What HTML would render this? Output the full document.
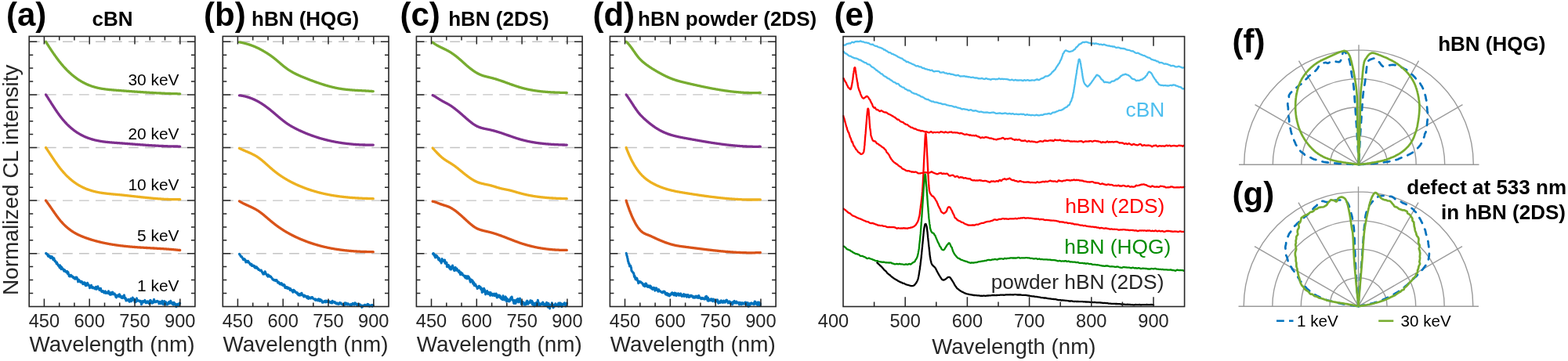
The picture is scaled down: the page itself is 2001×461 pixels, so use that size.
<!DOCTYPE html>
<html><head><meta charset="utf-8"><title>CL spectra figure</title>
<style>
html,body{margin:0;padding:0;background:#fff;}
body{width:2001px;height:461px;overflow:hidden;}
svg{display:block;font-family:'Liberation Sans', Arial, sans-serif;}
</style></head><body>
<svg width="2001" height="461" viewBox="0 0 2001 461">
<rect width="2001" height="461" fill="#fff"/>
<line x1="38" y1="323.7" x2="248.9" y2="323.7" stroke="#c4c4c4" stroke-width="1.4" stroke-dasharray="12.7 8.3"/>
<line x1="38" y1="256.1" x2="248.9" y2="256.1" stroke="#c4c4c4" stroke-width="1.4" stroke-dasharray="12.7 8.3"/>
<line x1="38" y1="188.5" x2="248.9" y2="188.5" stroke="#c4c4c4" stroke-width="1.4" stroke-dasharray="12.7 8.3"/>
<line x1="38" y1="120.9" x2="248.9" y2="120.9" stroke="#c4c4c4" stroke-width="1.4" stroke-dasharray="12.7 8.3"/>
<line x1="38" y1="53.3" x2="248.9" y2="53.3" stroke="#c4c4c4" stroke-width="1.4" stroke-dasharray="12.7 8.3"/>
<path d="M58.5 53.3L59 54.1L59.5 54.9L60 55.7L60.5 56.5L61 57.2L61.5 58L62 58.8L62.5 59.6L63 60.4L63.5 61.1L64 61.9L64.5 62.7L65 63.4L65.5 64.2L66 64.9L66.5 65.7L67 66.4L67.5 67.1L68 67.9L68.5 68.6L69 69.3L69.5 70L70 70.7L70.5 71.4L71 72.1L71.5 72.8L72 73.5L72.5 74.2L73 74.9L73.5 75.5L74 76.2L74.5 76.9L75 77.5L75.5 78.2L76 78.8L76.5 79.4L77 80L77.5 80.6L78 81.3L78.5 81.9L79 82.5L79.5 83L80 83.6L80.5 84.2L81 84.8L81.5 85.3L82 85.9L82.5 86.4L83 87L83.5 87.5L84 88L84.5 88.5L85 89.1L85.5 89.6L86 90.1L86.5 90.6L87 91L87.5 91.5L88 92L88.5 92.5L89 92.9L89.5 93.4L90 93.8L90.5 94.3L91 94.7L91.5 95.2L92 95.6L92.5 96L93 96.4L93.5 96.8L94 97.2L94.5 97.6L95 98L95.5 98.4L96 98.8L96.5 99.2L97 99.5L97.5 99.9L98 100.3L98.5 100.6L99 101L99.5 101.3L100 101.6L100.5 102L101 102.3L101.5 102.6L102 102.9L102.5 103.2L103 103.5L103.5 103.8L104 104.1L104.5 104.4L105 104.7L105.5 105L106 105.3L106.5 105.5L107 105.8L107.5 106L108 106.3L108.5 106.5L109 106.8L109.5 107L110 107.3L110.5 107.5L111 107.7L111.5 107.9L112 108.1L112.5 108.4L113 108.6L113.5 108.8L114 109L114.5 109.1L115 109.3L115.5 109.5L116 109.7L116.5 109.9L117 110L117.5 110.2L118 110.4L118.5 110.5L119 110.7L119.5 110.8L120 111L120.5 111.1L121 111.3L121.5 111.4L122 111.5L122.5 111.7L123 111.8L123.5 111.9L124 112L124.5 112.2L125 112.3L125.5 112.4L126 112.5L126.5 112.6L127 112.7L127.5 112.8L128 112.9L128.5 113L129 113.1L129.5 113.2L130 113.3L130.5 113.3L131 113.4L131.5 113.5L132 113.6L132.5 113.6L133 113.7L133.5 113.8L134 113.9L134.5 113.9L135 114L135.5 114.1L136 114.1L136.5 114.2L137 114.2L137.5 114.3L138 114.3L138.5 114.4L139 114.5L139.5 114.5L140 114.6L140.5 114.6L141 114.7L141.5 114.7L142 114.7L142.5 114.8L143 114.8L143.5 114.9L144 114.9L144.5 115L145 115L145.5 115L146 115.1L146.5 115.1L147 115.2L147.5 115.2L148 115.2L148.5 115.3L149 115.3L149.5 115.4L150 115.4L150.5 115.4L151 115.5L151.5 115.5L152 115.5L152.5 115.6L153 115.6L153.5 115.7L154 115.7L154.5 115.7L155 115.8L155.5 115.8L156 115.8L156.5 115.9L157 115.9L157.5 116L158 116L158.5 116L159 116.1L159.5 116.1L160 116.2L160.5 116.2L161 116.2L161.5 116.3L162 116.3L162.5 116.3L163 116.4L163.5 116.4L164 116.4L164.5 116.5L165 116.5L165.5 116.6L166 116.6L166.5 116.6L167 116.7L167.5 116.7L168 116.7L168.5 116.8L169 116.8L169.5 116.9L170 116.9L170.5 116.9L171 117L171.5 117L172 117L172.5 117.1L173 117.1L173.5 117.1L174 117.2L174.5 117.2L175 117.2L175.5 117.3L176 117.3L176.5 117.3L177 117.4L177.5 117.4L178 117.4L178.5 117.5L179 117.5L179.5 117.5L180 117.6L180.5 117.6L181 117.6L181.5 117.7L182 117.7L182.5 117.7L183 117.8L183.5 117.8L184 117.8L184.5 117.9L185 117.9L185.5 117.9L186 118L186.5 118L187 118L187.5 118.1L188 118.1L188.5 118.1L189 118.2L189.5 118.2L190 118.2L190.5 118.2L191 118.3L191.5 118.3L192 118.3L192.5 118.4L193 118.4L193.5 118.4L194 118.5L194.5 118.5L195 118.5L195.5 118.5L196 118.6L196.5 118.6L197 118.6L197.5 118.6L198 118.7L198.5 118.7L199 118.7L199.5 118.8L200 118.8L200.5 118.8L201 118.8L201.5 118.9L202 118.9L202.5 118.9L203 118.9L203.5 119L204 119L204.5 119L205 119L205.5 119L206 119.1L206.5 119.1L207 119.1L207.5 119.1L208 119.2L208.5 119.2L209 119.2L209.5 119.2L210 119.2L210.5 119.3L211 119.3L211.5 119.3L212 119.3L212.5 119.3L213 119.4L213.5 119.4L214 119.4L214.5 119.4L215 119.4L215.5 119.5L216 119.5L216.5 119.5L217 119.5L217.5 119.5L218 119.5L218.5 119.6L219 119.6L219.5 119.6L220 119.6L220.5 119.6L221 119.6L221.5 119.6L222 119.6L222.5 119.7L223 119.7L223.5 119.7L224 119.7L224.5 119.7L225 119.7L225.5 119.7L226 119.7L226.5 119.8L227 119.8L227.5 119.8L228 119.8L228.5 119.8L229 119.8L229.5 119.8L229.7 119.8" fill="none" stroke="#77AC30" stroke-width="3.3" stroke-linecap="round" stroke-linejoin="round"/>
<path d="M58.5 120.9L59 121.6L59.5 122.4L60 123.2L60.5 123.9L61 124.7L61.5 125.5L62 126.3L62.5 127.1L63 127.9L63.5 128.6L64 129.4L64.5 130.2L65 131L65.5 131.8L66 132.6L66.5 133.3L67 134.1L67.5 134.9L68 135.7L68.5 136.5L69 137.2L69.5 138L70 138.7L70.5 139.5L71 140.3L71.5 141L72 141.7L72.5 142.5L73 143.2L73.5 143.9L74 144.6L74.5 145.3L75 146L75.5 146.7L76 147.4L76.5 148.1L77 148.7L77.5 149.4L78 150L78.5 150.6L79 151.3L79.5 151.9L80 152.5L80.5 153.1L81 153.7L81.5 154.2L82 154.8L82.5 155.4L83 155.9L83.5 156.5L84 157L84.5 157.5L85 158.1L85.5 158.6L86 159.1L86.5 159.6L87 160.1L87.5 160.5L88 161L88.5 161.5L89 161.9L89.5 162.4L90 162.8L90.5 163.3L91 163.7L91.5 164.1L92 164.5L92.5 164.9L93 165.3L93.5 165.7L94 166.1L94.5 166.5L95 166.9L95.5 167.2L96 167.6L96.5 167.9L97 168.3L97.5 168.6L98 169L98.5 169.3L99 169.6L99.5 169.9L100 170.2L100.5 170.5L101 170.8L101.5 171.1L102 171.4L102.5 171.7L103 172L103.5 172.3L104 172.5L104.5 172.8L105 173L105.5 173.3L106 173.5L106.5 173.8L107 174L107.5 174.2L108 174.5L108.5 174.7L109 174.9L109.5 175.1L110 175.3L110.5 175.5L111 175.7L111.5 175.9L112 176.1L112.5 176.3L113 176.5L113.5 176.6L114 176.8L114.5 177L115 177.1L115.5 177.3L116 177.5L116.5 177.6L117 177.8L117.5 177.9L118 178.1L118.5 178.2L119 178.3L119.5 178.5L120 178.6L120.5 178.7L121 178.9L121.5 179L122 179.1L122.5 179.2L123 179.3L123.5 179.4L124 179.5L124.5 179.6L125 179.7L125.5 179.8L126 179.9L126.5 180L127 180.1L127.5 180.2L128 180.3L128.5 180.4L129 180.4L129.5 180.5L130 180.6L130.5 180.7L131 180.8L131.5 180.8L132 180.9L132.5 181L133 181L133.5 181.1L134 181.1L134.5 181.2L135 181.3L135.5 181.3L136 181.4L136.5 181.4L137 181.5L137.5 181.5L138 181.6L138.5 181.6L139 181.7L139.5 181.7L140 181.8L140.5 181.8L141 181.9L141.5 181.9L142 181.9L142.5 182L143 182L143.5 182.1L144 182.1L144.5 182.1L145 182.2L145.5 182.2L146 182.3L146.5 182.3L147 182.3L147.5 182.4L148 182.4L148.5 182.4L149 182.5L149.5 182.5L150 182.6L150.5 182.6L151 182.6L151.5 182.7L152 182.7L152.5 182.7L153 182.8L153.5 182.8L154 182.9L154.5 182.9L155 182.9L155.5 183L156 183L156.5 183L157 183.1L157.5 183.1L158 183.2L158.5 183.2L159 183.2L159.5 183.3L160 183.3L160.5 183.3L161 183.4L161.5 183.4L162 183.5L162.5 183.5L163 183.5L163.5 183.6L164 183.6L164.5 183.7L165 183.7L165.5 183.7L166 183.8L166.5 183.8L167 183.8L167.5 183.9L168 183.9L168.5 184L169 184L169.5 184L170 184.1L170.5 184.1L171 184.2L171.5 184.2L172 184.2L172.5 184.3L173 184.3L173.5 184.3L174 184.4L174.5 184.4L175 184.5L175.5 184.5L176 184.5L176.5 184.6L177 184.6L177.5 184.6L178 184.7L178.5 184.7L179 184.8L179.5 184.8L180 184.8L180.5 184.9L181 184.9L181.5 184.9L182 185L182.5 185L183 185L183.5 185.1L184 185.1L184.5 185.2L185 185.2L185.5 185.2L186 185.3L186.5 185.3L187 185.3L187.5 185.4L188 185.4L188.5 185.4L189 185.5L189.5 185.5L190 185.5L190.5 185.6L191 185.6L191.5 185.6L192 185.7L192.5 185.7L193 185.7L193.5 185.7L194 185.8L194.5 185.8L195 185.8L195.5 185.9L196 185.9L196.5 185.9L197 186L197.5 186L198 186L198.5 186L199 186.1L199.5 186.1L200 186.1L200.5 186.2L201 186.2L201.5 186.2L202 186.2L202.5 186.3L203 186.3L203.5 186.3L204 186.3L204.5 186.4L205 186.4L205.5 186.4L206 186.4L206.5 186.5L207 186.5L207.5 186.5L208 186.5L208.5 186.5L209 186.6L209.5 186.6L210 186.6L210.5 186.6L211 186.6L211.5 186.7L212 186.7L212.5 186.7L213 186.7L213.5 186.7L214 186.8L214.5 186.8L215 186.8L215.5 186.8L216 186.8L216.5 186.8L217 186.9L217.5 186.9L218 186.9L218.5 186.9L219 186.9L219.5 186.9L220 186.9L220.5 186.9L221 187L221.5 187L222 187L222.5 187L223 187L223.5 187L224 187L224.5 187L225 187L225.5 187L226 187L226.5 187L227 187L227.5 187.1L228 187.1L228.5 187.1L229 187.1L229.5 187.1L229.7 187.1" fill="none" stroke="#7E2F8E" stroke-width="3.3" stroke-linecap="round" stroke-linejoin="round"/>
<path d="M58.5 188.5L59 189.2L59.5 189.9L60 190.7L60.5 191.4L61 192.2L61.5 192.9L62 193.7L62.5 194.4L63 195.2L63.5 196L64 196.7L64.5 197.5L65 198.2L65.5 199L66 199.7L66.5 200.5L67 201.2L67.5 202L68 202.7L68.5 203.5L69 204.2L69.5 204.9L70 205.7L70.5 206.4L71 207.1L71.5 207.8L72 208.5L72.5 209.2L73 209.9L73.5 210.6L74 211.3L74.5 212L75 212.7L75.5 213.3L76 214L76.5 214.6L77 215.3L77.5 215.9L78 216.5L78.5 217.1L79 217.7L79.5 218.3L80 218.9L80.5 219.5L81 220L81.5 220.6L82 221.2L82.5 221.7L83 222.2L83.5 222.8L84 223.3L84.5 223.8L85 224.3L85.5 224.8L86 225.3L86.5 225.8L87 226.2L87.5 226.7L88 227.2L88.5 227.6L89 228.1L89.5 228.5L90 228.9L90.5 229.4L91 229.8L91.5 230.2L92 230.6L92.5 231L93 231.4L93.5 231.8L94 232.1L94.5 232.5L95 232.9L95.5 233.2L96 233.6L96.5 233.9L97 234.3L97.5 234.6L98 234.9L98.5 235.3L99 235.6L99.5 235.9L100 236.2L100.5 236.5L101 236.8L101.5 237.1L102 237.3L102.5 237.6L103 237.9L103.5 238.2L104 238.4L104.5 238.7L105 238.9L105.5 239.2L106 239.4L106.5 239.6L107 239.9L107.5 240.1L108 240.3L108.5 240.5L109 240.8L109.5 241L110 241.2L110.5 241.4L111 241.6L111.5 241.7L112 241.9L112.5 242.1L113 242.3L113.5 242.5L114 242.6L114.5 242.8L115 243L115.5 243.1L116 243.3L116.5 243.4L117 243.6L117.5 243.7L118 243.9L118.5 244L119 244.1L119.5 244.3L120 244.4L120.5 244.5L121 244.6L121.5 244.8L122 244.9L122.5 245L123 245.1L123.5 245.2L124 245.3L124.5 245.4L125 245.5L125.5 245.6L126 245.7L126.5 245.8L127 245.9L127.5 246L128 246.1L128.5 246.1L129 246.2L129.5 246.3L130 246.4L130.5 246.5L131 246.5L131.5 246.6L132 246.7L132.5 246.7L133 246.8L133.5 246.9L134 246.9L134.5 247L135 247L135.5 247.1L136 247.2L136.5 247.2L137 247.3L137.5 247.3L138 247.4L138.5 247.4L139 247.5L139.5 247.5L140 247.6L140.5 247.6L141 247.7L141.5 247.7L142 247.8L142.5 247.8L143 247.9L143.5 247.9L144 248L144.5 248L145 248.1L145.5 248.1L146 248.1L146.5 248.2L147 248.2L147.5 248.3L148 248.3L148.5 248.4L149 248.4L149.5 248.5L150 248.5L150.5 248.6L151 248.6L151.5 248.6L152 248.7L152.5 248.7L153 248.8L153.5 248.8L154 248.9L154.5 248.9L155 249L155.5 249L156 249.1L156.5 249.1L157 249.2L157.5 249.2L158 249.3L158.5 249.4L159 249.4L159.5 249.5L160 249.5L160.5 249.6L161 249.6L161.5 249.7L162 249.7L162.5 249.8L163 249.8L163.5 249.9L164 249.9L164.5 250L165 250.1L165.5 250.1L166 250.2L166.5 250.2L167 250.3L167.5 250.3L168 250.4L168.5 250.4L169 250.5L169.5 250.6L170 250.6L170.5 250.7L171 250.7L171.5 250.8L172 250.8L172.5 250.9L173 250.9L173.5 251L174 251.1L174.5 251.1L175 251.2L175.5 251.2L176 251.3L176.5 251.3L177 251.4L177.5 251.4L178 251.5L178.5 251.5L179 251.6L179.5 251.7L180 251.7L180.5 251.8L181 251.8L181.5 251.9L182 251.9L182.5 252L183 252L183.5 252.1L184 252.1L184.5 252.2L185 252.2L185.5 252.3L186 252.3L186.5 252.4L187 252.4L187.5 252.5L188 252.5L188.5 252.6L189 252.6L189.5 252.7L190 252.7L190.5 252.8L191 252.8L191.5 252.9L192 252.9L192.5 253L193 253L193.5 253.1L194 253.1L194.5 253.2L195 253.2L195.5 253.3L196 253.3L196.5 253.3L197 253.4L197.5 253.4L198 253.5L198.5 253.5L199 253.6L199.5 253.6L200 253.6L200.5 253.7L201 253.7L201.5 253.8L202 253.8L202.5 253.8L203 253.9L203.5 253.9L204 253.9L204.5 254L205 254L205.5 254L206 254.1L206.5 254.1L207 254.1L207.5 254.2L208 254.2L208.5 254.2L209 254.3L209.5 254.3L210 254.3L210.5 254.3L211 254.4L211.5 254.4L212 254.4L212.5 254.4L213 254.5L213.5 254.5L214 254.5L214.5 254.5L215 254.5L215.5 254.6L216 254.6L216.5 254.6L217 254.6L217.5 254.6L218 254.6L218.5 254.6L219 254.7L219.5 254.7L220 254.7L220.5 254.7L221 254.7L221.5 254.7L222 254.7L222.5 254.7L223 254.7L223.5 254.7L224 254.7L224.5 254.7L225 254.7L225.5 254.7L226 254.7L226.5 254.7L227 254.7L227.5 254.7L228 254.7L228.5 254.7L229 254.7L229.5 254.7L229.7 254.7" fill="none" stroke="#EDB120" stroke-width="3.3" stroke-linecap="round" stroke-linejoin="round"/>
<path d="M58.5 256.1L59 256.7L59.5 257.4L60 258.1L60.5 258.8L61 259.5L61.5 260.2L62 260.9L62.5 261.6L63 262.3L63.5 263L64 263.7L64.5 264.4L65 265.2L65.5 265.9L66 266.6L66.5 267.3L67 268.1L67.5 268.8L68 269.5L68.5 270.2L69 271L69.5 271.7L70 272.4L70.5 273.1L71 273.8L71.5 274.5L72 275.2L72.5 275.9L73 276.6L73.5 277.2L74 277.9L74.5 278.5L75 279.2L75.5 279.8L76 280.4L76.5 281.1L77 281.7L77.5 282.3L78 282.8L78.5 283.4L79 284L79.5 284.5L80 285L80.5 285.6L81 286.1L81.5 286.6L82 287.1L82.5 287.6L83 288.1L83.5 288.6L84 289L84.5 289.5L85 289.9L85.5 290.4L86 290.8L86.5 291.2L87 291.6L87.5 292L88 292.4L88.5 292.8L89 293.2L89.5 293.5L90 293.9L90.5 294.3L91 294.6L91.5 295L92 295.3L92.5 295.6L93 295.9L93.5 296.3L94 296.6L94.5 296.9L95 297.2L95.5 297.5L96 297.8L96.5 298L97 298.3L97.5 298.6L98 298.8L98.5 299.1L99 299.4L99.5 299.6L100 299.8L100.5 300.1L101 300.3L101.5 300.5L102 300.8L102.5 301L103 301.2L103.5 301.4L104 301.6L104.5 301.8L105 302L105.5 302.3L106 302.4L106.5 302.6L107 302.8L107.5 303L108 303.2L108.5 303.4L109 303.6L109.5 303.7L110 303.9L110.5 304.1L111 304.3L111.5 304.4L112 304.6L112.5 304.8L113 304.9L113.5 305.1L114 305.3L114.5 305.4L115 305.6L115.5 305.8L116 305.9L116.5 306.1L117 306.2L117.5 306.4L118 306.5L118.5 306.7L119 306.8L119.5 307L120 307.1L120.5 307.2L121 307.4L121.5 307.5L122 307.7L122.5 307.8L123 307.9L123.5 308.1L124 308.2L124.5 308.3L125 308.5L125.5 308.6L126 308.7L126.5 308.8L127 308.9L127.5 309.1L128 309.2L128.5 309.3L129 309.4L129.5 309.5L130 309.7L130.5 309.8L131 309.9L131.5 310L132 310.1L132.5 310.2L133 310.3L133.5 310.4L134 310.5L134.5 310.6L135 310.7L135.5 310.8L136 310.9L136.5 311L137 311.1L137.5 311.2L138 311.3L138.5 311.4L139 311.5L139.5 311.6L140 311.7L140.5 311.8L141 311.8L141.5 311.9L142 312L142.5 312.1L143 312.2L143.5 312.3L144 312.3L144.5 312.4L145 312.5L145.5 312.6L146 312.7L146.5 312.7L147 312.8L147.5 312.9L148 313L148.5 313L149 313.1L149.5 313.2L150 313.2L150.5 313.3L151 313.4L151.5 313.4L152 313.5L152.5 313.6L153 313.6L153.5 313.7L154 313.8L154.5 313.8L155 313.9L155.5 313.9L156 314L156.5 314L157 314.1L157.5 314.2L158 314.2L158.5 314.3L159 314.3L159.5 314.4L160 314.4L160.5 314.5L161 314.5L161.5 314.6L162 314.6L162.5 314.7L163 314.7L163.5 314.8L164 314.8L164.5 314.9L165 314.9L165.5 315L166 315L166.5 315.1L167 315.1L167.5 315.1L168 315.2L168.5 315.2L169 315.3L169.5 315.3L170 315.3L170.5 315.4L171 315.4L171.5 315.5L172 315.5L172.5 315.5L173 315.6L173.5 315.6L174 315.6L174.5 315.7L175 315.7L175.5 315.8L176 315.8L176.5 315.8L177 315.9L177.5 315.9L178 315.9L178.5 316L179 316L179.5 316L180 316.1L180.5 316.1L181 316.1L181.5 316.2L182 316.2L182.5 316.2L183 316.2L183.5 316.3L184 316.3L184.5 316.3L185 316.4L185.5 316.4L186 316.4L186.5 316.5L187 316.5L187.5 316.5L188 316.5L188.5 316.6L189 316.6L189.5 316.6L190 316.7L190.5 316.7L191 316.7L191.5 316.7L192 316.8L192.5 316.8L193 316.8L193.5 316.9L194 316.9L194.5 316.9L195 316.9L195.5 317L196 317L196.5 317L197 317L197.5 317.1L198 317.1L198.5 317.1L199 317.2L199.5 317.2L200 317.2L200.5 317.3L201 317.3L201.5 317.3L202 317.3L202.5 317.4L203 317.4L203.5 317.4L204 317.5L204.5 317.5L205 317.5L205.5 317.6L206 317.6L206.5 317.6L207 317.6L207.5 317.7L208 317.7L208.5 317.7L209 317.8L209.5 317.8L210 317.8L210.5 317.9L211 317.9L211.5 317.9L212 318L212.5 318L213 318.1L213.5 318.1L214 318.1L214.5 318.2L215 318.2L215.5 318.2L216 318.3L216.5 318.3L217 318.4L217.5 318.4L218 318.4L218.5 318.5L219 318.5L219.5 318.6L220 318.6L220.5 318.6L221 318.7L221.5 318.7L222 318.8L222.5 318.8L223 318.9L223.5 318.9L224 319L224.5 319L225 319.1L225.5 319.1L226 319.2L226.5 319.2L227 319.3L227.5 319.3L228 319.4L228.5 319.4L229 319.5L229.5 319.5L229.7 319.5" fill="none" stroke="#D95319" stroke-width="3.3" stroke-linecap="round" stroke-linejoin="round"/>
<path d="M58.5 323.4L58.9 324L59.3 324.3L59.7 324.1L60.1 325L60.5 324.7L60.9 325.8L61.3 327.2L61.7 325.8L62.1 326.3L62.5 327.8L62.9 327.9L63.3 327.8L63.7 327.1L64.1 328.4L64.5 329.6L64.9 328.1L65.3 329L65.7 327.6L66.1 328.3L66.5 327.9L66.9 329.8L67.3 329.5L67.7 331.5L68.1 331.8L68.5 331.7L68.9 329.6L69.3 331.8L69.7 332.8L70.1 333.7L70.5 332.8L70.9 334.4L71.3 334.4L71.7 334.9L72.1 336.8L72.5 335L72.9 336.1L73.3 337.7L73.7 337.3L74.1 338.6L74.5 339.4L74.9 339.7L75.3 339.1L75.7 340.7L76.1 341.9L76.5 338.7L76.9 340.7L77.3 340.2L77.7 340.3L78.1 343.7L78.5 343L78.9 341.4L79.3 342.7L79.7 343.4L80.1 343L80.5 344.2L80.9 344L81.3 345.1L81.7 346.3L82.1 344.4L82.5 345.3L82.9 345.1L83.3 346.6L83.7 346.2L84.1 347.2L84.5 347.3L84.9 348L85.3 348.2L85.7 346.4L86.1 347.6L86.5 349.6L86.9 347.4L87.3 349.2L87.7 350.3L88.1 352.6L88.5 352.9L88.9 352.2L89.3 352L89.7 351.6L90.1 353L90.5 351.2L90.9 351.6L91.3 352.7L91.7 352.8L92.1 353.3L92.5 352.8L92.9 354L93.3 353.6L93.7 355L94.1 354.6L94.5 354.4L94.9 355.5L95.3 354.9L95.7 356.3L96.1 355.3L96.5 355.9L96.9 354.1L97.3 355.8L97.7 354.1L98.1 354.3L98.5 356.5L98.9 356.5L99.3 357.9L99.7 359.9L100.1 357L100.5 357.3L100.9 358.3L101.3 358.9L101.7 358.6L102.1 358.9L102.5 360.2L102.9 360.4L103.3 359.2L103.7 360.1L104.1 360.3L104.5 359.5L104.9 361.2L105.3 360.6L105.7 362.7L106.1 362L106.5 362L106.9 361.6L107.3 362.4L107.7 360.7L108.1 361.6L108.5 363.3L108.9 361.4L109.3 364.8L109.7 362.5L110.1 364.7L110.5 362.8L110.9 363.9L111.3 363.1L111.7 361.3L112.1 363.8L112.5 364.2L112.9 363.4L113.3 363.9L113.7 364.9L114.1 365L114.5 367.7L114.9 366.6L115.3 367L115.7 365.7L116.1 365.1L116.5 364.2L116.9 366.9L117.3 366.2L117.7 367.8L118.1 367.2L118.5 366.6L118.9 367L119.3 367.1L119.7 368.1L120.1 368.1L120.5 368.4L120.9 367.2L121.3 367.2L121.7 369.1L122.1 366.6L122.5 366.4L122.9 368.1L123.3 369.4L123.7 366.7L124.1 367.7L124.5 367L124.9 365.7L125.3 368.2L125.7 367.9L126.1 368.7L126.5 368.7L126.9 370.4L127.3 369.5L127.7 369.5L128.1 368.3L128.5 368.3L128.9 371.3L129.3 370.5L129.7 372.4L130.1 372.6L130.5 372.3L130.9 372L131.3 372.7L131.7 371.6L132.1 371.9L132.5 372.5L132.9 374L133.3 373.8L133.7 373.5L134.1 372.5L134.5 371.9L134.9 374.4L135.3 374.5L135.7 373.2L136.1 373.6L136.5 373.8L136.9 374.1L137.3 374.4L137.7 373L138.1 374.6L138.5 371.7L138.9 373.6L139.3 373.6L139.7 374.6L140.1 376.1L140.5 376.2L140.9 374.1L141.3 373.7L141.7 376.2L142.1 374.4L142.5 375.2L142.9 375.7L143.3 373.3L143.7 373L144.1 375.7L144.5 375.8L144.9 375.6L145.3 375.9L145.7 375.2L146.1 374.8L146.5 376.3L146.9 376L147.3 376.1L147.7 379.1L148.1 379.3L148.5 379.9L148.9 378.3L149.3 378.2L149.7 377.4L150.1 377.2L150.5 378.1L150.9 376.9L151.3 377.7L151.7 377.4L152.1 378.9L152.5 375.8L152.9 378.5L153.3 378.3L153.7 378.9L154.1 377.9L154.5 379L154.9 380.2L155.3 379.2L155.7 379.2L156.1 378.9L156.5 380.6L156.9 379.8L157.3 377.9L157.7 379.3L158.1 378.1L158.5 376.9L158.9 379.4L159.3 381.2L159.7 380.5L160.1 380.3L160.5 381.4L160.9 384L161.3 383.2L161.7 383L162.1 382.8L162.5 382.9L162.9 383.6L163.3 383.3L163.7 383.2L164.1 382.4L164.5 384.3L164.9 383.6L165.3 385.3L165.7 382.7L166.1 383L166.5 382.6L166.9 381.4L167.3 384.7L167.7 384.7L168.1 382.8L168.5 383.6L168.9 382.9L169.3 380L169.7 382.9L170.1 382.6L170.5 382.6L170.9 381.6L171.3 382.8L171.7 383.8L172.1 386.1L172.5 385.8L172.9 385.2L173.3 385.7L173.7 382.7L174.1 382.3L174.5 380.9L174.9 384.4L175.3 384L175.7 384.1L176.1 384L176.5 383.7L176.9 384.2L177.3 384L177.7 384.1L178.1 384.2L178.5 385.2L178.9 384.2L179.3 384.2L179.7 384.8L180.1 385.9L180.5 388.7L180.9 387.6L181.3 386.6L181.7 385.7L182.1 384.6L182.5 385.3L182.9 386L183.3 384.6L183.7 384.5L184.1 384.3L184.5 384.6L184.9 383.4L185.3 385.2L185.7 385L186.1 386.8L186.5 385.2L186.9 386.1L187.3 386.7L187.7 385L188.1 384.8L188.5 385.8L188.9 386L189.3 385.2L189.7 386.4L190.1 387.6L190.5 385.2L190.9 385L191.3 383.8L191.7 384.9L192.1 383.4L192.5 384L192.9 386.9L193.3 385.2L193.7 387L194.1 387.1L194.5 385.6L194.9 385.7L195.3 386.8L195.7 384.4L196.1 383.5L196.5 382.4L196.9 383.7L197.3 385.4L197.7 385.7L198.1 384.8L198.5 385.4L198.9 385.7L199.3 385.8L199.7 384.6L200.1 384.5L200.5 384.6L200.9 384.3L201.3 384.7L201.7 385.1L202.1 385.1L202.5 386L202.9 387.8L203.3 387.1L203.7 386.8L204.1 385.4L204.5 387.6L204.9 385.6L205.3 386L205.7 387.7L206.1 387.1L206.5 385.9L206.9 384.3L207.3 385.7L207.7 385.8L208.1 387.3L208.5 388.9L208.9 386.6L209.3 385.2L209.7 384.5L210.1 385.7L210.5 385.9L210.9 385.4L211.3 386.8L211.7 385.7L212.1 388.1L212.5 388.5L212.9 389.1L213.3 388.1L213.7 389L214.1 387.9L214.5 387L214.9 386.7L215.3 385.7L215.7 385.6L216.1 387.6L216.5 386.5L216.9 386.7L217.3 387.2L217.7 384.2L218.1 385.1L218.5 386.3L218.9 387L219.3 386.6L219.7 388.1L220.1 387.5L220.5 386.5L220.9 387.3L221.3 389.2L221.7 388.8L222.1 386.3L222.5 389L222.9 388.2L223.3 389L223.7 387.8L224.1 388.6L224.5 388.3L224.9 391.8L225.3 389L225.7 390.5L226.1 388.6L226.5 389.7L226.9 388.2L227.3 389.3L227.7 390.3L228.1 387.9L228.5 389.9L228.9 388.9L229.3 387.1L229.7 387.2L229.7 387.3" fill="none" stroke="#0072BD" stroke-width="3.0" stroke-linecap="round" stroke-linejoin="round"/>
<rect x="37.2" y="46.4" width="211.7" height="345.1" fill="none" stroke="#262626" stroke-width="1.6"/>
<path d="M56.4 391.5v-10M56.4 46.4v10M75.7 391.5v-5M75.7 46.4v5M94.9 391.5v-5M94.9 46.4v5M114.2 391.5v-10M114.2 46.4v10M133.5 391.5v-5M133.5 46.4v5M152.7 391.5v-5M152.7 46.4v5M172 391.5v-10M172 46.4v10M191.3 391.5v-5M191.3 46.4v5M210.5 391.5v-5M210.5 46.4v5M229.8 391.5v-10M229.8 46.4v10M37.2 374.4h5M248.9 374.4h-5M37.2 357.5h5M248.9 357.5h-5M37.2 340.6h5M248.9 340.6h-5M37.2 323.7h10M248.9 323.7h-10M37.2 306.8h5M248.9 306.8h-5M37.2 289.9h5M248.9 289.9h-5M37.2 273h5M248.9 273h-5M37.2 256.1h10M248.9 256.1h-10M37.2 239.2h5M248.9 239.2h-5M37.2 222.3h5M248.9 222.3h-5M37.2 205.4h5M248.9 205.4h-5M37.2 188.5h10M248.9 188.5h-10M37.2 171.6h5M248.9 171.6h-5M37.2 154.7h5M248.9 154.7h-5M37.2 137.8h5M248.9 137.8h-5M37.2 120.9h10M248.9 120.9h-10M37.2 104h5M248.9 104h-5M37.2 87.1h5M248.9 87.1h-5M37.2 70.2h5M248.9 70.2h-5M37.2 53.3h10M248.9 53.3h-10" stroke="#262626" stroke-width="1.5" fill="none"/>
<text x="56.4" y="417.9" text-anchor="middle" font-size="23.6" fill="#262626">450</text>
<text x="114.2" y="417.9" text-anchor="middle" font-size="23.6" fill="#262626">600</text>
<text x="172" y="417.9" text-anchor="middle" font-size="23.6" fill="#262626">750</text>
<text x="229.8" y="417.9" text-anchor="middle" font-size="23.6" fill="#262626">900</text>
<text x="143" y="449.2" text-anchor="middle" font-size="27.85" fill="#262626">Wavelength (nm)</text>
<text x="228.5" y="109.3" text-anchor="end" font-size="20.9" fill="#000">30 keV</text>
<text x="228.5" y="177.6" text-anchor="end" font-size="20.9" fill="#000">20 keV</text>
<text x="228.5" y="242.7" text-anchor="end" font-size="20.9" fill="#000">10 keV</text>
<text x="228.5" y="307.8" text-anchor="end" font-size="20.9" fill="#000">5 keV</text>
<text x="228.5" y="372.4" text-anchor="end" font-size="20.9" fill="#000">1 keV</text>
<text x="8" y="32.5" font-size="42" font-weight="bold" fill="#000">(a)</text>
<text x="117.5" y="33.3" font-size="26" font-weight="bold" fill="#000">cBN</text>
<line x1="285.1" y1="323.7" x2="496" y2="323.7" stroke="#c4c4c4" stroke-width="1.4" stroke-dasharray="12.7 8.3"/>
<line x1="285.1" y1="256.1" x2="496" y2="256.1" stroke="#c4c4c4" stroke-width="1.4" stroke-dasharray="12.7 8.3"/>
<line x1="285.1" y1="188.5" x2="496" y2="188.5" stroke="#c4c4c4" stroke-width="1.4" stroke-dasharray="12.7 8.3"/>
<line x1="285.1" y1="120.9" x2="496" y2="120.9" stroke="#c4c4c4" stroke-width="1.4" stroke-dasharray="12.7 8.3"/>
<line x1="285.1" y1="53.3" x2="496" y2="53.3" stroke="#c4c4c4" stroke-width="1.4" stroke-dasharray="12.7 8.3"/>
<path d="M305.4 53.8L305.9 53.9L306.4 54L306.9 54.1L307.4 54.2L307.9 54.3L308.4 54.4L308.9 54.5L309.4 54.6L309.9 54.7L310.4 54.9L310.9 55L311.4 55.1L311.9 55.2L312.4 55.4L312.9 55.5L313.4 55.6L313.9 55.8L314.4 55.9L314.9 56L315.4 56.2L315.9 56.3L316.4 56.5L316.9 56.6L317.4 56.8L317.9 56.9L318.4 57.1L318.9 57.3L319.4 57.4L319.9 57.6L320.4 57.8L320.9 58L321.4 58.2L321.9 58.3L322.4 58.5L322.9 58.7L323.4 58.9L323.9 59.1L324.4 59.3L324.9 59.5L325.4 59.7L325.9 59.9L326.4 60.2L326.9 60.4L327.4 60.6L327.9 60.8L328.4 61.1L328.9 61.3L329.4 61.5L329.9 61.8L330.4 62L330.9 62.3L331.4 62.5L331.9 62.8L332.4 63.1L332.9 63.3L333.4 63.6L333.9 63.9L334.4 64.2L334.9 64.4L335.4 64.7L335.9 65L336.4 65.3L336.9 65.6L337.4 65.9L337.9 66.2L338.4 66.5L338.9 66.8L339.4 67.1L339.9 67.4L340.4 67.7L340.9 68L341.4 68.3L341.9 68.7L342.4 69L342.9 69.3L343.4 69.6L343.9 70L344.4 70.3L344.9 70.7L345.4 71L345.9 71.4L346.4 71.7L346.9 72.1L347.4 72.5L347.9 72.8L348.4 73.2L348.9 73.6L349.4 74L349.9 74.4L350.4 74.8L350.9 75.2L351.4 75.6L351.9 76L352.4 76.4L352.9 76.8L353.4 77.3L353.9 77.7L354.4 78.1L354.9 78.5L355.4 79L355.9 79.4L356.4 79.8L356.9 80.2L357.4 80.7L357.9 81.1L358.4 81.5L358.9 82L359.4 82.4L359.9 82.8L360.4 83.2L360.9 83.6L361.4 84.1L361.9 84.5L362.4 84.9L362.9 85.3L363.4 85.7L363.9 86L364.4 86.4L364.9 86.8L365.4 87.2L365.9 87.5L366.4 87.9L366.9 88.2L367.4 88.6L367.9 88.9L368.4 89.3L368.9 89.6L369.4 89.9L369.9 90.2L370.4 90.5L370.9 90.8L371.4 91.1L371.9 91.4L372.4 91.7L372.9 92L373.4 92.3L373.9 92.6L374.4 92.8L374.9 93.1L375.4 93.4L375.9 93.6L376.4 93.9L376.9 94.1L377.4 94.4L377.9 94.6L378.4 94.9L378.9 95.1L379.4 95.4L379.9 95.6L380.4 95.8L380.9 96L381.4 96.3L381.9 96.5L382.4 96.7L382.9 96.9L383.4 97.2L383.9 97.4L384.4 97.6L384.9 97.8L385.4 98L385.9 98.2L386.4 98.4L386.9 98.6L387.4 98.8L387.9 99L388.4 99.2L388.9 99.4L389.4 99.6L389.9 99.8L390.4 100L390.9 100.2L391.4 100.4L391.9 100.6L392.4 100.8L392.9 101L393.4 101.2L393.9 101.4L394.4 101.6L394.9 101.8L395.4 102L395.9 102.2L396.4 102.4L396.9 102.5L397.4 102.7L397.9 102.9L398.4 103.1L398.9 103.3L399.4 103.5L399.9 103.7L400.4 103.8L400.9 104L401.4 104.2L401.9 104.4L402.4 104.6L402.9 104.8L403.4 104.9L403.9 105.1L404.4 105.3L404.9 105.5L405.4 105.6L405.9 105.8L406.4 106L406.9 106.1L407.4 106.3L407.9 106.5L408.4 106.7L408.9 106.8L409.4 107L409.9 107.1L410.4 107.3L410.9 107.5L411.4 107.6L411.9 107.8L412.4 107.9L412.9 108.1L413.4 108.3L413.9 108.4L414.4 108.6L414.9 108.7L415.4 108.9L415.9 109L416.4 109.2L416.9 109.3L417.4 109.4L417.9 109.6L418.4 109.7L418.9 109.9L419.4 110L419.9 110.1L420.4 110.3L420.9 110.4L421.4 110.5L421.9 110.7L422.4 110.8L422.9 110.9L423.4 111L423.9 111.2L424.4 111.3L424.9 111.4L425.4 111.5L425.9 111.6L426.4 111.7L426.9 111.9L427.4 112L427.9 112.1L428.4 112.2L428.9 112.3L429.4 112.4L429.9 112.5L430.4 112.6L430.9 112.7L431.4 112.8L431.9 112.9L432.4 113L432.9 113.1L433.4 113.1L433.9 113.2L434.4 113.3L434.9 113.4L435.4 113.5L435.9 113.5L436.4 113.6L436.9 113.7L437.4 113.8L437.9 113.8L438.4 113.9L438.9 114L439.4 114L439.9 114.1L440.4 114.2L440.9 114.2L441.4 114.3L441.9 114.3L442.4 114.4L442.9 114.4L443.4 114.5L443.9 114.5L444.4 114.6L444.9 114.6L445.4 114.7L445.9 114.7L446.4 114.8L446.9 114.8L447.4 114.9L447.9 114.9L448.4 114.9L448.9 115L449.4 115L449.9 115.1L450.4 115.1L450.9 115.1L451.4 115.2L451.9 115.2L452.4 115.2L452.9 115.3L453.4 115.3L453.9 115.3L454.4 115.4L454.9 115.4L455.4 115.4L455.9 115.4L456.4 115.5L456.9 115.5L457.4 115.5L457.9 115.6L458.4 115.6L458.9 115.6L459.4 115.6L459.9 115.7L460.4 115.7L460.9 115.7L461.4 115.7L461.9 115.8L462.4 115.8L462.9 115.8L463.4 115.8L463.9 115.9L464.4 115.9L464.9 115.9L465.4 115.9L465.9 116L466.4 116L466.9 116L467.4 116.1L467.9 116.1L468.4 116.1L468.9 116.1L469.4 116.2L469.9 116.2L470.4 116.2L470.9 116.3L471.4 116.3L471.9 116.3L472.4 116.4L472.9 116.4L473.4 116.4L473.9 116.5L474.4 116.5L474.9 116.5L475.4 116.6L475.9 116.6L476.3 116.6" fill="none" stroke="#77AC30" stroke-width="3.3" stroke-linecap="round" stroke-linejoin="round"/>
<path d="M305.4 121.8L305.9 121.8L306.4 121.9L306.9 122L307.4 122L307.9 122.1L308.4 122.2L308.9 122.3L309.4 122.4L309.9 122.5L310.4 122.6L310.9 122.7L311.4 122.8L311.9 122.9L312.4 123L312.9 123.1L313.4 123.3L313.9 123.4L314.4 123.5L314.9 123.7L315.4 123.8L315.9 123.9L316.4 124.1L316.9 124.2L317.4 124.4L317.9 124.6L318.4 124.7L318.9 124.9L319.4 125.1L319.9 125.3L320.4 125.5L320.9 125.7L321.4 125.8L321.9 126L322.4 126.3L322.9 126.5L323.4 126.7L323.9 126.9L324.4 127.1L324.9 127.4L325.4 127.6L325.9 127.8L326.4 128.1L326.9 128.3L327.4 128.6L327.9 128.8L328.4 129.1L328.9 129.4L329.4 129.6L329.9 129.9L330.4 130.2L330.9 130.5L331.4 130.8L331.9 131.1L332.4 131.4L332.9 131.7L333.4 132L333.9 132.3L334.4 132.7L334.9 133L335.4 133.3L335.9 133.7L336.4 134L336.9 134.3L337.4 134.7L337.9 135L338.4 135.4L338.9 135.8L339.4 136.1L339.9 136.5L340.4 136.9L340.9 137.2L341.4 137.6L341.9 138L342.4 138.4L342.9 138.8L343.4 139.2L343.9 139.5L344.4 139.9L344.9 140.3L345.4 140.7L345.9 141.2L346.4 141.6L346.9 142L347.4 142.4L347.9 142.8L348.4 143.2L348.9 143.6L349.4 144.1L349.9 144.5L350.4 144.9L350.9 145.3L351.4 145.8L351.9 146.2L352.4 146.6L352.9 147.1L353.4 147.5L353.9 147.9L354.4 148.3L354.9 148.8L355.4 149.2L355.9 149.6L356.4 150L356.9 150.5L357.4 150.9L357.9 151.3L358.4 151.7L358.9 152.1L359.4 152.5L359.9 152.9L360.4 153.3L360.9 153.7L361.4 154.1L361.9 154.5L362.4 154.9L362.9 155.3L363.4 155.7L363.9 156L364.4 156.4L364.9 156.8L365.4 157.1L365.9 157.5L366.4 157.8L366.9 158.1L367.4 158.5L367.9 158.8L368.4 159.1L368.9 159.4L369.4 159.8L369.9 160.1L370.4 160.4L370.9 160.7L371.4 161L371.9 161.3L372.4 161.6L372.9 161.8L373.4 162.1L373.9 162.4L374.4 162.7L374.9 162.9L375.4 163.2L375.9 163.5L376.4 163.7L376.9 164L377.4 164.3L377.9 164.5L378.4 164.8L378.9 165L379.4 165.3L379.9 165.5L380.4 165.7L380.9 166L381.4 166.2L381.9 166.5L382.4 166.7L382.9 166.9L383.4 167.1L383.9 167.4L384.4 167.6L384.9 167.8L385.4 168L385.9 168.3L386.4 168.5L386.9 168.7L387.4 168.9L387.9 169.1L388.4 169.3L388.9 169.6L389.4 169.8L389.9 170L390.4 170.2L390.9 170.4L391.4 170.6L391.9 170.8L392.4 171L392.9 171.2L393.4 171.4L393.9 171.6L394.4 171.8L394.9 172L395.4 172.1L395.9 172.3L396.4 172.5L396.9 172.7L397.4 172.9L397.9 173.1L398.4 173.3L398.9 173.4L399.4 173.6L399.9 173.8L400.4 174L400.9 174.1L401.4 174.3L401.9 174.5L402.4 174.6L402.9 174.8L403.4 175L403.9 175.1L404.4 175.3L404.9 175.4L405.4 175.6L405.9 175.8L406.4 175.9L406.9 176.1L407.4 176.2L407.9 176.4L408.4 176.5L408.9 176.7L409.4 176.8L409.9 177L410.4 177.1L410.9 177.2L411.4 177.4L411.9 177.5L412.4 177.6L412.9 177.8L413.4 177.9L413.9 178.1L414.4 178.2L414.9 178.3L415.4 178.4L415.9 178.6L416.4 178.7L416.9 178.8L417.4 178.9L417.9 179.1L418.4 179.2L418.9 179.3L419.4 179.4L419.9 179.5L420.4 179.6L420.9 179.8L421.4 179.9L421.9 180L422.4 180.1L422.9 180.2L423.4 180.3L423.9 180.4L424.4 180.5L424.9 180.6L425.4 180.7L425.9 180.8L426.4 180.9L426.9 181L427.4 181.1L427.9 181.2L428.4 181.3L428.9 181.4L429.4 181.5L429.9 181.6L430.4 181.7L430.9 181.7L431.4 181.8L431.9 181.9L432.4 182L432.9 182.1L433.4 182.2L433.9 182.2L434.4 182.3L434.9 182.4L435.4 182.5L435.9 182.5L436.4 182.6L436.9 182.7L437.4 182.8L437.9 182.8L438.4 182.9L438.9 183L439.4 183L439.9 183.1L440.4 183.2L440.9 183.2L441.4 183.3L441.9 183.4L442.4 183.4L442.9 183.5L443.4 183.5L443.9 183.6L444.4 183.6L444.9 183.7L445.4 183.7L445.9 183.8L446.4 183.8L446.9 183.9L447.4 183.9L447.9 184L448.4 184L448.9 184.1L449.4 184.1L449.9 184.2L450.4 184.2L450.9 184.3L451.4 184.3L451.9 184.3L452.4 184.4L452.9 184.4L453.4 184.5L453.9 184.5L454.4 184.5L454.9 184.6L455.4 184.6L455.9 184.6L456.4 184.6L456.9 184.7L457.4 184.7L457.9 184.7L458.4 184.8L458.9 184.8L459.4 184.8L459.9 184.8L460.4 184.9L460.9 184.9L461.4 184.9L461.9 184.9L462.4 184.9L462.9 185L463.4 185L463.9 185L464.4 185L464.9 185L465.4 185L465.9 185L466.4 185.1L466.9 185.1L467.4 185.1L467.9 185.1L468.4 185.1L468.9 185.1L469.4 185.1L469.9 185.1L470.4 185.1L470.9 185.1L471.4 185.1L471.9 185.1L472.4 185.1L472.9 185.1L473.4 185.1L473.9 185.1L474.4 185.1L474.9 185.1L475.4 185.1L475.9 185.1L476.3 185.1" fill="none" stroke="#7E2F8E" stroke-width="3.3" stroke-linecap="round" stroke-linejoin="round"/>
<path d="M305.4 189.3L305.9 189.6L306.4 189.8L306.9 190.1L307.4 190.3L307.9 190.5L308.4 190.8L308.9 191L309.4 191.2L309.9 191.4L310.4 191.7L310.9 191.9L311.4 192.1L311.9 192.3L312.4 192.5L312.9 192.7L313.4 193L313.9 193.2L314.4 193.4L314.9 193.6L315.4 193.8L315.9 194L316.4 194.2L316.9 194.4L317.4 194.7L317.9 194.9L318.4 195.1L318.9 195.3L319.4 195.5L319.9 195.8L320.4 196L320.9 196.2L321.4 196.5L321.9 196.7L322.4 197L322.9 197.2L323.4 197.5L323.9 197.7L324.4 198L324.9 198.3L325.4 198.5L325.9 198.8L326.4 199.1L326.9 199.4L327.4 199.7L327.9 200L328.4 200.4L328.9 200.7L329.4 201L329.9 201.4L330.4 201.7L330.9 202.1L331.4 202.5L331.9 202.8L332.4 203.2L332.9 203.6L333.4 204L333.9 204.4L334.4 204.8L334.9 205.2L335.4 205.7L335.9 206.1L336.4 206.5L336.9 206.9L337.4 207.4L337.9 207.8L338.4 208.3L338.9 208.7L339.4 209.2L339.9 209.6L340.4 210L340.9 210.5L341.4 210.9L341.9 211.4L342.4 211.8L342.9 212.3L343.4 212.7L343.9 213.2L344.4 213.6L344.9 214.1L345.4 214.5L345.9 214.9L346.4 215.4L346.9 215.8L347.4 216.2L347.9 216.7L348.4 217.1L348.9 217.5L349.4 217.9L349.9 218.3L350.4 218.7L350.9 219.1L351.4 219.5L351.9 219.9L352.4 220.3L352.9 220.6L353.4 221L353.9 221.4L354.4 221.8L354.9 222.1L355.4 222.5L355.9 222.9L356.4 223.2L356.9 223.6L357.4 223.9L357.9 224.3L358.4 224.6L358.9 224.9L359.4 225.3L359.9 225.6L360.4 225.9L360.9 226.2L361.4 226.6L361.9 226.9L362.4 227.2L362.9 227.5L363.4 227.8L363.9 228.1L364.4 228.4L364.9 228.7L365.4 229L365.9 229.3L366.4 229.6L366.9 229.9L367.4 230.2L367.9 230.5L368.4 230.7L368.9 231L369.4 231.3L369.9 231.5L370.4 231.8L370.9 232.1L371.4 232.3L371.9 232.6L372.4 232.9L372.9 233.1L373.4 233.4L373.9 233.6L374.4 233.9L374.9 234.1L375.4 234.3L375.9 234.6L376.4 234.8L376.9 235.1L377.4 235.3L377.9 235.5L378.4 235.7L378.9 236L379.4 236.2L379.9 236.4L380.4 236.6L380.9 236.9L381.4 237.1L381.9 237.3L382.4 237.5L382.9 237.7L383.4 237.9L383.9 238.1L384.4 238.3L384.9 238.5L385.4 238.7L385.9 238.9L386.4 239.1L386.9 239.3L387.4 239.5L387.9 239.7L388.4 239.9L388.9 240.1L389.4 240.3L389.9 240.5L390.4 240.7L390.9 240.8L391.4 241L391.9 241.2L392.4 241.4L392.9 241.6L393.4 241.7L393.9 241.9L394.4 242.1L394.9 242.2L395.4 242.4L395.9 242.6L396.4 242.7L396.9 242.9L397.4 243.1L397.9 243.2L398.4 243.4L398.9 243.5L399.4 243.7L399.9 243.8L400.4 244L400.9 244.1L401.4 244.3L401.9 244.4L402.4 244.6L402.9 244.7L403.4 244.8L403.9 245L404.4 245.1L404.9 245.3L405.4 245.4L405.9 245.5L406.4 245.7L406.9 245.8L407.4 245.9L407.9 246.1L408.4 246.2L408.9 246.3L409.4 246.4L409.9 246.5L410.4 246.7L410.9 246.8L411.4 246.9L411.9 247L412.4 247.1L412.9 247.3L413.4 247.4L413.9 247.5L414.4 247.6L414.9 247.7L415.4 247.8L415.9 247.9L416.4 248L416.9 248.1L417.4 248.2L417.9 248.3L418.4 248.4L418.9 248.5L419.4 248.6L419.9 248.7L420.4 248.8L420.9 248.9L421.4 249L421.9 249.1L422.4 249.2L422.9 249.3L423.4 249.3L423.9 249.4L424.4 249.5L424.9 249.6L425.4 249.7L425.9 249.8L426.4 249.9L426.9 249.9L427.4 250L427.9 250.1L428.4 250.2L428.9 250.2L429.4 250.3L429.9 250.4L430.4 250.5L430.9 250.5L431.4 250.6L431.9 250.7L432.4 250.7L432.9 250.8L433.4 250.9L433.9 250.9L434.4 251L434.9 251.1L435.4 251.1L435.9 251.2L436.4 251.2L436.9 251.3L437.4 251.4L437.9 251.4L438.4 251.5L438.9 251.5L439.4 251.6L439.9 251.6L440.4 251.7L440.9 251.7L441.4 251.8L441.9 251.8L442.4 251.9L442.9 251.9L443.4 252L443.9 252L444.4 252.1L444.9 252.1L445.4 252.2L445.9 252.2L446.4 252.3L446.9 252.3L447.4 252.3L447.9 252.4L448.4 252.4L448.9 252.5L449.4 252.5L449.9 252.5L450.4 252.6L450.9 252.6L451.4 252.6L451.9 252.7L452.4 252.7L452.9 252.7L453.4 252.8L453.9 252.8L454.4 252.8L454.9 252.9L455.4 252.9L455.9 252.9L456.4 253L456.9 253L457.4 253L457.9 253L458.4 253.1L458.9 253.1L459.4 253.1L459.9 253.2L460.4 253.2L460.9 253.2L461.4 253.2L461.9 253.2L462.4 253.3L462.9 253.3L463.4 253.3L463.9 253.3L464.4 253.4L464.9 253.4L465.4 253.4L465.9 253.4L466.4 253.4L466.9 253.5L467.4 253.5L467.9 253.5L468.4 253.5L468.9 253.5L469.4 253.5L469.9 253.6L470.4 253.6L470.9 253.6L471.4 253.6L471.9 253.6L472.4 253.6L472.9 253.6L473.4 253.7L473.9 253.7L474.4 253.7L474.9 253.7L475.4 253.7L475.9 253.7L476.3 253.7" fill="none" stroke="#EDB120" stroke-width="3.3" stroke-linecap="round" stroke-linejoin="round"/>
<path d="M305.4 256.9L305.9 257.2L306.4 257.5L306.9 257.8L307.4 258.1L307.9 258.4L308.4 258.7L308.9 258.9L309.4 259.2L309.9 259.5L310.4 259.7L310.9 260L311.4 260.2L311.9 260.4L312.4 260.7L312.9 260.9L313.4 261.2L313.9 261.4L314.4 261.6L314.9 261.8L315.4 262.1L315.9 262.3L316.4 262.5L316.9 262.8L317.4 263L317.9 263.2L318.4 263.4L318.9 263.7L319.4 263.9L319.9 264.1L320.4 264.3L320.9 264.6L321.4 264.8L321.9 265.1L322.4 265.3L322.9 265.5L323.4 265.8L323.9 266.1L324.4 266.3L324.9 266.6L325.4 266.8L325.9 267.1L326.4 267.4L326.9 267.7L327.4 268L327.9 268.3L328.4 268.6L328.9 268.9L329.4 269.2L329.9 269.5L330.4 269.9L330.9 270.2L331.4 270.6L331.9 270.9L332.4 271.3L332.9 271.7L333.4 272.1L333.9 272.4L334.4 272.8L334.9 273.2L335.4 273.6L335.9 274L336.4 274.4L336.9 274.9L337.4 275.3L337.9 275.7L338.4 276.1L338.9 276.5L339.4 277L339.9 277.4L340.4 277.8L340.9 278.2L341.4 278.7L341.9 279.1L342.4 279.5L342.9 280L343.4 280.4L343.9 280.8L344.4 281.2L344.9 281.7L345.4 282.1L345.9 282.5L346.4 282.9L346.9 283.3L347.4 283.7L347.9 284.1L348.4 284.5L348.9 284.9L349.4 285.3L349.9 285.7L350.4 286.1L350.9 286.5L351.4 286.9L351.9 287.3L352.4 287.6L352.9 288L353.4 288.4L353.9 288.7L354.4 289.1L354.9 289.5L355.4 289.8L355.9 290.2L356.4 290.5L356.9 290.9L357.4 291.2L357.9 291.5L358.4 291.9L358.9 292.2L359.4 292.5L359.9 292.9L360.4 293.2L360.9 293.5L361.4 293.8L361.9 294.1L362.4 294.5L362.9 294.8L363.4 295.1L363.9 295.4L364.4 295.7L364.9 296L365.4 296.3L365.9 296.6L366.4 296.8L366.9 297.1L367.4 297.4L367.9 297.7L368.4 298L368.9 298.3L369.4 298.5L369.9 298.8L370.4 299.1L370.9 299.3L371.4 299.6L371.9 299.9L372.4 300.1L372.9 300.4L373.4 300.6L373.9 300.9L374.4 301.1L374.9 301.4L375.4 301.6L375.9 301.9L376.4 302.1L376.9 302.4L377.4 302.6L377.9 302.8L378.4 303.1L378.9 303.3L379.4 303.5L379.9 303.8L380.4 304L380.9 304.2L381.4 304.4L381.9 304.6L382.4 304.9L382.9 305.1L383.4 305.3L383.9 305.5L384.4 305.7L384.9 305.9L385.4 306.1L385.9 306.3L386.4 306.5L386.9 306.7L387.4 306.9L387.9 307.1L388.4 307.3L388.9 307.5L389.4 307.7L389.9 307.9L390.4 308.1L390.9 308.3L391.4 308.5L391.9 308.7L392.4 308.9L392.9 309L393.4 309.2L393.9 309.4L394.4 309.6L394.9 309.8L395.4 309.9L395.9 310.1L396.4 310.3L396.9 310.4L397.4 310.6L397.9 310.8L398.4 310.9L398.9 311.1L399.4 311.3L399.9 311.4L400.4 311.6L400.9 311.7L401.4 311.9L401.9 312L402.4 312.2L402.9 312.3L403.4 312.5L403.9 312.6L404.4 312.8L404.9 312.9L405.4 313.1L405.9 313.2L406.4 313.3L406.9 313.5L407.4 313.6L407.9 313.8L408.4 313.9L408.9 314L409.4 314.2L409.9 314.3L410.4 314.4L410.9 314.5L411.4 314.7L411.9 314.8L412.4 314.9L412.9 315L413.4 315.2L413.9 315.3L414.4 315.4L414.9 315.5L415.4 315.6L415.9 315.7L416.4 315.8L416.9 316L417.4 316.1L417.9 316.2L418.4 316.3L418.9 316.4L419.4 316.5L419.9 316.6L420.4 316.7L420.9 316.8L421.4 316.9L421.9 317L422.4 317.1L422.9 317.2L423.4 317.3L423.9 317.4L424.4 317.4L424.9 317.5L425.4 317.6L425.9 317.7L426.4 317.8L426.9 317.9L427.4 318L427.9 318.1L428.4 318.1L428.9 318.2L429.4 318.3L429.9 318.4L430.4 318.5L430.9 318.5L431.4 318.6L431.9 318.7L432.4 318.7L432.9 318.8L433.4 318.9L433.9 319L434.4 319L434.9 319.1L435.4 319.2L435.9 319.2L436.4 319.3L436.9 319.4L437.4 319.4L437.9 319.5L438.4 319.5L438.9 319.6L439.4 319.7L439.9 319.7L440.4 319.8L440.9 319.8L441.4 319.9L441.9 319.9L442.4 320L442.9 320L443.4 320.1L443.9 320.1L444.4 320.2L444.9 320.2L445.4 320.3L445.9 320.3L446.4 320.4L446.9 320.4L447.4 320.5L447.9 320.5L448.4 320.5L448.9 320.6L449.4 320.6L449.9 320.7L450.4 320.7L450.9 320.7L451.4 320.8L451.9 320.8L452.4 320.8L452.9 320.9L453.4 320.9L453.9 320.9L454.4 321L454.9 321L455.4 321L455.9 321.1L456.4 321.1L456.9 321.1L457.4 321.1L457.9 321.2L458.4 321.2L458.9 321.2L459.4 321.2L459.9 321.3L460.4 321.3L460.9 321.3L461.4 321.3L461.9 321.3L462.4 321.4L462.9 321.4L463.4 321.4L463.9 321.4L464.4 321.4L464.9 321.5L465.4 321.5L465.9 321.5L466.4 321.5L466.9 321.5L467.4 321.5L467.9 321.5L468.4 321.6L468.9 321.6L469.4 321.6L469.9 321.6L470.4 321.6L470.9 321.6L471.4 321.6L471.9 321.6L472.4 321.6L472.9 321.6L473.4 321.6L473.9 321.7L474.4 321.7L474.9 321.7L475.4 321.7L475.9 321.7L476.3 321.7" fill="none" stroke="#D95319" stroke-width="3.3" stroke-linecap="round" stroke-linejoin="round"/>
<path d="M305.4 324.3L305.8 325.2L306.2 325.2L306.6 326L307 326.9L307.4 327.7L307.8 327.5L308.2 328.1L308.6 327.9L309 328.7L309.4 329.4L309.8 329.7L310.2 331L310.6 331.7L311 330.4L311.4 330.9L311.8 331.6L312.2 330.8L312.6 332.1L313 331.8L313.4 333.8L313.8 334.9L314.2 334.7L314.6 333.2L315 333.9L315.4 333.6L315.8 333.8L316.2 334.9L316.6 333.2L317 334.8L317.4 334.3L317.8 335.7L318.2 335.7L318.6 336L319 337.4L319.4 338L319.8 337.7L320.2 338.1L320.6 337.7L321 337.2L321.4 339.5L321.8 339.5L322.2 339.1L322.6 339L323 339.7L323.4 339L323.8 339.1L324.2 339.7L324.6 341L325 339.7L325.4 341.9L325.8 341L326.2 340.8L326.6 342.3L327 341.5L327.4 340.8L327.8 341.5L328.2 342.5L328.6 343L329 342.5L329.4 343.6L329.8 344.4L330.2 343.8L330.6 344.7L331 344.9L331.4 345L331.8 345.3L332.2 345.8L332.6 345.7L333 345.1L333.4 345.1L333.8 346.4L334.2 346.6L334.6 347.8L335 348.6L335.4 348.7L335.8 350.1L336.2 348.4L336.6 349.7L337 348.9L337.4 350L337.8 349.4L338.2 346.7L338.6 347.4L339 348.8L339.4 349.4L339.8 350.1L340.2 350.4L340.6 351.5L341 352.3L341.4 352.3L341.8 353.1L342.2 350.8L342.6 352.7L343 351.7L343.4 353L343.8 352.4L344.2 352.2L344.6 353.4L345 353.2L345.4 353.6L345.8 353.4L346.2 354.3L346.6 354.6L347 355.3L347.4 355.4L347.8 357L348.2 357L348.6 357.1L349 357.5L349.4 357.8L349.8 357.2L350.2 357.6L350.6 358L351 358.3L351.4 357.7L351.8 358.8L352.2 357.7L352.6 358.2L353 357.6L353.4 358.7L353.8 359.2L354.2 359.2L354.6 361.1L355 360.2L355.4 361.3L355.8 361.1L356.2 360.7L356.6 361.6L357 362.8L357.4 362.9L357.8 362.9L358.2 362.7L358.6 361.7L359 362.7L359.4 361.6L359.8 363.8L360.2 363.6L360.6 364L361 364.5L361.4 364.7L361.8 363.4L362.2 363.3L362.6 363.9L363 363.7L363.4 365L363.8 367.4L364.2 366.2L364.6 367.7L365 366.4L365.4 367.2L365.8 366.4L366.2 366.5L366.6 367.2L367 368.5L367.4 367.9L367.8 368.1L368.2 367.4L368.6 368.5L369 368.1L369.4 369.1L369.8 369.1L370.2 370.6L370.6 368.4L371 369.5L371.4 370.4L371.8 370.1L372.2 370.5L372.6 371.6L373 371.3L373.4 372.2L373.8 373.3L374.2 372L374.6 370.3L375 370.4L375.4 371L375.8 372.3L376.2 371.6L376.6 372L377 373.2L377.4 373.5L377.8 373.1L378.2 373.3L378.6 373.6L379 374.6L379.4 373.7L379.8 375.7L380.2 375L380.6 375.8L381 376.9L381.4 376.6L381.8 375.3L382.2 376.8L382.6 377.2L383 375.9L383.4 375.7L383.8 376L384.2 374.8L384.6 376.7L385 374.2L385.4 375.3L385.8 376.2L386.2 376.6L386.6 377.2L387 377.8L387.4 377.9L387.8 379L388.2 376.9L388.6 378.2L389 377.6L389.4 378.1L389.8 378.4L390.2 378L390.6 378.5L391 379.7L391.4 379.5L391.8 378.9L392.2 380.7L392.6 381L393 378.6L393.4 379.9L393.8 381.5L394.2 380.5L394.6 380.2L395 379.9L395.4 379.8L395.8 380.2L396.2 380.2L396.6 381.1L397 380.4L397.4 380.3L397.8 379.6L398.2 380.2L398.6 379.5L399 380.1L399.4 381.3L399.8 381.3L400.2 381.7L400.6 381.8L401 381.9L401.4 382.2L401.8 382.4L402.2 383.2L402.6 381.9L403 383.5L403.4 382.8L403.8 382.5L404.2 382.9L404.6 382.7L405 383.1L405.4 382.6L405.8 384L406.2 382.9L406.6 381.8L407 382.8L407.4 382L407.8 383.5L408.2 384.4L408.6 384.1L409 382.5L409.4 382.6L409.8 384.2L410.2 383.5L410.6 383.8L411 385L411.4 386.4L411.8 386L412.2 385.5L412.6 385.8L413 386L413.4 385.2L413.8 384.7L414.2 385.2L414.6 384.4L415 384.8L415.4 384.7L415.8 386L416.2 383.9L416.6 384.4L417 384.5L417.4 384.9L417.8 385.5L418.2 384.6L418.6 384.7L419 384.3L419.4 384.8L419.8 385.9L420.2 385.7L420.6 385.2L421 385.8L421.4 386.2L421.8 386.6L422.2 385.9L422.6 386.2L423 385.3L423.4 385.6L423.8 387.1L424.2 384.3L424.6 385.3L425 385.5L425.4 385.3L425.8 385.3L426.2 386.1L426.6 386.4L427 386.6L427.4 385.6L427.8 386.9L428.2 386.7L428.6 387.2L429 387.8L429.4 388L429.8 387.9L430.2 386.8L430.6 387.8L431 388.1L431.4 388.2L431.8 388.5L432.2 387.6L432.6 387.6L433 388.1L433.4 386.5L433.8 387.4L434.2 387.1L434.6 387.6L435 386.9L435.4 387.4L435.8 387.9L436.2 388.4L436.6 388.7L437 388.5L437.4 388.8L437.8 388.7L438.2 389.6L438.6 389L439 389.2L439.4 389.5L439.8 388.1L440.2 386.9L440.6 387.2L441 386.9L441.4 387.1L441.8 388.8L442.2 388.3L442.6 387.3L443 388.8L443.4 389.1L443.8 388L444.2 387.7L444.6 388L445 388.6L445.4 388.9L445.8 389.2L446.2 389.2L446.6 389.3L447 389.6L447.4 389.5L447.8 388.4L448.2 389.4L448.6 389.7L449 388.9L449.4 389.2L449.8 387.9L450.2 387.3L450.6 388.8L451 388.6L451.4 388.6L451.8 389.1L452.2 389.2L452.6 388.6L453 386.7L453.4 387.9L453.8 388.1L454.2 387.6L454.6 388.3L455 389.1L455.4 388.3L455.8 388.3L456.2 390.6L456.6 389L457 388.3L457.4 389L457.8 389L458.2 388.4L458.6 389.6L459 388.9L459.4 388.7L459.8 389.7L460.2 390.4L460.6 389.7L461 390.6L461.4 390.5L461.8 392.4L462.2 390.2L462.6 391.6L463 390.6L463.4 390.3L463.8 390.6L464.2 390.4L464.6 390.4L465 389.7L465.4 389.2L465.8 389.4L466.2 390.2L466.6 390.1L467 390.5L467.4 389.7L467.8 390.1L468.2 390.5L468.6 389.6L469 388.4L469.4 388.6L469.8 388.5L470.2 390.7L470.6 389.2L471 390.6L471.4 390.3L471.8 391.1L472.2 390.7L472.6 390.1L473 390.1L473.4 390.3L473.8 390.2L474.2 389.6L474.6 389.9L475 391.3L475.4 389.4L475.8 390.7L476.2 389.8L476.3 390.5" fill="none" stroke="#0072BD" stroke-width="3.0" stroke-linecap="round" stroke-linejoin="round"/>
<rect x="284.3" y="46.4" width="211.7" height="345.1" fill="none" stroke="#262626" stroke-width="1.6"/>
<path d="M303.4 391.5v-10M303.4 46.4v10M322.7 391.5v-5M322.7 46.4v5M342 391.5v-5M342 46.4v5M361.2 391.5v-10M361.2 46.4v10M380.5 391.5v-5M380.5 46.4v5M399.8 391.5v-5M399.8 46.4v5M419 391.5v-10M419 46.4v10M438.3 391.5v-5M438.3 46.4v5M457.6 391.5v-5M457.6 46.4v5M476.8 391.5v-10M476.8 46.4v10M284.3 374.4h5M496 374.4h-5M284.3 357.5h5M496 357.5h-5M284.3 340.6h5M496 340.6h-5M284.3 323.7h10M496 323.7h-10M284.3 306.8h5M496 306.8h-5M284.3 289.9h5M496 289.9h-5M284.3 273h5M496 273h-5M284.3 256.1h10M496 256.1h-10M284.3 239.2h5M496 239.2h-5M284.3 222.3h5M496 222.3h-5M284.3 205.4h5M496 205.4h-5M284.3 188.5h10M496 188.5h-10M284.3 171.6h5M496 171.6h-5M284.3 154.7h5M496 154.7h-5M284.3 137.8h5M496 137.8h-5M284.3 120.9h10M496 120.9h-10M284.3 104h5M496 104h-5M284.3 87.1h5M496 87.1h-5M284.3 70.2h5M496 70.2h-5M284.3 53.3h10M496 53.3h-10" stroke="#262626" stroke-width="1.5" fill="none"/>
<text x="303.4" y="417.9" text-anchor="middle" font-size="23.6" fill="#262626">450</text>
<text x="361.2" y="417.9" text-anchor="middle" font-size="23.6" fill="#262626">600</text>
<text x="419" y="417.9" text-anchor="middle" font-size="23.6" fill="#262626">750</text>
<text x="476.8" y="417.9" text-anchor="middle" font-size="23.6" fill="#262626">900</text>
<text x="390.1" y="449.2" text-anchor="middle" font-size="27.85" fill="#262626">Wavelength (nm)</text>
<text x="260" y="32.5" font-size="42" font-weight="bold" fill="#000">(b)</text>
<text x="321" y="33.3" font-size="26" font-weight="bold" fill="#000">hBN (HQG)</text>
<line x1="532.2" y1="323.7" x2="743.1" y2="323.7" stroke="#c4c4c4" stroke-width="1.4" stroke-dasharray="12.7 8.3"/>
<line x1="532.2" y1="256.1" x2="743.1" y2="256.1" stroke="#c4c4c4" stroke-width="1.4" stroke-dasharray="12.7 8.3"/>
<line x1="532.2" y1="188.5" x2="743.1" y2="188.5" stroke="#c4c4c4" stroke-width="1.4" stroke-dasharray="12.7 8.3"/>
<line x1="532.2" y1="120.9" x2="743.1" y2="120.9" stroke="#c4c4c4" stroke-width="1.4" stroke-dasharray="12.7 8.3"/>
<line x1="532.2" y1="53.3" x2="743.1" y2="53.3" stroke="#c4c4c4" stroke-width="1.4" stroke-dasharray="12.7 8.3"/>
<path d="M552.1 54.1L552.6 54.5L553.1 54.9L553.6 55.2L554.1 55.6L554.6 55.9L555.1 56.3L555.6 56.6L556.1 56.9L556.6 57.2L557.1 57.5L557.6 57.8L558.1 58.1L558.6 58.4L559.1 58.6L559.6 58.9L560.1 59.2L560.6 59.4L561.1 59.7L561.6 59.9L562.1 60.2L562.6 60.4L563.1 60.7L563.6 60.9L564.1 61.1L564.6 61.4L565.1 61.6L565.6 61.9L566.1 62.1L566.6 62.3L567.1 62.6L567.6 62.8L568.1 63.1L568.6 63.3L569.1 63.5L569.6 63.8L570.1 64.1L570.6 64.3L571.1 64.6L571.6 64.9L572.1 65.1L572.6 65.4L573.1 65.7L573.6 66L574.1 66.3L574.6 66.6L575.1 66.9L575.6 67.2L576.1 67.6L576.6 67.9L577.1 68.2L577.6 68.6L578.1 68.9L578.6 69.3L579.1 69.6L579.6 70L580.1 70.4L580.6 70.7L581.1 71.1L581.6 71.5L582.1 71.9L582.6 72.3L583.1 72.7L583.6 73.1L584.1 73.5L584.6 73.9L585.1 74.3L585.6 74.8L586.1 75.2L586.6 75.6L587.1 76.1L587.6 76.5L588.1 76.9L588.6 77.4L589.1 77.8L589.6 78.3L590.1 78.7L590.6 79.2L591.1 79.6L591.6 80.1L592.1 80.5L592.6 81L593.1 81.4L593.6 81.9L594.1 82.3L594.6 82.8L595.1 83.2L595.6 83.7L596.1 84.1L596.6 84.5L597.1 84.9L597.6 85.4L598.1 85.8L598.6 86.2L599.1 86.6L599.6 87L600.1 87.4L600.6 87.8L601.1 88.2L601.6 88.5L602.1 88.9L602.6 89.3L603.1 89.7L603.6 90L604.1 90.4L604.6 90.7L605.1 91L605.6 91.4L606.1 91.7L606.6 92L607.1 92.3L607.6 92.6L608.1 92.9L608.6 93.2L609.1 93.5L609.6 93.8L610.1 94L610.6 94.3L611.1 94.5L611.6 94.8L612.1 95L612.6 95.2L613.1 95.4L613.6 95.7L614.1 95.8L614.6 96L615.1 96.2L615.6 96.4L616.1 96.6L616.6 96.7L617.1 96.9L617.6 97L618.1 97.2L618.6 97.3L619.1 97.4L619.6 97.6L620.1 97.7L620.6 97.8L621.1 98L621.6 98.1L622.1 98.2L622.6 98.3L623.1 98.4L623.6 98.6L624.1 98.7L624.6 98.8L625.1 98.9L625.6 99L626.1 99.2L626.6 99.3L627.1 99.4L627.6 99.5L628.1 99.7L628.6 99.8L629.1 99.9L629.6 100.1L630.1 100.2L630.6 100.4L631.1 100.5L631.6 100.6L632.1 100.8L632.6 100.9L633.1 101.1L633.6 101.2L634.1 101.4L634.6 101.6L635.1 101.7L635.6 101.9L636.1 102L636.6 102.2L637.1 102.4L637.6 102.5L638.1 102.7L638.6 102.9L639.1 103L639.6 103.2L640.1 103.4L640.6 103.6L641.1 103.7L641.6 103.9L642.1 104.1L642.6 104.3L643.1 104.4L643.6 104.6L644.1 104.8L644.6 105L645.1 105.2L645.6 105.4L646.1 105.5L646.6 105.7L647.1 105.9L647.6 106.1L648.1 106.3L648.6 106.5L649.1 106.6L649.6 106.8L650.1 107L650.6 107.2L651.1 107.4L651.6 107.5L652.1 107.7L652.6 107.9L653.1 108.1L653.6 108.3L654.1 108.4L654.6 108.6L655.1 108.8L655.6 109L656.1 109.1L656.6 109.3L657.1 109.5L657.6 109.7L658.1 109.8L658.6 110L659.1 110.1L659.6 110.3L660.1 110.5L660.6 110.6L661.1 110.8L661.6 110.9L662.1 111.1L662.6 111.3L663.1 111.4L663.6 111.5L664.1 111.7L664.6 111.8L665.1 112L665.6 112.1L666.1 112.3L666.6 112.4L667.1 112.5L667.6 112.7L668.1 112.8L668.6 112.9L669.1 113L669.6 113.2L670.1 113.3L670.6 113.4L671.1 113.5L671.6 113.6L672.1 113.7L672.6 113.9L673.1 114L673.6 114.1L674.1 114.2L674.6 114.3L675.1 114.4L675.6 114.5L676.1 114.6L676.6 114.7L677.1 114.8L677.6 114.9L678.1 115L678.6 115L679.1 115.1L679.6 115.2L680.1 115.3L680.6 115.4L681.1 115.5L681.6 115.6L682.1 115.6L682.6 115.7L683.1 115.8L683.6 115.9L684.1 115.9L684.6 116L685.1 116.1L685.6 116.1L686.1 116.2L686.6 116.3L687.1 116.3L687.6 116.4L688.1 116.5L688.6 116.5L689.1 116.6L689.6 116.6L690.1 116.7L690.6 116.8L691.1 116.8L691.6 116.9L692.1 116.9L692.6 117L693.1 117L693.6 117.1L694.1 117.1L694.6 117.2L695.1 117.2L695.6 117.2L696.1 117.3L696.6 117.3L697.1 117.4L697.6 117.4L698.1 117.4L698.6 117.5L699.1 117.5L699.6 117.6L700.1 117.6L700.6 117.6L701.1 117.7L701.6 117.7L702.1 117.7L702.6 117.8L703.1 117.8L703.6 117.8L704.1 117.8L704.6 117.9L705.1 117.9L705.6 117.9L706.1 117.9L706.6 118L707.1 118L707.6 118L708.1 118L708.6 118.1L709.1 118.1L709.6 118.1L710.1 118.1L710.6 118.1L711.1 118.1L711.6 118.2L712.1 118.2L712.6 118.2L713.1 118.2L713.6 118.2L714.1 118.2L714.6 118.3L715.1 118.3L715.6 118.3L716.1 118.3L716.6 118.3L717.1 118.3L717.6 118.3L718.1 118.4L718.6 118.4L719.1 118.4L719.6 118.4L720.1 118.4L720.6 118.4L721.1 118.4L721.6 118.4L722.1 118.4L722.6 118.5L723.1 118.5L723.3 118.5" fill="none" stroke="#77AC30" stroke-width="3.3" stroke-linecap="round" stroke-linejoin="round"/>
<path d="M552.1 121.6L552.6 121.8L553.1 122.1L553.6 122.4L554.1 122.7L554.6 122.9L555.1 123.2L555.6 123.5L556.1 123.8L556.6 124.2L557.1 124.5L557.6 124.8L558.1 125.1L558.6 125.4L559.1 125.7L559.6 126.1L560.1 126.4L560.6 126.7L561.1 127L561.6 127.3L562.1 127.6L562.6 127.9L563.1 128.2L563.6 128.5L564.1 128.8L564.6 129.1L565.1 129.4L565.6 129.6L566.1 129.9L566.6 130.2L567.1 130.4L567.6 130.7L568.1 131L568.6 131.2L569.1 131.5L569.6 131.7L570.1 132L570.6 132.3L571.1 132.5L571.6 132.8L572.1 133.1L572.6 133.4L573.1 133.7L573.6 134L574.1 134.3L574.6 134.6L575.1 134.9L575.6 135.2L576.1 135.6L576.6 135.9L577.1 136.3L577.6 136.6L578.1 137L578.6 137.4L579.1 137.7L579.6 138.1L580.1 138.5L580.6 138.9L581.1 139.3L581.6 139.7L582.1 140.1L582.6 140.5L583.1 140.9L583.6 141.3L584.1 141.7L584.6 142.1L585.1 142.5L585.6 142.9L586.1 143.4L586.6 143.8L587.1 144.2L587.6 144.6L588.1 145.1L588.6 145.5L589.1 145.9L589.6 146.4L590.1 146.8L590.6 147.3L591.1 147.7L591.6 148.1L592.1 148.6L592.6 149L593.1 149.4L593.6 149.9L594.1 150.3L594.6 150.8L595.1 151.2L595.6 151.6L596.1 152.1L596.6 152.5L597.1 152.9L597.6 153.3L598.1 153.8L598.6 154.2L599.1 154.6L599.6 155L600.1 155.4L600.6 155.8L601.1 156.2L601.6 156.6L602.1 157L602.6 157.3L603.1 157.7L603.6 158.1L604.1 158.4L604.6 158.8L605.1 159.1L605.6 159.4L606.1 159.7L606.6 160L607.1 160.3L607.6 160.6L608.1 160.9L608.6 161.1L609.1 161.4L609.6 161.6L610.1 161.8L610.6 162L611.1 162.2L611.6 162.4L612.1 162.6L612.6 162.8L613.1 162.9L613.6 163.1L614.1 163.3L614.6 163.4L615.1 163.5L615.6 163.7L616.1 163.8L616.6 163.9L617.1 164.1L617.6 164.2L618.1 164.3L618.6 164.4L619.1 164.5L619.6 164.6L620.1 164.7L620.6 164.8L621.1 164.9L621.6 165L622.1 165.1L622.6 165.2L623.1 165.3L623.6 165.4L624.1 165.5L624.6 165.6L625.1 165.7L625.6 165.8L626.1 166L626.6 166.1L627.1 166.2L627.6 166.3L628.1 166.4L628.6 166.5L629.1 166.7L629.6 166.8L630.1 166.9L630.6 167.1L631.1 167.2L631.6 167.3L632.1 167.5L632.6 167.6L633.1 167.8L633.6 167.9L634.1 168.1L634.6 168.2L635.1 168.4L635.6 168.5L636.1 168.7L636.6 168.8L637.1 169L637.6 169.2L638.1 169.3L638.6 169.5L639.1 169.6L639.6 169.8L640.1 170L640.6 170.1L641.1 170.3L641.6 170.5L642.1 170.7L642.6 170.8L643.1 171L643.6 171.2L644.1 171.3L644.6 171.5L645.1 171.7L645.6 171.9L646.1 172L646.6 172.2L647.1 172.4L647.6 172.6L648.1 172.7L648.6 172.9L649.1 173.1L649.6 173.3L650.1 173.4L650.6 173.6L651.1 173.8L651.6 174L652.1 174.1L652.6 174.3L653.1 174.5L653.6 174.7L654.1 174.8L654.6 175L655.1 175.2L655.6 175.3L656.1 175.5L656.6 175.7L657.1 175.8L657.6 176L658.1 176.2L658.6 176.3L659.1 176.5L659.6 176.7L660.1 176.8L660.6 177L661.1 177.1L661.6 177.3L662.1 177.4L662.6 177.6L663.1 177.7L663.6 177.9L664.1 178L664.6 178.2L665.1 178.3L665.6 178.4L666.1 178.6L666.6 178.7L667.1 178.8L667.6 179L668.1 179.1L668.6 179.2L669.1 179.3L669.6 179.5L670.1 179.6L670.6 179.7L671.1 179.8L671.6 179.9L672.1 180L672.6 180.2L673.1 180.3L673.6 180.4L674.1 180.5L674.6 180.6L675.1 180.7L675.6 180.8L676.1 180.9L676.6 181L677.1 181.1L677.6 181.2L678.1 181.3L678.6 181.4L679.1 181.5L679.6 181.5L680.1 181.6L680.6 181.7L681.1 181.8L681.6 181.9L682.1 182L682.6 182L683.1 182.1L683.6 182.2L684.1 182.3L684.6 182.3L685.1 182.4L685.6 182.5L686.1 182.6L686.6 182.6L687.1 182.7L687.6 182.8L688.1 182.8L688.6 182.9L689.1 183L689.6 183L690.1 183.1L690.6 183.1L691.1 183.2L691.6 183.2L692.1 183.3L692.6 183.4L693.1 183.4L693.6 183.5L694.1 183.5L694.6 183.6L695.1 183.6L695.6 183.7L696.1 183.7L696.6 183.8L697.1 183.8L697.6 183.8L698.1 183.9L698.6 183.9L699.1 184L699.6 184L700.1 184L700.6 184.1L701.1 184.1L701.6 184.2L702.1 184.2L702.6 184.2L703.1 184.3L703.6 184.3L704.1 184.3L704.6 184.4L705.1 184.4L705.6 184.4L706.1 184.4L706.6 184.5L707.1 184.5L707.6 184.5L708.1 184.6L708.6 184.6L709.1 184.6L709.6 184.6L710.1 184.7L710.6 184.7L711.1 184.7L711.6 184.7L712.1 184.7L712.6 184.8L713.1 184.8L713.6 184.8L714.1 184.8L714.6 184.8L715.1 184.9L715.6 184.9L716.1 184.9L716.6 184.9L717.1 184.9L717.6 185L718.1 185L718.6 185L719.1 185L719.6 185L720.1 185L720.6 185L721.1 185.1L721.6 185.1L722.1 185.1L722.6 185.1L723.1 185.1L723.3 185.1" fill="none" stroke="#7E2F8E" stroke-width="3.3" stroke-linecap="round" stroke-linejoin="round"/>
<path d="M552.1 189L552.6 189.6L553.1 190.1L553.6 190.7L554.1 191.2L554.6 191.8L555.1 192.3L555.6 192.9L556.1 193.4L556.6 193.9L557.1 194.5L557.6 195L558.1 195.5L558.6 196L559.1 196.5L559.6 197L560.1 197.5L560.6 198L561.1 198.5L561.6 199L562.1 199.4L562.6 199.9L563.1 200.3L563.6 200.8L564.1 201.2L564.6 201.6L565.1 202L565.6 202.4L566.1 202.8L566.6 203.1L567.1 203.5L567.6 203.8L568.1 204.2L568.6 204.5L569.1 204.8L569.6 205.2L570.1 205.5L570.6 205.8L571.1 206.1L571.6 206.4L572.1 206.7L572.6 207L573.1 207.3L573.6 207.6L574.1 207.9L574.6 208.2L575.1 208.5L575.6 208.8L576.1 209.2L576.6 209.5L577.1 209.8L577.6 210.1L578.1 210.5L578.6 210.8L579.1 211.1L579.6 211.5L580.1 211.9L580.6 212.2L581.1 212.6L581.6 213L582.1 213.4L582.6 213.8L583.1 214.1L583.6 214.5L584.1 214.9L584.6 215.4L585.1 215.8L585.6 216.2L586.1 216.6L586.6 217L587.1 217.4L587.6 217.8L588.1 218.2L588.6 218.6L589.1 219L589.6 219.4L590.1 219.9L590.6 220.3L591.1 220.7L591.6 221.1L592.1 221.5L592.6 221.9L593.1 222.3L593.6 222.7L594.1 223.1L594.6 223.4L595.1 223.8L595.6 224.2L596.1 224.6L596.6 225L597.1 225.3L597.6 225.7L598.1 226.1L598.6 226.4L599.1 226.8L599.6 227.1L600.1 227.5L600.6 227.8L601.1 228.1L601.6 228.5L602.1 228.8L602.6 229.1L603.1 229.4L603.6 229.7L604.1 230L604.6 230.3L605.1 230.6L605.6 230.8L606.1 231.1L606.6 231.3L607.1 231.6L607.6 231.8L608.1 232.1L608.6 232.3L609.1 232.5L609.6 232.7L610.1 232.9L610.6 233.1L611.1 233.3L611.6 233.4L612.1 233.6L612.6 233.7L613.1 233.9L613.6 234L614.1 234.1L614.6 234.3L615.1 234.4L615.6 234.5L616.1 234.6L616.6 234.7L617.1 234.8L617.6 235L618.1 235.1L618.6 235.2L619.1 235.3L619.6 235.4L620.1 235.5L620.6 235.6L621.1 235.7L621.6 235.8L622.1 235.9L622.6 236L623.1 236.1L623.6 236.2L624.1 236.3L624.6 236.4L625.1 236.5L625.6 236.7L626.1 236.8L626.6 236.9L627.1 237.1L627.6 237.2L628.1 237.4L628.6 237.5L629.1 237.7L629.6 237.8L630.1 238L630.6 238.1L631.1 238.3L631.6 238.4L632.1 238.6L632.6 238.7L633.1 238.9L633.6 239.1L634.1 239.2L634.6 239.4L635.1 239.5L635.6 239.7L636.1 239.8L636.6 239.9L637.1 240.1L637.6 240.2L638.1 240.4L638.6 240.5L639.1 240.6L639.6 240.8L640.1 240.9L640.6 241L641.1 241.1L641.6 241.2L642.1 241.3L642.6 241.4L643.1 241.5L643.6 241.6L644.1 241.7L644.6 241.8L645.1 241.9L645.6 242L646.1 242.1L646.6 242.2L647.1 242.3L647.6 242.4L648.1 242.5L648.6 242.6L649.1 242.7L649.6 242.8L650.1 242.9L650.6 243L651.1 243.2L651.6 243.3L652.1 243.4L652.6 243.6L653.1 243.7L653.6 243.8L654.1 244L654.6 244.1L655.1 244.2L655.6 244.4L656.1 244.5L656.6 244.7L657.1 244.8L657.6 245L658.1 245.1L658.6 245.3L659.1 245.4L659.6 245.6L660.1 245.7L660.6 245.9L661.1 246L661.6 246.1L662.1 246.3L662.6 246.4L663.1 246.6L663.6 246.7L664.1 246.8L664.6 247L665.1 247.1L665.6 247.2L666.1 247.4L666.6 247.5L667.1 247.6L667.6 247.7L668.1 247.9L668.6 248L669.1 248.1L669.6 248.2L670.1 248.3L670.6 248.4L671.1 248.6L671.6 248.7L672.1 248.8L672.6 248.9L673.1 249L673.6 249.1L674.1 249.2L674.6 249.3L675.1 249.4L675.6 249.5L676.1 249.6L676.6 249.7L677.1 249.8L677.6 249.9L678.1 250L678.6 250L679.1 250.1L679.6 250.2L680.1 250.3L680.6 250.4L681.1 250.5L681.6 250.6L682.1 250.6L682.6 250.7L683.1 250.8L683.6 250.9L684.1 250.9L684.6 251L685.1 251.1L685.6 251.1L686.1 251.2L686.6 251.3L687.1 251.3L687.6 251.4L688.1 251.5L688.6 251.5L689.1 251.6L689.6 251.7L690.1 251.7L690.6 251.8L691.1 251.8L691.6 251.9L692.1 251.9L692.6 252L693.1 252L693.6 252.1L694.1 252.2L694.6 252.2L695.1 252.2L695.6 252.3L696.1 252.3L696.6 252.4L697.1 252.4L697.6 252.5L698.1 252.5L698.6 252.6L699.1 252.6L699.6 252.6L700.1 252.7L700.6 252.7L701.1 252.8L701.6 252.8L702.1 252.8L702.6 252.9L703.1 252.9L703.6 252.9L704.1 253L704.6 253L705.1 253L705.6 253L706.1 253.1L706.6 253.1L707.1 253.1L707.6 253.2L708.1 253.2L708.6 253.2L709.1 253.2L709.6 253.3L710.1 253.3L710.6 253.3L711.1 253.3L711.6 253.4L712.1 253.4L712.6 253.4L713.1 253.4L713.6 253.4L714.1 253.5L714.6 253.5L715.1 253.5L715.6 253.5L716.1 253.5L716.6 253.5L717.1 253.6L717.6 253.6L718.1 253.6L718.6 253.6L719.1 253.6L719.6 253.6L720.1 253.6L720.6 253.7L721.1 253.7L721.6 253.7L722.1 253.7L722.6 253.7L723.1 253.7L723.3 253.7" fill="none" stroke="#EDB120" stroke-width="3.3" stroke-linecap="round" stroke-linejoin="round"/>
<path d="M552.1 257.2L552.6 257.3L553.1 257.4L553.6 257.5L554.1 257.6L554.6 257.8L555.1 257.9L555.6 258.1L556.1 258.2L556.6 258.4L557.1 258.6L557.6 258.8L558.1 259L558.6 259.2L559.1 259.4L559.6 259.6L560.1 259.8L560.6 260L561.1 260.2L561.6 260.4L562.1 260.6L562.6 260.8L563.1 260.9L563.6 261.1L564.1 261.3L564.6 261.5L565.1 261.6L565.6 261.8L566.1 261.9L566.6 262.1L567.1 262.2L567.6 262.4L568.1 262.5L568.6 262.7L569.1 262.8L569.6 263L570.1 263.2L570.6 263.3L571.1 263.5L571.6 263.7L572.1 263.9L572.6 264.1L573.1 264.3L573.6 264.5L574.1 264.8L574.6 265L575.1 265.3L575.6 265.6L576.1 265.9L576.6 266.1L577.1 266.5L577.6 266.8L578.1 267.1L578.6 267.4L579.1 267.7L579.6 268.1L580.1 268.4L580.6 268.8L581.1 269.2L581.6 269.5L582.1 269.9L582.6 270.3L583.1 270.7L583.6 271.1L584.1 271.5L584.6 271.9L585.1 272.3L585.6 272.8L586.1 273.2L586.6 273.6L587.1 274L587.6 274.5L588.1 274.9L588.6 275.4L589.1 275.8L589.6 276.3L590.1 276.7L590.6 277.2L591.1 277.6L591.6 278.1L592.1 278.5L592.6 279L593.1 279.5L593.6 279.9L594.1 280.4L594.6 280.8L595.1 281.3L595.6 281.8L596.1 282.2L596.6 282.7L597.1 283.1L597.6 283.6L598.1 284L598.6 284.5L599.1 284.9L599.6 285.4L600.1 285.8L600.6 286.2L601.1 286.6L601.6 287L602.1 287.4L602.6 287.8L603.1 288.2L603.6 288.6L604.1 289L604.6 289.3L605.1 289.7L605.6 290L606.1 290.3L606.6 290.6L607.1 290.9L607.6 291.2L608.1 291.5L608.6 291.8L609.1 292L609.6 292.2L610.1 292.4L610.6 292.6L611.1 292.8L611.6 293L612.1 293.2L612.6 293.3L613.1 293.5L613.6 293.7L614.1 293.8L614.6 293.9L615.1 294.1L615.6 294.2L616.1 294.4L616.6 294.5L617.1 294.6L617.6 294.7L618.1 294.9L618.6 295L619.1 295.1L619.6 295.2L620.1 295.3L620.6 295.4L621.1 295.6L621.6 295.7L622.1 295.8L622.6 295.9L623.1 296L623.6 296.1L624.1 296.3L624.6 296.4L625.1 296.5L625.6 296.6L626.1 296.8L626.6 296.9L627.1 297L627.6 297.2L628.1 297.3L628.6 297.5L629.1 297.6L629.6 297.7L630.1 297.9L630.6 298L631.1 298.2L631.6 298.4L632.1 298.5L632.6 298.7L633.1 298.8L633.6 299L634.1 299.2L634.6 299.3L635.1 299.5L635.6 299.7L636.1 299.9L636.6 300L637.1 300.2L637.6 300.4L638.1 300.6L638.6 300.7L639.1 300.9L639.6 301.1L640.1 301.3L640.6 301.5L641.1 301.7L641.6 301.9L642.1 302L642.6 302.2L643.1 302.4L643.6 302.6L644.1 302.8L644.6 303L645.1 303.2L645.6 303.4L646.1 303.6L646.6 303.8L647.1 304L647.6 304.2L648.1 304.4L648.6 304.6L649.1 304.8L649.6 305L650.1 305.2L650.6 305.3L651.1 305.5L651.6 305.7L652.1 305.9L652.6 306.1L653.1 306.3L653.6 306.5L654.1 306.7L654.6 306.9L655.1 307.1L655.6 307.3L656.1 307.5L656.6 307.7L657.1 307.9L657.6 308L658.1 308.2L658.6 308.4L659.1 308.6L659.6 308.8L660.1 309L660.6 309.1L661.1 309.3L661.6 309.5L662.1 309.7L662.6 309.9L663.1 310L663.6 310.2L664.1 310.4L664.6 310.5L665.1 310.7L665.6 310.9L666.1 311L666.6 311.2L667.1 311.4L667.6 311.5L668.1 311.7L668.6 311.8L669.1 312L669.6 312.1L670.1 312.3L670.6 312.4L671.1 312.6L671.6 312.7L672.1 312.9L672.6 313L673.1 313.1L673.6 313.3L674.1 313.4L674.6 313.5L675.1 313.7L675.6 313.8L676.1 313.9L676.6 314.1L677.1 314.2L677.6 314.3L678.1 314.4L678.6 314.6L679.1 314.7L679.6 314.8L680.1 314.9L680.6 315L681.1 315.1L681.6 315.2L682.1 315.4L682.6 315.5L683.1 315.6L683.6 315.7L684.1 315.8L684.6 315.9L685.1 316L685.6 316.1L686.1 316.2L686.6 316.3L687.1 316.4L687.6 316.5L688.1 316.6L688.6 316.6L689.1 316.7L689.6 316.8L690.1 316.9L690.6 317L691.1 317.1L691.6 317.1L692.1 317.2L692.6 317.3L693.1 317.4L693.6 317.5L694.1 317.5L694.6 317.6L695.1 317.7L695.6 317.7L696.1 317.8L696.6 317.9L697.1 317.9L697.6 318L698.1 318.1L698.6 318.1L699.1 318.2L699.6 318.2L700.1 318.3L700.6 318.3L701.1 318.4L701.6 318.5L702.1 318.5L702.6 318.5L703.1 318.6L703.6 318.6L704.1 318.7L704.6 318.7L705.1 318.8L705.6 318.8L706.1 318.8L706.6 318.9L707.1 318.9L707.6 319L708.1 319L708.6 319L709.1 319.1L709.6 319.1L710.1 319.1L710.6 319.1L711.1 319.2L711.6 319.2L712.1 319.2L712.6 319.2L713.1 319.2L713.6 319.3L714.1 319.3L714.6 319.3L715.1 319.3L715.6 319.3L716.1 319.3L716.6 319.4L717.1 319.4L717.6 319.4L718.1 319.4L718.6 319.4L719.1 319.4L719.6 319.4L720.1 319.4L720.6 319.4L721.1 319.4L721.6 319.4L722.1 319.4L722.6 319.4L723.1 319.4L723.3 319.4" fill="none" stroke="#D95319" stroke-width="3.3" stroke-linecap="round" stroke-linejoin="round"/>
<path d="M552.4 324.2L552.8 323.6L553.2 323.6L553.6 323.8L554 326.3L554.4 326.4L554.8 325.6L555.2 328.1L555.6 329L556 326.4L556.4 325.9L556.8 328.3L557.2 327.7L557.6 326.9L558 328.2L558.4 328.1L558.8 329.6L559.2 329.7L559.6 331.6L560 331.7L560.4 329.6L560.8 332.3L561.2 332.9L561.6 332.5L562 333.9L562.4 333.2L562.8 333.6L563.2 336L563.6 332.9L564 330.5L564.4 333.9L564.8 332L565.2 333.1L565.6 332.1L566 332.2L566.4 332.2L566.8 333.2L567.2 334.4L567.6 331.9L568 336.3L568.4 334.5L568.8 334.7L569.2 336.8L569.6 336.2L570 335.4L570.4 340.7L570.8 338.2L571.2 339.5L571.6 339L572 340.2L572.4 338.5L572.8 341.2L573.2 339.8L573.6 342.5L574 340.6L574.4 341.3L574.8 344L575.2 342.1L575.6 341.7L576 343.9L576.4 341.4L576.8 340L577.2 341.7L577.6 339.1L578 341.8L578.4 342.5L578.8 341.7L579.2 343.4L579.6 345.6L580 345.7L580.4 344.1L580.8 345.3L581.2 341.6L581.6 343.2L582 343.2L582.4 343.5L582.8 344.4L583.2 343.1L583.6 345.8L584 345.6L584.4 345.7L584.8 345.4L585.2 345.7L585.6 347.6L586 345.8L586.4 347.1L586.8 348.7L587.2 349.4L587.6 350.8L588 348.9L588.4 347.8L588.8 349.9L589.2 348.8L589.6 350L590 349.2L590.4 351.2L590.8 351.2L591.2 351.5L591.6 351.7L592 352.2L592.4 352.5L592.8 352.9L593.2 354L593.6 352.3L594 355.1L594.4 352.9L594.8 354.2L595.2 352.7L595.6 352.7L596 355.9L596.4 353.8L596.8 352.8L597.2 353.1L597.6 352.9L598 355.5L598.4 353.7L598.8 355.9L599.2 355.3L599.6 358L600 358.9L600.4 360.3L600.8 357.1L601.2 358.6L601.6 358.5L602 357.4L602.4 359.4L602.8 360.1L603.2 358.4L603.6 362.3L604 362.3L604.4 361.3L604.8 360.7L605.2 364.6L605.6 363.4L606 364.4L606.4 365L606.8 363L607.2 365.1L607.6 364.7L608 365.7L608.4 366.2L608.8 366.8L609.2 368.6L609.6 367.8L610 367.7L610.4 367.5L610.8 367.6L611.2 365.3L611.6 365.3L612 366.2L612.4 366.2L612.8 367.2L613.2 366.6L613.6 369.4L614 368.4L614.4 368L614.8 368.8L615.2 373.4L615.6 372.7L616 372.8L616.4 372.4L616.8 370.5L617.2 370.3L617.6 368.2L618 371.7L618.4 369.8L618.8 373.2L619.2 372.1L619.6 375.9L620 373.5L620.4 373.8L620.8 374.6L621.2 374.5L621.6 371.6L622 373.2L622.4 372.9L622.8 375.4L623.2 375L623.6 374.2L624 373.4L624.4 373.9L624.8 373.9L625.2 375.8L625.6 377.4L626 373.6L626.4 375.9L626.8 375.6L627.2 376.6L627.6 374.9L628 376L628.4 375.3L628.8 377.4L629.2 376.5L629.6 376L630 376.6L630.4 376.2L630.8 375.1L631.2 377.8L631.6 377.1L632 376.1L632.4 377.1L632.8 377.4L633.2 375.1L633.6 376.2L634 379.7L634.4 380L634.8 377.7L635.2 377.1L635.6 377.7L636 378.1L636.4 377L636.8 379.1L637.2 377.4L637.6 377.3L638 379.9L638.4 378.2L638.8 379.2L639.2 380.5L639.6 381.4L640 380.7L640.4 381.7L640.8 380.5L641.2 382.7L641.6 380.3L642 377.8L642.4 379.5L642.8 381L643.2 381.3L643.6 383L644 382.3L644.4 379.9L644.8 380.4L645.2 378.9L645.6 380.7L646 381L646.4 385L646.8 383.1L647.2 381.3L647.6 383.4L648 384.5L648.4 383.1L648.8 383.8L649.2 384.5L649.6 384.9L650 383.7L650.4 382.4L650.8 384.2L651.2 382.3L651.6 381.7L652 379.7L652.4 379.7L652.8 381.3L653.2 379L653.6 381.6L654 383.2L654.4 382.7L654.8 384.3L655.2 383.6L655.6 387.4L656 387.5L656.4 386.3L656.8 383.6L657.2 384.2L657.6 386.6L658 387.4L658.4 385.2L658.8 385.6L659.2 382.8L659.6 383L660 383L660.4 383.5L660.8 381.4L661.2 384.9L661.6 385.9L662 383L662.4 382.5L662.8 384.1L663.2 382.8L663.6 381.1L664 385.6L664.4 385.5L664.8 385.1L665.2 388.4L665.6 386.1L666 385.1L666.4 386.3L666.8 385.3L667.2 385.8L667.6 387.2L668 386.1L668.4 386.3L668.8 389.2L669.2 388.6L669.6 388.7L670 388.4L670.4 388.2L670.8 389.1L671.2 386.7L671.6 388.5L672 384.8L672.4 385.5L672.8 384.1L673.2 385.3L673.6 386.7L674 388.3L674.4 386.2L674.8 387L675.2 386.4L675.6 385.9L676 385.3L676.4 386.5L676.8 383.8L677.2 385.4L677.6 385.1L678 384.3L678.4 384.3L678.8 384.2L679.2 388.6L679.6 385.3L680 389.3L680.4 388.6L680.8 387.9L681.2 387.4L681.6 390.2L682 390.9L682.4 387.3L682.8 387.8L683.2 389L683.6 387.6L684 389.5L684.4 386.6L684.8 388.1L685.2 386L685.6 389.7L686 385.5L686.4 383.2L686.8 385.6L687.2 386.1L687.6 389.4L688 387.5L688.4 388.4L688.8 389.3L689.2 390.3L689.6 388L690 389L690.4 388.4L690.8 387.8L691.2 388.6L691.6 388.5L692 386.9L692.4 389.1L692.8 385.9L693.2 389.2L693.6 389.3L694 388.3L694.4 387.8L694.8 388.7L695.2 389.8L695.6 390.2L696 389.4L696.4 390L696.8 387.8L697.2 388.4L697.6 386.2L698 389.6L698.4 389.7L698.8 389.8L699.2 392.2L699.6 391.7L700 387.2L700.4 390.4L700.8 388.7L701.2 392.1L701.6 394L702 390.2L702.4 390.5L702.8 389.5L703.2 389.4L703.6 389L704 389.4L704.4 386.8L704.8 390.7L705.2 389L705.6 391.5L706 392.9L706.4 392.2L706.8 389.6L707.2 389.2L707.6 389.1L708 389.5L708.4 390.8L708.8 387.8L709.2 389.6L709.6 389.5L710 389.4L710.4 389.3L710.8 390.2L711.2 388.7L711.6 389.1L712 389L712.4 390.9L712.8 387L713.2 391.2L713.6 389.2L714 389L714.4 388L714.8 386.9L715.2 388.7L715.6 388.4L716 389.8L716.4 387.8L716.8 391.7L717.2 390.6L717.6 389.9L718 389.1L718.4 388.8L718.8 388.2L719.2 388.7L719.6 389L720 388.4L720.4 386.8L720.8 388.2L721.2 387.7L721.6 389L722 391L722.4 389.3L722.8 388.2L723.2 387L723.3 387.7" fill="none" stroke="#0072BD" stroke-width="3.0" stroke-linecap="round" stroke-linejoin="round"/>
<rect x="531.4" y="46.4" width="211.7" height="345.1" fill="none" stroke="#262626" stroke-width="1.6"/>
<path d="M550.5 391.5v-10M550.5 46.4v10M569.8 391.5v-5M569.8 46.4v5M589 391.5v-5M589 46.4v5M608.3 391.5v-10M608.3 46.4v10M627.6 391.5v-5M627.6 46.4v5M646.8 391.5v-5M646.8 46.4v5M666.1 391.5v-10M666.1 46.4v10M685.4 391.5v-5M685.4 46.4v5M704.6 391.5v-5M704.6 46.4v5M723.9 391.5v-10M723.9 46.4v10M531.4 374.4h5M743.1 374.4h-5M531.4 357.5h5M743.1 357.5h-5M531.4 340.6h5M743.1 340.6h-5M531.4 323.7h10M743.1 323.7h-10M531.4 306.8h5M743.1 306.8h-5M531.4 289.9h5M743.1 289.9h-5M531.4 273h5M743.1 273h-5M531.4 256.1h10M743.1 256.1h-10M531.4 239.2h5M743.1 239.2h-5M531.4 222.3h5M743.1 222.3h-5M531.4 205.4h5M743.1 205.4h-5M531.4 188.5h10M743.1 188.5h-10M531.4 171.6h5M743.1 171.6h-5M531.4 154.7h5M743.1 154.7h-5M531.4 137.8h5M743.1 137.8h-5M531.4 120.9h10M743.1 120.9h-10M531.4 104h5M743.1 104h-5M531.4 87.1h5M743.1 87.1h-5M531.4 70.2h5M743.1 70.2h-5M531.4 53.3h10M743.1 53.3h-10" stroke="#262626" stroke-width="1.5" fill="none"/>
<text x="550.5" y="417.9" text-anchor="middle" font-size="23.6" fill="#262626">450</text>
<text x="608.3" y="417.9" text-anchor="middle" font-size="23.6" fill="#262626">600</text>
<text x="666.1" y="417.9" text-anchor="middle" font-size="23.6" fill="#262626">750</text>
<text x="723.9" y="417.9" text-anchor="middle" font-size="23.6" fill="#262626">900</text>
<text x="637.2" y="449.2" text-anchor="middle" font-size="27.85" fill="#262626">Wavelength (nm)</text>
<text x="510.4" y="32.5" font-size="42" font-weight="bold" fill="#000">(c)</text>
<text x="572.2" y="33.3" font-size="26" font-weight="bold" fill="#000">hBN (2DS)</text>
<line x1="779.2" y1="323.7" x2="990.1" y2="323.7" stroke="#c4c4c4" stroke-width="1.4" stroke-dasharray="12.7 8.3"/>
<line x1="779.2" y1="256.1" x2="990.1" y2="256.1" stroke="#c4c4c4" stroke-width="1.4" stroke-dasharray="12.7 8.3"/>
<line x1="779.2" y1="188.5" x2="990.1" y2="188.5" stroke="#c4c4c4" stroke-width="1.4" stroke-dasharray="12.7 8.3"/>
<line x1="779.2" y1="120.9" x2="990.1" y2="120.9" stroke="#c4c4c4" stroke-width="1.4" stroke-dasharray="12.7 8.3"/>
<line x1="779.2" y1="53.3" x2="990.1" y2="53.3" stroke="#c4c4c4" stroke-width="1.4" stroke-dasharray="12.7 8.3"/>
<path d="M799.1 53.3L799.6 53.7L800.1 54.2L800.6 54.6L801.1 55.1L801.6 55.7L802.1 56.2L802.6 56.8L803.1 57.4L803.6 58L804.1 58.7L804.6 59.3L805.1 60L805.6 60.6L806.1 61.3L806.6 62L807.1 62.7L807.6 63.5L808.1 64.2L808.6 64.9L809.1 65.6L809.6 66.3L810.1 67L810.6 67.8L811.1 68.5L811.6 69.2L812.1 69.9L812.6 70.5L813.1 71.2L813.6 71.9L814.1 72.5L814.6 73.1L815.1 73.7L815.6 74.3L816.1 74.9L816.6 75.4L817.1 75.9L817.6 76.4L818.1 76.9L818.6 77.4L819.1 77.9L819.6 78.3L820.1 78.8L820.6 79.2L821.1 79.6L821.6 80L822.1 80.4L822.6 80.8L823.1 81.2L823.6 81.6L824.1 82L824.6 82.4L825.1 82.7L825.6 83.1L826.1 83.4L826.6 83.8L827.1 84.2L827.6 84.5L828.1 84.9L828.6 85.2L829.1 85.5L829.6 85.9L830.1 86.2L830.6 86.5L831.1 86.9L831.6 87.2L832.1 87.5L832.6 87.8L833.1 88.1L833.6 88.4L834.1 88.7L834.6 89L835.1 89.3L835.6 89.6L836.1 89.9L836.6 90.2L837.1 90.5L837.6 90.8L838.1 91.1L838.6 91.4L839.1 91.7L839.6 92L840.1 92.2L840.6 92.5L841.1 92.8L841.6 93.1L842.1 93.3L842.6 93.6L843.1 93.9L843.6 94.2L844.1 94.4L844.6 94.7L845.1 95L845.6 95.2L846.1 95.5L846.6 95.7L847.1 96L847.6 96.2L848.1 96.5L848.6 96.7L849.1 97L849.6 97.2L850.1 97.5L850.6 97.7L851.1 97.9L851.6 98.2L852.1 98.4L852.6 98.6L853.1 98.8L853.6 99.1L854.1 99.3L854.6 99.5L855.1 99.7L855.6 99.9L856.1 100.1L856.6 100.3L857.1 100.5L857.6 100.7L858.1 100.9L858.6 101.1L859.1 101.3L859.6 101.4L860.1 101.6L860.6 101.8L861.1 102L861.6 102.1L862.1 102.3L862.6 102.4L863.1 102.6L863.6 102.8L864.1 102.9L864.6 103.1L865.1 103.2L865.6 103.3L866.1 103.5L866.6 103.6L867.1 103.8L867.6 103.9L868.1 104L868.6 104.2L869.1 104.3L869.6 104.4L870.1 104.5L870.6 104.7L871.1 104.8L871.6 104.9L872.1 105L872.6 105.1L873.1 105.3L873.6 105.4L874.1 105.5L874.6 105.6L875.1 105.7L875.6 105.9L876.1 106L876.6 106.1L877.1 106.2L877.6 106.3L878.1 106.4L878.6 106.6L879.1 106.7L879.6 106.8L880.1 106.9L880.6 107L881.1 107.1L881.6 107.3L882.1 107.4L882.6 107.5L883.1 107.6L883.6 107.7L884.1 107.8L884.6 107.9L885.1 108.1L885.6 108.2L886.1 108.3L886.6 108.4L887.1 108.5L887.6 108.6L888.1 108.7L888.6 108.8L889.1 109L889.6 109.1L890.1 109.2L890.6 109.3L891.1 109.4L891.6 109.5L892.1 109.6L892.6 109.7L893.1 109.8L893.6 109.9L894.1 110L894.6 110.2L895.1 110.3L895.6 110.4L896.1 110.5L896.6 110.6L897.1 110.7L897.6 110.8L898.1 110.9L898.6 111L899.1 111.1L899.6 111.2L900.1 111.3L900.6 111.4L901.1 111.5L901.6 111.6L902.1 111.7L902.6 111.8L903.1 111.9L903.6 112L904.1 112.1L904.6 112.2L905.1 112.3L905.6 112.4L906.1 112.5L906.6 112.6L907.1 112.7L907.6 112.8L908.1 112.9L908.6 113L909.1 113.1L909.6 113.2L910.1 113.3L910.6 113.4L911.1 113.4L911.6 113.5L912.1 113.6L912.6 113.7L913.1 113.8L913.6 113.9L914.1 114L914.6 114.1L915.1 114.2L915.6 114.2L916.1 114.3L916.6 114.4L917.1 114.5L917.6 114.6L918.1 114.7L918.6 114.8L919.1 114.8L919.6 114.9L920.1 115L920.6 115.1L921.1 115.2L921.6 115.2L922.1 115.3L922.6 115.4L923.1 115.5L923.6 115.5L924.1 115.6L924.6 115.7L925.1 115.8L925.6 115.8L926.1 115.9L926.6 116L927.1 116L927.6 116.1L928.1 116.2L928.6 116.2L929.1 116.3L929.6 116.4L930.1 116.4L930.6 116.5L931.1 116.6L931.6 116.6L932.1 116.7L932.6 116.8L933.1 116.8L933.6 116.9L934.1 116.9L934.6 117L935.1 117.1L935.6 117.1L936.1 117.2L936.6 117.2L937.1 117.3L937.6 117.3L938.1 117.4L938.6 117.4L939.1 117.5L939.6 117.5L940.1 117.6L940.6 117.6L941.1 117.7L941.6 117.7L942.1 117.7L942.6 117.8L943.1 117.8L943.6 117.9L944.1 117.9L944.6 118L945.1 118L945.6 118L946.1 118.1L946.6 118.1L947.1 118.1L947.6 118.2L948.1 118.2L948.6 118.2L949.1 118.3L949.6 118.3L950.1 118.3L950.6 118.3L951.1 118.4L951.6 118.4L952.1 118.4L952.6 118.4L953.1 118.5L953.6 118.5L954.1 118.5L954.6 118.5L955.1 118.5L955.6 118.5L956.1 118.6L956.6 118.6L957.1 118.6L957.6 118.6L958.1 118.6L958.6 118.6L959.1 118.6L959.6 118.6L960.1 118.6L960.6 118.6L961.1 118.6L961.6 118.6L962.1 118.6L962.6 118.6L963.1 118.6L963.6 118.6L964.1 118.6L964.6 118.6L965.1 118.6L965.6 118.6L966.1 118.6L966.6 118.6L967.1 118.6L967.6 118.6L968.1 118.5L968.6 118.5L969.1 118.5L969.6 118.5L970.1 118.5L970.3 118.5" fill="none" stroke="#77AC30" stroke-width="3.3" stroke-linecap="round" stroke-linejoin="round"/>
<path d="M799.1 120.9L799.6 121.6L800.1 122.2L800.6 122.9L801.1 123.6L801.6 124.4L802.1 125.1L802.6 125.8L803.1 126.6L803.6 127.3L804.1 128.1L804.6 128.8L805.1 129.6L805.6 130.4L806.1 131.2L806.6 131.9L807.1 132.7L807.6 133.5L808.1 134.3L808.6 135L809.1 135.8L809.6 136.6L810.1 137.3L810.6 138L811.1 138.8L811.6 139.5L812.1 140.2L812.6 140.9L813.1 141.6L813.6 142.3L814.1 143L814.6 143.6L815.1 144.2L815.6 144.9L816.1 145.5L816.6 146L817.1 146.6L817.6 147.1L818.1 147.7L818.6 148.2L819.1 148.7L819.6 149.2L820.1 149.7L820.6 150.2L821.1 150.7L821.6 151.1L822.1 151.6L822.6 152L823.1 152.5L823.6 152.9L824.1 153.4L824.6 153.8L825.1 154.2L825.6 154.7L826.1 155.1L826.6 155.5L827.1 155.9L827.6 156.3L828.1 156.8L828.6 157.2L829.1 157.6L829.6 158L830.1 158.3L830.6 158.7L831.1 159.1L831.6 159.5L832.1 159.9L832.6 160.2L833.1 160.6L833.6 161L834.1 161.3L834.6 161.7L835.1 162L835.6 162.4L836.1 162.7L836.6 163.1L837.1 163.4L837.6 163.7L838.1 164L838.6 164.3L839.1 164.6L839.6 164.9L840.1 165.2L840.6 165.5L841.1 165.8L841.6 166.1L842.1 166.4L842.6 166.7L843.1 166.9L843.6 167.2L844.1 167.4L844.6 167.7L845.1 167.9L845.6 168.2L846.1 168.4L846.6 168.6L847.1 168.9L847.6 169.1L848.1 169.3L848.6 169.5L849.1 169.7L849.6 169.9L850.1 170.1L850.6 170.3L851.1 170.5L851.6 170.7L852.1 170.9L852.6 171.1L853.1 171.2L853.6 171.4L854.1 171.6L854.6 171.7L855.1 171.9L855.6 172.1L856.1 172.2L856.6 172.4L857.1 172.5L857.6 172.7L858.1 172.8L858.6 173L859.1 173.1L859.6 173.2L860.1 173.4L860.6 173.5L861.1 173.6L861.6 173.7L862.1 173.9L862.6 174L863.1 174.1L863.6 174.2L864.1 174.3L864.6 174.5L865.1 174.6L865.6 174.7L866.1 174.8L866.6 174.9L867.1 175L867.6 175.1L868.1 175.2L868.6 175.3L869.1 175.4L869.6 175.5L870.1 175.6L870.6 175.7L871.1 175.8L871.6 175.9L872.1 176L872.6 176.1L873.1 176.2L873.6 176.3L874.1 176.4L874.6 176.4L875.1 176.5L875.6 176.6L876.1 176.7L876.6 176.8L877.1 176.9L877.6 177L878.1 177.1L878.6 177.2L879.1 177.3L879.6 177.4L880.1 177.5L880.6 177.5L881.1 177.6L881.6 177.7L882.1 177.8L882.6 177.9L883.1 178L883.6 178.1L884.1 178.2L884.6 178.3L885.1 178.4L885.6 178.4L886.1 178.5L886.6 178.6L887.1 178.7L887.6 178.8L888.1 178.9L888.6 179L889.1 179.1L889.6 179.2L890.1 179.2L890.6 179.3L891.1 179.4L891.6 179.5L892.1 179.6L892.6 179.7L893.1 179.8L893.6 179.9L894.1 179.9L894.6 180L895.1 180.1L895.6 180.2L896.1 180.3L896.6 180.4L897.1 180.5L897.6 180.5L898.1 180.6L898.6 180.7L899.1 180.8L899.6 180.9L900.1 181L900.6 181L901.1 181.1L901.6 181.2L902.1 181.3L902.6 181.4L903.1 181.5L903.6 181.5L904.1 181.6L904.6 181.7L905.1 181.8L905.6 181.9L906.1 181.9L906.6 182L907.1 182.1L907.6 182.2L908.1 182.3L908.6 182.3L909.1 182.4L909.6 182.5L910.1 182.6L910.6 182.6L911.1 182.7L911.6 182.8L912.1 182.9L912.6 182.9L913.1 183L913.6 183.1L914.1 183.2L914.6 183.2L915.1 183.3L915.6 183.4L916.1 183.4L916.6 183.5L917.1 183.6L917.6 183.7L918.1 183.7L918.6 183.8L919.1 183.9L919.6 183.9L920.1 184L920.6 184.1L921.1 184.1L921.6 184.2L922.1 184.3L922.6 184.3L923.1 184.4L923.6 184.5L924.1 184.5L924.6 184.6L925.1 184.6L925.6 184.7L926.1 184.8L926.6 184.8L927.1 184.9L927.6 184.9L928.1 185L928.6 185.1L929.1 185.1L929.6 185.2L930.1 185.2L930.6 185.3L931.1 185.3L931.6 185.4L932.1 185.4L932.6 185.5L933.1 185.5L933.6 185.6L934.1 185.6L934.6 185.7L935.1 185.7L935.6 185.8L936.1 185.8L936.6 185.9L937.1 185.9L937.6 186L938.1 186L938.6 186.1L939.1 186.1L939.6 186.2L940.1 186.2L940.6 186.2L941.1 186.3L941.6 186.3L942.1 186.4L942.6 186.4L943.1 186.4L943.6 186.5L944.1 186.5L944.6 186.6L945.1 186.6L945.6 186.6L946.1 186.7L946.6 186.7L947.1 186.7L947.6 186.7L948.1 186.8L948.6 186.8L949.1 186.8L949.6 186.9L950.1 186.9L950.6 186.9L951.1 186.9L951.6 187L952.1 187L952.6 187L953.1 187L953.6 187.1L954.1 187.1L954.6 187.1L955.1 187.1L955.6 187.1L956.1 187.1L956.6 187.2L957.1 187.2L957.6 187.2L958.1 187.2L958.6 187.2L959.1 187.2L959.6 187.2L960.1 187.2L960.6 187.3L961.1 187.3L961.6 187.3L962.1 187.3L962.6 187.3L963.1 187.3L963.6 187.3L964.1 187.3L964.6 187.3L965.1 187.3L965.6 187.3L966.1 187.3L966.6 187.3L967.1 187.3L967.6 187.3L968.1 187.3L968.6 187.2L969.1 187.2L969.6 187.2L970.1 187.2L970.3 187.2" fill="none" stroke="#7E2F8E" stroke-width="3.3" stroke-linecap="round" stroke-linejoin="round"/>
<path d="M799.1 188.5L799.6 189.8L800.1 191.1L800.6 192.4L801.1 193.6L801.6 194.8L802.1 196L802.6 197.2L803.1 198.3L803.6 199.5L804.1 200.5L804.6 201.6L805.1 202.7L805.6 203.7L806.1 204.7L806.6 205.7L807.1 206.6L807.6 207.5L808.1 208.4L808.6 209.3L809.1 210.2L809.6 211.1L810.1 211.9L810.6 212.7L811.1 213.5L811.6 214.3L812.1 215L812.6 215.7L813.1 216.5L813.6 217.1L814.1 217.8L814.6 218.5L815.1 219.1L815.6 219.8L816.1 220.4L816.6 221L817.1 221.6L817.6 222.1L818.1 222.7L818.6 223.2L819.1 223.8L819.6 224.3L820.1 224.8L820.6 225.2L821.1 225.7L821.6 226.2L822.1 226.6L822.6 227.1L823.1 227.5L823.6 227.9L824.1 228.3L824.6 228.7L825.1 229.1L825.6 229.5L826.1 229.8L826.6 230.2L827.1 230.5L827.6 230.9L828.1 231.2L828.6 231.5L829.1 231.9L829.6 232.2L830.1 232.5L830.6 232.8L831.1 233.1L831.6 233.4L832.1 233.7L832.6 233.9L833.1 234.2L833.6 234.5L834.1 234.7L834.6 235L835.1 235.3L835.6 235.5L836.1 235.8L836.6 236L837.1 236.3L837.6 236.5L838.1 236.7L838.6 237L839.1 237.2L839.6 237.4L840.1 237.6L840.6 237.8L841.1 238L841.6 238.2L842.1 238.5L842.6 238.7L843.1 238.8L843.6 239L844.1 239.2L844.6 239.4L845.1 239.6L845.6 239.8L846.1 240L846.6 240.1L847.1 240.3L847.6 240.5L848.1 240.6L848.6 240.8L849.1 241L849.6 241.1L850.1 241.3L850.6 241.4L851.1 241.6L851.6 241.7L852.1 241.9L852.6 242L853.1 242.1L853.6 242.3L854.1 242.4L854.6 242.5L855.1 242.7L855.6 242.8L856.1 242.9L856.6 243L857.1 243.2L857.6 243.3L858.1 243.4L858.6 243.5L859.1 243.6L859.6 243.7L860.1 243.8L860.6 244L861.1 244.1L861.6 244.2L862.1 244.3L862.6 244.4L863.1 244.5L863.6 244.6L864.1 244.7L864.6 244.8L865.1 244.9L865.6 244.9L866.1 245L866.6 245.1L867.1 245.2L867.6 245.3L868.1 245.4L868.6 245.5L869.1 245.6L869.6 245.7L870.1 245.7L870.6 245.8L871.1 245.9L871.6 246L872.1 246.1L872.6 246.2L873.1 246.2L873.6 246.3L874.1 246.4L874.6 246.5L875.1 246.6L875.6 246.6L876.1 246.7L876.6 246.8L877.1 246.9L877.6 247L878.1 247L878.6 247.1L879.1 247.2L879.6 247.3L880.1 247.4L880.6 247.4L881.1 247.5L881.6 247.6L882.1 247.7L882.6 247.7L883.1 247.8L883.6 247.9L884.1 248L884.6 248.1L885.1 248.1L885.6 248.2L886.1 248.3L886.6 248.4L887.1 248.4L887.6 248.5L888.1 248.6L888.6 248.7L889.1 248.7L889.6 248.8L890.1 248.9L890.6 249L891.1 249L891.6 249.1L892.1 249.2L892.6 249.3L893.1 249.3L893.6 249.4L894.1 249.5L894.6 249.5L895.1 249.6L895.6 249.7L896.1 249.8L896.6 249.8L897.1 249.9L897.6 250L898.1 250L898.6 250.1L899.1 250.2L899.6 250.3L900.1 250.3L900.6 250.4L901.1 250.5L901.6 250.5L902.1 250.6L902.6 250.7L903.1 250.7L903.6 250.8L904.1 250.9L904.6 250.9L905.1 251L905.6 251.1L906.1 251.1L906.6 251.2L907.1 251.3L907.6 251.3L908.1 251.4L908.6 251.4L909.1 251.5L909.6 251.6L910.1 251.6L910.6 251.7L911.1 251.7L911.6 251.8L912.1 251.9L912.6 251.9L913.1 252L913.6 252L914.1 252.1L914.6 252.2L915.1 252.2L915.6 252.3L916.1 252.3L916.6 252.4L917.1 252.4L917.6 252.5L918.1 252.6L918.6 252.6L919.1 252.7L919.6 252.7L920.1 252.8L920.6 252.8L921.1 252.9L921.6 252.9L922.1 253L922.6 253L923.1 253.1L923.6 253.1L924.1 253.2L924.6 253.2L925.1 253.3L925.6 253.3L926.1 253.4L926.6 253.4L927.1 253.5L927.6 253.5L928.1 253.5L928.6 253.6L929.1 253.6L929.6 253.7L930.1 253.7L930.6 253.8L931.1 253.8L931.6 253.8L932.1 253.9L932.6 253.9L933.1 254L933.6 254L934.1 254L934.6 254.1L935.1 254.1L935.6 254.1L936.1 254.2L936.6 254.2L937.1 254.2L937.6 254.3L938.1 254.3L938.6 254.3L939.1 254.4L939.6 254.4L940.1 254.4L940.6 254.5L941.1 254.5L941.6 254.5L942.1 254.5L942.6 254.6L943.1 254.6L943.6 254.6L944.1 254.6L944.6 254.7L945.1 254.7L945.6 254.7L946.1 254.7L946.6 254.8L947.1 254.8L947.6 254.8L948.1 254.8L948.6 254.8L949.1 254.9L949.6 254.9L950.1 254.9L950.6 254.9L951.1 254.9L951.6 254.9L952.1 254.9L952.6 255L953.1 255L953.6 255L954.1 255L954.6 255L955.1 255L955.6 255L956.1 255L956.6 255L957.1 255L957.6 255L958.1 255L958.6 255L959.1 255L959.6 255L960.1 255L960.6 255L961.1 255L961.6 255L962.1 255L962.6 255L963.1 255L963.6 255L964.1 255L964.6 255L965.1 255L965.6 255L966.1 255L966.6 255L967.1 255L967.6 255L968.1 254.9L968.6 254.9L969.1 254.9L969.6 254.9L970.1 254.9L970.3 254.9" fill="none" stroke="#EDB120" stroke-width="3.3" stroke-linecap="round" stroke-linejoin="round"/>
<path d="M799.1 256.1L799.6 257.7L800.1 259.2L800.6 260.7L801.1 262.2L801.6 263.6L802.1 265L802.6 266.4L803.1 267.8L803.6 269.1L804.1 270.4L804.6 271.7L805.1 272.9L805.6 274.1L806.1 275.3L806.6 276.5L807.1 277.6L807.6 278.7L808.1 279.8L808.6 280.8L809.1 281.8L809.6 282.8L810.1 283.8L810.6 284.7L811.1 285.6L811.6 286.5L812.1 287.3L812.6 288.1L813.1 288.9L813.6 289.6L814.1 290.4L814.6 291.1L815.1 291.7L815.6 292.4L816.1 293L816.6 293.5L817.1 294.1L817.6 294.6L818.1 295.1L818.6 295.6L819.1 296L819.6 296.4L820.1 296.8L820.6 297.1L821.1 297.4L821.6 297.7L822.1 298L822.6 298.3L823.1 298.5L823.6 298.7L824.1 298.9L824.6 299.2L825.1 299.4L825.6 299.5L826.1 299.7L826.6 299.9L827.1 300.1L827.6 300.3L828.1 300.5L828.6 300.7L829.1 300.9L829.6 301.1L830.1 301.3L830.6 301.5L831.1 301.8L831.6 302L832.1 302.2L832.6 302.5L833.1 302.7L833.6 302.9L834.1 303.2L834.6 303.4L835.1 303.6L835.6 303.9L836.1 304.1L836.6 304.3L837.1 304.6L837.6 304.8L838.1 305L838.6 305.2L839.1 305.5L839.6 305.7L840.1 305.9L840.6 306.1L841.1 306.3L841.6 306.6L842.1 306.8L842.6 307L843.1 307.2L843.6 307.4L844.1 307.6L844.6 307.8L845.1 308L845.6 308.2L846.1 308.4L846.6 308.6L847.1 308.8L847.6 309L848.1 309.2L848.6 309.4L849.1 309.6L849.6 309.8L850.1 309.9L850.6 310.1L851.1 310.3L851.6 310.5L852.1 310.6L852.6 310.8L853.1 311L853.6 311.1L854.1 311.3L854.6 311.5L855.1 311.6L855.6 311.8L856.1 311.9L856.6 312L857.1 312.2L857.6 312.3L858.1 312.4L858.6 312.6L859.1 312.7L859.6 312.8L860.1 312.9L860.6 313L861.1 313.2L861.6 313.3L862.1 313.4L862.6 313.5L863.1 313.6L863.6 313.7L864.1 313.8L864.6 313.8L865.1 313.9L865.6 314L866.1 314.1L866.6 314.2L867.1 314.3L867.6 314.3L868.1 314.4L868.6 314.5L869.1 314.6L869.6 314.6L870.1 314.7L870.6 314.8L871.1 314.8L871.6 314.9L872.1 315L872.6 315L873.1 315.1L873.6 315.2L874.1 315.2L874.6 315.3L875.1 315.4L875.6 315.4L876.1 315.5L876.6 315.6L877.1 315.6L877.6 315.7L878.1 315.7L878.6 315.8L879.1 315.9L879.6 315.9L880.1 316L880.6 316.1L881.1 316.1L881.6 316.2L882.1 316.3L882.6 316.3L883.1 316.4L883.6 316.5L884.1 316.5L884.6 316.6L885.1 316.6L885.6 316.7L886.1 316.8L886.6 316.8L887.1 316.9L887.6 317L888.1 317L888.6 317.1L889.1 317.2L889.6 317.2L890.1 317.3L890.6 317.4L891.1 317.4L891.6 317.5L892.1 317.5L892.6 317.6L893.1 317.7L893.6 317.7L894.1 317.8L894.6 317.9L895.1 317.9L895.6 318L896.1 318L896.6 318.1L897.1 318.2L897.6 318.2L898.1 318.3L898.6 318.4L899.1 318.4L899.6 318.5L900.1 318.5L900.6 318.6L901.1 318.7L901.6 318.7L902.1 318.8L902.6 318.8L903.1 318.9L903.6 319L904.1 319L904.6 319.1L905.1 319.1L905.6 319.2L906.1 319.2L906.6 319.3L907.1 319.4L907.6 319.4L908.1 319.5L908.6 319.5L909.1 319.6L909.6 319.6L910.1 319.7L910.6 319.8L911.1 319.8L911.6 319.9L912.1 319.9L912.6 320L913.1 320L913.6 320.1L914.1 320.1L914.6 320.2L915.1 320.2L915.6 320.3L916.1 320.3L916.6 320.4L917.1 320.5L917.6 320.5L918.1 320.6L918.6 320.6L919.1 320.7L919.6 320.7L920.1 320.8L920.6 320.8L921.1 320.8L921.6 320.9L922.1 320.9L922.6 321L923.1 321L923.6 321.1L924.1 321.1L924.6 321.2L925.1 321.2L925.6 321.3L926.1 321.3L926.6 321.3L927.1 321.4L927.6 321.4L928.1 321.5L928.6 321.5L929.1 321.5L929.6 321.6L930.1 321.6L930.6 321.7L931.1 321.7L931.6 321.7L932.1 321.8L932.6 321.8L933.1 321.9L933.6 321.9L934.1 321.9L934.6 322L935.1 322L935.6 322L936.1 322.1L936.6 322.1L937.1 322.1L937.6 322.1L938.1 322.2L938.6 322.2L939.1 322.2L939.6 322.3L940.1 322.3L940.6 322.3L941.1 322.3L941.6 322.4L942.1 322.4L942.6 322.4L943.1 322.4L943.6 322.5L944.1 322.5L944.6 322.5L945.1 322.5L945.6 322.6L946.1 322.6L946.6 322.6L947.1 322.6L947.6 322.6L948.1 322.6L948.6 322.7L949.1 322.7L949.6 322.7L950.1 322.7L950.6 322.7L951.1 322.7L951.6 322.7L952.1 322.7L952.6 322.8L953.1 322.8L953.6 322.8L954.1 322.8L954.6 322.8L955.1 322.8L955.6 322.8L956.1 322.8L956.6 322.8L957.1 322.8L957.6 322.8L958.1 322.8L958.6 322.8L959.1 322.8L959.6 322.8L960.1 322.8L960.6 322.8L961.1 322.8L961.6 322.8L962.1 322.8L962.6 322.8L963.1 322.8L963.6 322.8L964.1 322.7L964.6 322.7L965.1 322.7L965.6 322.7L966.1 322.7L966.6 322.7L967.1 322.7L967.6 322.7L968.1 322.6L968.6 322.6L969.1 322.6L969.6 322.6L970.1 322.6L970.3 322.5" fill="none" stroke="#D95319" stroke-width="3.3" stroke-linecap="round" stroke-linejoin="round"/>
<path d="M799.1 323.3L799.5 324.3L799.9 326.6L800.3 327.1L800.7 329.1L801.1 330.8L801.5 333.7L801.9 334.1L802.3 336.6L802.7 336.3L803.1 337.2L803.5 340L803.9 339.9L804.3 339L804.7 339.4L805.1 340.7L805.5 341.8L805.9 345.5L806.3 346L806.7 346.7L807.1 347L807.5 347.9L807.9 348L808.3 349.1L808.7 348.7L809.1 351.2L809.5 353.6L809.9 352.2L810.3 353.6L810.7 355.6L811.1 356.7L811.5 357L811.9 355L812.3 356.6L812.7 355.3L813.1 356.2L813.5 358.3L813.9 358.4L814.3 359.7L814.7 361.8L815.1 359.9L815.5 360.1L815.9 359.4L816.3 360.3L816.7 360.3L817.1 360.7L817.5 359.9L817.9 360.1L818.3 360.9L818.7 361L819.1 361.1L819.5 361.3L819.9 362.7L820.3 362.4L820.7 363.7L821.1 364.6L821.5 364L821.9 365L822.3 363.1L822.7 365.8L823.1 364.5L823.5 362.9L823.9 362L824.3 363.5L824.7 362.1L825.1 363.8L825.5 365.8L825.9 365.7L826.3 365.4L826.7 366.5L827.1 364.8L827.5 366L827.9 365.6L828.3 365.6L828.7 366.7L829.1 365L829.5 367.1L829.9 364.9L830.3 367.6L830.7 365.8L831.1 368.2L831.5 367.3L831.9 367.5L832.3 369L832.7 369.4L833.1 367.5L833.5 369.2L833.9 367.2L834.3 368L834.7 368.6L835.1 369.3L835.5 367.8L835.9 371.2L836.3 370.3L836.7 369.3L837.1 368.5L837.5 367.8L837.9 368.3L838.3 370.6L838.7 370.6L839.1 370.4L839.5 371L839.9 372.3L840.3 370.1L840.7 369.6L841.1 371.4L841.5 371.3L841.9 371.8L842.3 372L842.7 371.8L843.1 372.3L843.5 372.8L843.9 372.9L844.3 373.4L844.7 373.6L845.1 373.4L845.5 373.8L845.9 373.1L846.3 372.2L846.7 373.3L847.1 372.3L847.5 372.1L847.9 372.6L848.3 372.5L848.7 373.5L849.1 375.3L849.5 375.9L849.9 375.3L850.3 376.1L850.7 375.2L851.1 374.3L851.5 375.3L851.9 377L852.3 375L852.7 376.9L853.1 377.3L853.5 377.5L853.9 375.6L854.3 378L854.7 376.5L855.1 376.3L855.5 376.2L855.9 376.5L856.3 375.4L856.7 374.6L857.1 375.6L857.5 373.9L857.9 373.7L858.3 375.3L858.7 375.5L859.1 376.1L859.5 374.6L859.9 376.7L860.3 376.2L860.7 377L861.1 374.1L861.5 375.1L861.9 375L862.3 374.6L862.7 376L863.1 377.7L863.5 375.9L863.9 375L864.3 375.8L864.7 375.7L865.1 375.9L865.5 374.7L865.9 375.9L866.3 377.3L866.7 375.9L867.1 375.5L867.5 376.4L867.9 377.1L868.3 375.3L868.7 374.8L869.1 376.4L869.5 376.9L869.9 377.8L870.3 378.5L870.7 377.9L871.1 377.3L871.5 377.6L871.9 376.1L872.3 376.4L872.7 375.6L873.1 378.5L873.5 377.3L873.9 376.4L874.3 376.7L874.7 377.4L875.1 376.4L875.5 377.4L875.9 377.7L876.3 379.3L876.7 378.1L877.1 377.4L877.5 376.4L877.9 376.5L878.3 377.9L878.7 378.3L879.1 379.5L879.5 377.9L879.9 379.4L880.3 378.9L880.7 379L881.1 377.3L881.5 377.5L881.9 378.5L882.3 378.5L882.7 377.3L883.1 378.3L883.5 378.2L883.9 379L884.3 379.1L884.7 380.2L885.1 379.3L885.5 378.7L885.9 379L886.3 380.3L886.7 380.1L887.1 378.7L887.5 380L887.9 378.2L888.3 378L888.7 379.7L889.1 379.8L889.5 379.3L889.9 380.1L890.3 378.9L890.7 379.2L891.1 377.7L891.5 380.4L891.9 377.6L892.3 380.2L892.7 379.5L893.1 379.7L893.5 380.4L893.9 380.7L894.3 380.8L894.7 381.8L895.1 380.8L895.5 381.5L895.9 380.4L896.3 381.6L896.7 381.1L897.1 380.6L897.5 381L897.9 381.3L898.3 381.8L898.7 382.1L899.1 381.3L899.5 380.8L899.9 381.6L900.3 379.1L900.7 379.9L901.1 381.8L901.5 378.3L901.9 380.3L902.3 381.8L902.7 380L903.1 384L903.5 379.9L903.9 383.7L904.3 384.1L904.7 383.7L905.1 382.8L905.5 383.4L905.9 382.3L906.3 383.7L906.7 382L907.1 382.5L907.5 383.4L907.9 381.8L908.3 383L908.7 383.8L909.1 382.7L909.5 384.8L909.9 383.9L910.3 382L910.7 383.1L911.1 382.5L911.5 382.9L911.9 384L912.3 383.9L912.7 385.7L913.1 384.3L913.5 385.3L913.9 383.9L914.3 384.3L914.7 383.1L915.1 383.2L915.5 382.8L915.9 384.7L916.3 385.6L916.7 387.2L917.1 386.7L917.5 385.7L917.9 385.1L918.3 385.5L918.7 385.2L919.1 386.5L919.5 385.8L919.9 384L920.3 383.9L920.7 385.7L921.1 384.9L921.5 384.8L921.9 386.4L922.3 385.4L922.7 385.7L923.1 385.5L923.5 384L923.9 386.3L924.3 384.4L924.7 385.1L925.1 385L925.5 386.1L925.9 385.1L926.3 384.9L926.7 383.3L927.1 384.6L927.5 383.3L927.9 384.6L928.3 384.7L928.7 384.7L929.1 386.9L929.5 385.8L929.9 385.7L930.3 385.1L930.7 384.9L931.1 386.3L931.5 387L931.9 385.5L932.3 387.6L932.7 387L933.1 387.4L933.5 387.3L933.9 386.3L934.3 386.7L934.7 389L935.1 387.2L935.5 385.5L935.9 386.8L936.3 386L936.7 384.7L937.1 384.3L937.5 385.1L937.9 386.9L938.3 386.8L938.7 386.6L939.1 386.9L939.5 387.1L939.9 385L940.3 386.8L940.7 386.5L941.1 386.2L941.5 386.8L941.9 387.2L942.3 387.2L942.7 386.2L943.1 387L943.5 389L943.9 386.5L944.3 386.4L944.7 388.2L945.1 388.3L945.5 388.3L945.9 387.1L946.3 388.9L946.7 387.1L947.1 386.6L947.5 386.8L947.9 387.2L948.3 387.9L948.7 387.8L949.1 387.1L949.5 388L949.9 387.4L950.3 388.1L950.7 386.1L951.1 386L951.5 388L951.9 386.2L952.3 387.5L952.7 388L953.1 388.1L953.5 388.3L953.9 389.9L954.3 386.6L954.7 389.8L955.1 391.4L955.5 389.8L955.9 389.8L956.3 390.1L956.7 390.6L957.1 387.6L957.5 388.5L957.9 387.8L958.3 387.8L958.7 386.9L959.1 387.5L959.5 387.1L959.9 388.1L960.3 387.7L960.7 387.6L961.1 387.9L961.5 387.9L961.9 387L962.3 388.9L962.7 386.8L963.1 385.1L963.5 386.7L963.9 385.2L964.3 386.8L964.7 387.2L965.1 388.2L965.5 388.4L965.9 387.7L966.3 388L966.7 389.5L967.1 385.9L967.5 387.8L967.9 388L968.3 386.5L968.7 386.2L969.1 389.5L969.5 387.8L969.9 390.2L970.3 388.7L970.3 387.6" fill="none" stroke="#0072BD" stroke-width="3.0" stroke-linecap="round" stroke-linejoin="round"/>
<rect x="778.4" y="46.4" width="211.7" height="345.1" fill="none" stroke="#262626" stroke-width="1.6"/>
<path d="M797.5 391.5v-10M797.5 46.4v10M816.8 391.5v-5M816.8 46.4v5M836.1 391.5v-5M836.1 46.4v5M855.3 391.5v-10M855.3 46.4v10M874.6 391.5v-5M874.6 46.4v5M893.9 391.5v-5M893.9 46.4v5M913.1 391.5v-10M913.1 46.4v10M932.4 391.5v-5M932.4 46.4v5M951.7 391.5v-5M951.7 46.4v5M970.9 391.5v-10M970.9 46.4v10M778.4 374.4h5M990.1 374.4h-5M778.4 357.5h5M990.1 357.5h-5M778.4 340.6h5M990.1 340.6h-5M778.4 323.7h10M990.1 323.7h-10M778.4 306.8h5M990.1 306.8h-5M778.4 289.9h5M990.1 289.9h-5M778.4 273h5M990.1 273h-5M778.4 256.1h10M990.1 256.1h-10M778.4 239.2h5M990.1 239.2h-5M778.4 222.3h5M990.1 222.3h-5M778.4 205.4h5M990.1 205.4h-5M778.4 188.5h10M990.1 188.5h-10M778.4 171.6h5M990.1 171.6h-5M778.4 154.7h5M990.1 154.7h-5M778.4 137.8h5M990.1 137.8h-5M778.4 120.9h10M990.1 120.9h-10M778.4 104h5M990.1 104h-5M778.4 87.1h5M990.1 87.1h-5M778.4 70.2h5M990.1 70.2h-5M778.4 53.3h10M990.1 53.3h-10" stroke="#262626" stroke-width="1.5" fill="none"/>
<text x="797.5" y="417.9" text-anchor="middle" font-size="23.6" fill="#262626">450</text>
<text x="855.3" y="417.9" text-anchor="middle" font-size="23.6" fill="#262626">600</text>
<text x="913.1" y="417.9" text-anchor="middle" font-size="23.6" fill="#262626">750</text>
<text x="970.9" y="417.9" text-anchor="middle" font-size="23.6" fill="#262626">900</text>
<text x="884.2" y="449.2" text-anchor="middle" font-size="27.85" fill="#262626">Wavelength (nm)</text>
<text x="756.4" y="32.5" font-size="42" font-weight="bold" fill="#000">(d)</text>
<text x="814" y="33.3" font-size="26" font-weight="bold" fill="#000">hBN powder (2DS)</text>
<text transform="translate(22.9 377.1) rotate(-90)" font-size="28" fill="#262626">Normalized CL intensity</text>
<path d="M1076 58.1L1076.7 57.6L1077.5 57.6L1078.2 57.6L1078.9 57.4L1079.7 56.8L1080.4 56.2L1081.2 55.8L1082 55.8L1082.7 55.6L1083.5 55.4L1084.3 55.4L1085 55.5L1085.8 55L1086.6 54.3L1087.4 53.7L1088.1 53.9L1088.9 54.1L1089.7 54.3L1090.5 53.8L1091.3 53.2L1092.1 53L1092.8 53.1L1093.6 53L1094.4 52.9L1095.2 53L1096 53.2L1096.8 53L1097.6 52.5L1098.4 52.5L1099.2 52.9L1100 53.3L1100.8 53.4L1101.6 53.4L1102.4 53.7L1103.1 54L1103.9 54.3L1104.7 54.3L1105.5 54.3L1106.2 54.5L1107 54.8L1107.8 54.9L1108.5 55L1109.3 55.6L1110.1 56.2L1110.8 56.6L1111.6 56.7L1112.4 56.8L1113.1 56.6L1113.9 56.7L1114.6 57.3L1115.4 57.9L1116.1 58.4L1116.9 58.6L1117.6 58.8L1118.4 58.9L1119.1 59.1L1119.9 59.5L1120.6 60L1121.3 60.3L1122.1 60.5L1122.8 60.6L1123.5 60.8L1124.3 61L1125 61.6L1125.7 61.7L1126.4 62L1127.2 62.7L1127.9 63.5L1128.6 63.6L1129.3 63.5L1130 64.2L1130.7 64.8L1131.4 65.2L1132.1 65.4L1132.8 65.7L1133.5 66.5L1134.3 67.1L1135 67.2L1135.7 67L1136.4 67.4L1137.1 68L1137.8 68.6L1138.5 68.9L1139.2 69L1139.9 69.2L1140.6 69.6L1141.3 70.2L1142 70.2L1142.7 70.5L1143.4 70.9L1144.1 71.5L1144.8 71.7L1145.5 72.2L1146.2 72.7L1146.9 73.1L1147.6 73.3L1148.3 73.5L1149.1 74.2L1149.8 74.4L1150.5 74.6L1151.2 74.7L1151.9 75.3L1152.6 76L1153.3 76.6L1154 76.9L1154.7 77.1L1155.5 77.8L1156.2 78.4L1156.9 79.1L1157.6 78.9L1158.3 78.8L1159.1 79.1L1159.8 79.8L1160.5 80.2L1161.2 80.4L1162 80.6L1162.7 81L1163.4 81.3L1164.2 81.9L1164.9 82L1165.6 82.3L1166.4 82.5L1167.1 83L1167.9 83.5L1168.6 84.1L1169.4 84.3L1170.1 84.4L1170.8 84.1L1171.6 84.3L1172.3 84.6L1173.1 85.3L1173.9 85.4L1174.6 85.4L1175.4 85.5L1176.1 86L1176.9 86.8L1177.6 87L1178.4 86.9L1179.2 87.1L1179.9 87.5L1180.7 88.1L1181.5 88.2L1182.2 88.3L1183 88.3L1183.8 88.9L1184.6 89.1L1185.3 89.2L1186.1 89.2L1186.9 89.8L1187.7 89.8L1188.4 89.6L1189.2 89.6L1190 90.1L1190.8 90.9L1191.6 91.3L1192.3 91.4L1193.1 91.1L1193.9 90.8L1194.7 90.8L1195.5 90.9L1196.3 91L1197.1 90.8L1197.9 91L1198.6 91.3L1199.4 92.3L1200.2 92.7L1201 92.7L1201.8 92.5L1202.6 92.4L1203.3 92.4L1204.1 92.2L1204.9 92.7L1205.7 93.3L1206.5 93.5L1207.3 93.3L1208 93.6L1208.8 94.1L1209.6 94.3L1210.4 94.1L1211.2 94L1212 94.1L1212.8 94.6L1213.5 94.8L1214.3 94.6L1215.1 94.8L1215.9 95L1216.7 95.4L1217.5 95.5L1218.3 95.9L1219.1 96.1L1219.9 96.4L1220.6 96.4L1221.4 96.1L1222.2 95.9L1223 96L1223.8 96.6L1224.6 97.2L1225.4 97.5L1226.2 97.5L1227 97.3L1227.8 97.3L1228.5 97.4L1229.3 97.4L1230.1 97.2L1230.9 97.4L1231.7 97.5L1232.5 97.8L1233.3 97.6L1234.1 98L1234.9 98L1235.7 98.4L1236.4 98.2L1237.2 98.3L1238 98.5L1238.8 98.8L1239.6 98.9L1240.4 98.8L1241.2 98.6L1242 98.7L1242.8 99.1L1243.6 99.4L1244.4 99.5L1245.2 99.4L1246 99.5L1246.7 99.5L1247.5 99.7L1248.3 100.3L1249.1 100.2L1249.9 100.4L1250.7 100.3L1251.5 100.4L1252.3 99.9L1253.1 99.9L1253.9 100.3L1254.7 100.7L1255.5 100.9L1256.3 101L1257.1 100.8L1257.9 100.1L1258.7 100.2L1259.5 100.4L1260.3 100.9L1261.1 101L1261.9 101L1262.7 101.2L1263.5 101.5L1264.3 101.8L1265.1 101.4L1265.9 101L1266.7 100.8L1267.5 100.9L1268.3 100.8L1269.1 100.9L1269.9 101.1L1270.7 101.3L1271.5 101.1L1272.3 101.2L1273.1 101.2L1273.9 100.7L1274.7 100.2L1275.5 100.3L1276.3 100.9L1277.1 101L1277.9 100.9L1278.7 100.7L1279.5 100.9L1280.3 101L1281.1 101L1281.9 100.8L1282.7 101L1283.5 101.2L1284.3 101.1L1285.1 101.1L1285.9 101.3L1286.7 101.6L1287.4 101.7L1288.2 102.1L1289 102.3L1289.8 102.2L1290.6 102L1291.4 101.6L1292.2 102L1293 102.3L1293.8 102.7L1294.6 102.5L1295.4 102L1296.2 102L1297 102.3L1297.8 102.6L1298.6 102.4L1299.4 102.5L1300.2 102.7L1301 102.4L1301.8 102.4L1302.6 102.4L1303.4 102.5L1304.2 102.6L1305 103L1305.8 103L1306.6 102.4L1307.4 102.2L1308.2 102.5L1309 102.8L1309.8 102.5L1310.6 102.3L1311.4 102.1L1312.2 102.3L1313 102.6L1313.8 103L1314.6 102.8L1315.4 102.6L1316.2 102.5L1317 102.5L1317.8 102.3L1318.6 102.5L1319.4 102.7L1320.2 102.7L1321 102.2L1321.8 102L1322.6 101.5L1323.4 101.4L1324.2 101.5L1325 102.1L1325.7 102.2L1326.5 101.9L1327.3 101.3L1328.1 100.7L1328.8 100.3L1329.6 100.2L1330.3 99.9L1331.1 99.7L1331.8 99.3L1332.6 98.7L1333.3 98L1334 97.6L1334.7 97.3L1335.5 97.3L1336.2 97.3L1336.9 97.1L1337.6 96.8L1338.2 96.6L1338.9 96.1L1339.6 95.6L1340.2 95L1340.9 94.6L1341.5 93.9L1342.1 93.1L1342.6 92.3L1343.2 91.7L1343.7 91.5L1344.3 91L1344.8 90.3L1345.3 89.8L1345.8 89.5L1346.3 89L1346.8 88.4L1347.2 87.5L1347.7 86.6L1348.2 85.8L1348.6 85.2L1349.1 84.4L1349.5 84L1349.9 83.4L1350.4 82.6L1350.8 81.7L1351.2 81.4L1351.6 81L1352 80.3L1352.4 79.3L1352.8 78.4L1353.2 77.4L1353.6 76.7L1353.9 76.4L1354.2 75.7L1354.5 75.1L1354.8 74L1355 73.3L1355.3 72.4L1355.6 72L1355.8 71.3L1356.1 70.1L1356.3 69.2L1356.6 68.4L1357 68.3L1357.4 67.7L1357.8 67.1L1358.3 65.8L1358.9 65.2L1359.6 64.5L1360.3 64.5L1361.1 64.6L1361.8 65.1L1362.5 65.3L1363.3 65.5L1364 65.9L1364.8 66.2L1365.6 66L1366.3 65.7L1367.1 65.5L1367.8 65.3L1368.5 65.1L1369.2 64.7L1369.8 64.3L1370.4 63.6L1371 63.4L1371.5 63L1372.1 62.5L1372.7 61.5L1373.2 60.6L1373.8 60.1L1374.4 59.9L1374.9 59.3L1375.5 58.7L1376.1 57.8L1376.7 57.3L1377.3 56.3L1377.9 56.3L1378.6 56.2L1379.2 56L1379.9 55.1L1380.6 54.8L1381.3 54.2L1382 53.8L1382.8 53.8L1383.6 54.1L1384.4 53.8L1385.2 53.6L1386 53.6L1386.7 53.6L1387.5 53.9L1388.3 54.3L1389.1 54.5L1389.8 54.6L1390.6 54.8L1391.4 55L1392.1 55.5L1392.9 55.8L1393.7 55.9L1394.5 55.3L1395.3 55.3L1396.1 55.7L1396.9 56.1L1397.7 55.6L1398.5 55.3L1399.3 55.7L1400.1 56L1400.9 56.1L1401.6 56.1L1402.4 56.6L1403.2 56.8L1404 56.7L1404.8 56.5L1405.6 56.8L1406.4 57.2L1407.2 57.4L1408 57L1408.8 56.7L1409.6 57L1410.4 57.3L1411.2 57.7L1411.9 57.9L1412.7 58.2L1413.5 58.3L1414.3 58.5L1415.1 58.5L1415.9 58.4L1416.6 58.9L1417.4 59.2L1418.2 59.1L1419 59.1L1419.8 59.6L1420.5 59.6L1421.3 59.3L1422.1 59.6L1422.9 60.1L1423.7 60.7L1424.5 60.8L1425.3 60.9L1426.1 60.7L1426.8 60.7L1427.6 60.7L1428.4 61L1429.2 61.3L1430 61.8L1430.8 61.7L1431.5 61.9L1432.3 61.9L1433.1 62L1433.9 62L1434.6 62.1L1435.4 62.4L1436.2 62.7L1437 63.2L1437.7 63.5L1438.5 63.6L1439.3 63.8L1440 63.8L1440.8 64L1441.6 64.2L1442.3 64.5L1443.1 64.8L1443.8 65.2L1444.6 65.3L1445.4 65.2L1446.1 65.3L1446.9 66L1447.6 66.6L1448.4 67.1L1449.2 67.5L1449.9 67.8L1450.7 67.9L1451.4 67.7L1452.2 67.7L1452.9 67.9L1453.7 68.4L1454.4 68.9L1455.2 69.3L1455.9 69.5L1456.7 69.8L1457.4 70.2L1458.2 70.5L1458.9 70.8L1459.7 71L1460.4 71L1461.1 71.3L1461.9 71.9L1462.6 72.3L1463.3 72.5L1464.1 73.1L1464.8 73.5L1465.5 73.7L1466.2 73.7L1467 74L1467.7 74.3L1468.4 74.9L1469.2 75.7L1469.9 76L1470.6 76.1L1471.4 76.3L1472.1 76.6L1472.9 76.9L1473.6 77L1474.3 77.1L1475.1 77.6L1475.8 78.1L1476.6 78.4L1477.3 78.3L1478.1 78.5L1478.8 79.3L1479.6 80.2L1480.3 80.1L1481.1 79.8L1481.8 79.8L1482.6 80L1483.4 80.5L1484.1 80.7L1484.9 81.2L1485.7 81.6L1486.4 81.6L1487.2 81.5L1488 81.5L1488.7 81.8L1489.5 81.8L1490.3 82.1L1491.1 82.7L1491.9 82.8L1492.6 83L1493.4 83.5L1494.2 84.1L1495 84.1L1495.8 83.9L1496.5 83.8L1497.3 83.9L1498.1 84.2L1498.9 84.6L1499.7 85.1L1500.5 85.4L1501.3 85.4L1502.1 85.4L1502.8 85.2L1503.6 84.9L1504.4 84.7L1505.2 85L1506 85.4L1506.8 85.6L1507.6 86L1508.4 86.4L1509.2 86.7L1510 86.4L1510.8 86.3L1511.5 86.5L1511.6 86.6" fill="none" stroke="#4DBEEE" stroke-width="2.3" stroke-linejoin="round"/>
<path d="M1076 65L1076.6 65.7L1077.2 66.5L1077.8 67.2L1078.4 67.9L1079 68.3L1079.6 68.4L1080.2 68.6L1080.9 69.3L1081.5 69.7L1082.2 70.3L1082.9 70.8L1083.6 71.4L1084.3 71.6L1085.1 71.6L1085.8 71.9L1086.5 72.4L1087.3 73L1088 73.2L1088.8 73.5L1089.5 73.9L1090.3 74.2L1091.1 74.5L1091.8 74.3L1092.6 74.5L1093.3 74.7L1094 75.1L1094.8 75.3L1095.5 75.7L1096.2 76.4L1097 76.5L1097.7 76.6L1098.4 76.6L1099.1 77.4L1099.8 77.8L1100.5 78.3L1101.3 78.5L1102 79L1102.7 79.5L1103.4 79.9L1104.1 80.1L1104.8 80.1L1105.5 80.5L1106.2 81.2L1106.9 81.7L1107.5 82.2L1108.2 82.2L1108.9 82.3L1109.6 82.3L1110.3 83L1110.9 83.8L1111.6 84.5L1112.3 85L1112.9 85.6L1113.6 86L1114.2 86.2L1114.9 86.3L1115.5 87.2L1116.2 87.7L1116.8 88.1L1117.5 88.6L1118.1 89.6L1118.8 89.9L1119.4 90L1120.1 90.6L1120.7 91.5L1121.4 91.8L1122 92.1L1122.7 92.5L1123.3 93.3L1124 93.9L1124.6 94.3L1125.3 94.3L1125.9 94.5L1126.6 95.4L1127.2 96.3L1127.9 96.7L1128.5 97.2L1129.2 97.5L1129.8 97.9L1130.5 98L1131.1 98.6L1131.8 98.9L1132.4 99.7L1133.1 100.1L1133.7 100.3L1134.4 100.3L1135.1 100.9L1135.7 101.5L1136.4 102.2L1137.1 102.4L1137.8 102.7L1138.5 103.3L1139.1 103.9L1139.8 104.4L1140.5 104.8L1141.2 105.2L1141.9 105.2L1142.6 105.6L1143.3 106.2L1144 107L1144.7 106.9L1145.4 106.9L1146 106.8L1146.7 107.4L1147.4 108.3L1148.1 109.2L1148.8 109.8L1149.5 110L1150.2 110.5L1150.8 110.9L1151.5 111.3L1152.2 111.6L1152.9 111.7L1153.6 111.9L1154.2 112.6L1154.9 113.4L1155.6 113.8L1156.3 113.9L1157 114.3L1157.7 114.9L1158.3 115.5L1159 115.7L1159.7 115.3L1160.4 115.6L1161.1 115.9L1161.9 116.4L1162.6 117L1163.3 117.9L1164 118.3L1164.7 118.5L1165.5 118.9L1166.2 119.4L1166.9 119.6L1167.7 119.7L1168.4 119.8L1169.1 119.8L1169.9 120.2L1170.6 120.9L1171.3 121.3L1172.1 121.5L1172.8 121.5L1173.5 122.1L1174.3 122.6L1175 123.2L1175.7 123.5L1176.4 123.6L1177.2 123.7L1177.9 124.2L1178.6 124.6L1179.3 125L1180.1 125.7L1180.8 126.2L1181.5 126.4L1182.2 126.7L1183 127L1183.7 127.1L1184.4 127L1185.2 127.5L1185.9 128.1L1186.7 128.5L1187.4 128.7L1188.2 129.1L1188.9 129.6L1189.7 129.6L1190.4 129.5L1191.2 129.7L1192 130.3L1192.7 130.5L1193.5 130.6L1194.3 130.6L1195 130.6L1195.8 130.8L1196.6 131.1L1197.4 131.6L1198.1 131.7L1198.9 131.9L1199.7 131.9L1200.5 132L1201.2 132.4L1202 132.7L1202.8 133.1L1203.6 133L1204.4 133.2L1205.2 133L1205.9 133.2L1206.7 133.3L1207.5 133.8L1208.3 134.1L1209.1 134.3L1209.9 134.5L1210.7 134.7L1211.4 134.9L1212.2 135.1L1213 135.2L1213.8 135.2L1214.6 135.3L1215.3 135.5L1216.1 135.8L1216.9 136.2L1217.7 136.6L1218.4 136.7L1219.2 136.4L1220 136.5L1220.7 136.8L1221.5 137.4L1222.3 137.6L1223.1 137.7L1223.8 137.9L1224.6 138.1L1225.4 138.2L1226.2 138.6L1226.9 139.2L1227.7 139.5L1228.5 139.4L1229.3 139.1L1230.1 139.2L1230.9 139.4L1231.6 139.7L1232.4 139.7L1233.2 139.8L1234 139.9L1234.8 140.2L1235.6 140.6L1236.3 140.9L1237.1 140.7L1237.9 140.3L1238.7 140.2L1239.5 140.4L1240.3 140.8L1241.1 141.4L1241.9 141.5L1242.7 141.5L1243.5 141.5L1244.2 141.4L1245 141.2L1245.8 141.3L1246.6 141.9L1247.4 142.2L1248.2 142.5L1249 142.7L1249.8 143L1250.6 142.8L1251.4 142.6L1252.2 142.6L1253 142.9L1253.8 143.1L1254.6 143.3L1255.4 143.6L1256.2 143.7L1257 143.7L1257.7 143.5L1258.5 143.6L1259.3 143.5L1260.1 143.5L1260.9 143.7L1261.7 143.8L1262.5 144.1L1263.3 144.1L1264.1 144L1264.9 143.8L1265.7 143.7L1266.5 143.7L1267.3 143.5L1268.1 143.6L1268.9 143.8L1269.7 144.2L1270.5 144.6L1271.3 144.8L1272.1 144.9L1272.9 144.9L1273.7 144.7L1274.5 144.6L1275.3 144.5L1276.1 144.5L1276.9 144.6L1277.7 144.9L1278.5 145.1L1279.3 144.9L1280.1 145L1280.9 144.8L1281.7 144.6L1282.5 144.4L1283.3 144.7L1284.1 144.7L1284.9 145.1L1285.7 145.4L1286.5 145.4L1287.3 145.1L1288.1 144.9L1288.9 145L1289.7 145.3L1290.5 145.6L1291.3 145.3L1292.1 145L1292.9 145.2L1293.7 145.7L1294.5 146L1295.3 145.8L1296.1 145.7L1296.9 145.5L1297.7 145.8L1298.5 145.8L1299.3 146.1L1300.1 146L1300.9 146L1301.7 145.8L1302.5 145.6L1303.3 145.7L1304.1 146L1304.9 146L1305.7 145.7L1306.5 145.8L1307.3 146.4L1308.1 146.8L1308.9 147L1309.7 146.5L1310.5 146.2L1311.3 146.2L1312 146.7L1312.8 146.8L1313.6 146.7L1314.4 146.9L1315.2 147.2L1316 147.3L1316.8 146.8L1317.6 146.8L1318.4 147L1319.2 147.2L1320 147.3L1320.8 147.3L1321.6 147L1322.4 146.7L1323.2 146.9L1324 147L1324.8 147.4L1325.6 147.4L1326.4 147.3L1327.2 147.1L1328 146.9L1328.8 146.7L1329.6 146.9L1330.4 146.8L1331.2 146.6L1332 146.1L1332.8 146L1333.6 145.6L1334.4 145.6L1335.2 145.7L1336 145.7L1336.8 145.4L1337.6 145.2L1338.3 144.9L1339.1 144.9L1339.9 145.3L1340.7 145.6L1341.5 145.4L1342.2 144.5L1343 144.1L1343.8 143.6L1344.6 143.7L1345.3 143.6L1346.1 143.5L1346.9 143.1L1347.6 142.8L1348.4 142.3L1349.1 142.1L1349.9 141.8L1350.6 141.5L1351.4 141.1L1352.1 140.9L1352.9 140.9L1353.6 140.8L1354.4 140.7L1355.1 140.4L1355.8 139.9L1356.6 139.6L1357.3 139L1358 138.5L1358.7 138L1359.4 137.6L1360.1 137.1L1360.7 136.8L1361.3 136.6L1361.9 136.3L1362.5 135.4L1363.1 134.6L1363.7 134.3L1364.2 134.3L1364.7 133.9L1365.1 132.9L1365.5 131.8L1365.9 130.6L1366.3 130L1366.6 129.8L1367 129.1L1367.3 128.1L1367.5 127.3L1367.8 126.4L1368 125.5L1368.2 125L1368.5 125L1368.7 124.3L1368.8 123.4L1369 122.3L1369.2 121.3L1369.4 119.8L1369.6 119.2L1369.7 118.7L1369.9 118.6L1370 117.8L1370.2 117L1370.3 115.6L1370.4 114.8L1370.6 114.1L1370.7 113.5L1370.8 112.1L1370.9 111.4L1371.1 111L1371.2 110.5L1371.3 109.5L1371.4 108.6L1371.6 108.1L1371.7 107.4L1371.8 106.7L1371.9 105.8L1372 104.8L1372.2 103.6L1372.3 102.5L1372.4 101.5L1372.5 101.1L1372.7 100.9L1372.8 100L1372.9 99.1L1373 98L1373.1 97.1L1373.3 96.5L1373.4 96.2L1373.5 95.3L1373.6 94.5L1373.7 94L1373.9 93.3L1374 92.4L1374.1 91.1L1374.2 89.9L1374.3 89.1L1374.5 88.7L1374.6 88.2L1374.7 87.2L1374.8 86.4L1375 85.7L1375.1 85.3L1375.2 84.6L1375.3 83.3L1375.5 82.4L1375.6 81.9L1375.7 81.4L1375.9 80.5L1376 79.9L1376.2 79.2L1376.3 78.3L1376.5 76.9L1376.8 75.9L1377.6 75.7L1378 76.6L1378.3 77.5L1378.5 78.3L1378.7 79.3L1378.8 80L1379 80.7L1379.1 81.3L1379.2 82.1L1379.4 83L1379.5 83.9L1379.6 84.9L1379.8 85.8L1379.9 86.6L1380 87.4L1380.1 87.7L1380.3 88.2L1380.4 88.8L1380.5 89.7L1380.6 90.7L1380.7 91.8L1380.8 92.3L1380.9 92.8L1381.1 93.2L1381.2 94.6L1381.3 95.6L1381.4 96.6L1381.5 96.9L1381.7 97.9L1381.8 98.9L1381.9 99.8L1382.1 100.1L1382.3 101L1382.5 102L1382.7 103.2L1382.9 104L1383.2 104.7L1383.4 105.2L1383.7 105.9L1384.1 106.7L1384.5 107.4L1384.9 107.9L1385.4 108.4L1386 109.1L1386.6 109.8L1387.3 110.3L1388.1 110.6L1388.8 110L1389.4 109.3L1390 108.7L1390.5 108.4L1391 107.5L1391.5 106.7L1392 106.4L1392.5 105.8L1393 105L1393.5 104.2L1394.1 103.5L1394.5 102.7L1395 102.2L1395.4 101.6L1395.9 100.8L1396.3 100.1L1396.7 99.6L1397.2 99L1397.6 98.6L1398.1 98L1398.6 97.1L1399.2 96.1L1399.8 95.6L1400.5 95.9L1401.3 96.4L1402 96.7L1402.6 97.1L1403.1 97.5L1403.6 98.3L1404 98.8L1404.5 99.7L1405 100.4L1405.4 101L1406 101.5L1406.5 101.8L1407.1 102.3L1407.8 102.9L1408.5 104.3L1409.1 105L1409.8 105.1L1410.5 104.6L1411.3 104.9L1412 105L1412.8 105.1L1413.6 105.2L1414.4 105.3L1415.2 105.6L1415.9 105.7L1416.7 105.6L1417.5 105L1418.2 104.3L1419 103.8L1419.7 103.6L1420.4 103.7L1421.1 103.7L1421.9 103.2L1422.6 102.7L1423.3 102.2L1424 101.6L1424.7 101.2L1425.4 101.1L1426.1 101.3L1426.7 100.7L1427.4 99.8L1428 99.4L1428.6 99.3L1429.2 98.6L1429.8 97.6L1430.4 96.9L1431.1 96.9L1431.7 96.4L1432.4 95.9L1433.1 95.3L1433.8 95.5L1434.5 95.3L1435.3 95.1L1436.1 94.6L1436.9 94.8L1437.6 95.3L1438.3 95.5L1439 95.7L1439.7 95.9L1440.3 96.4L1441 96.7L1441.6 97.1L1442.2 97.7L1442.8 98.3L1443.4 99.1L1444 99.9L1444.7 100.5L1445.3 100.6L1446 101L1446.8 101.1L1447.5 101.2L1448.2 101.5L1449 102.3L1449.7 103.1L1450.5 103.1L1451.3 102.9L1452.1 102.7L1452.9 102.9L1453.7 102.9L1454.5 102.7L1455.2 102.1L1456 101.7L1456.7 101.6L1457.4 101.7L1458.1 101.2L1458.8 100.4L1459.4 99.8L1460.1 99.6L1460.7 99.2L1461.3 98.6L1461.9 97.7L1462.4 97L1462.9 96.5L1463.3 96.4L1463.7 95.7L1464.1 94.7L1464.5 94L1464.8 93.5L1465.3 92.8L1465.7 92.1L1466.3 91.7L1467.1 91.8L1467.8 92.2L1468.3 92.7L1468.8 93L1469.3 93.6L1469.7 94.1L1470.1 94.6L1470.5 95.5L1470.9 96.3L1471.3 97.1L1471.7 97.8L1472.2 98.7L1472.7 99.2L1473.1 99.9L1473.6 100.8L1474 101.4L1474.5 101.8L1474.9 102.3L1475.4 103.3L1475.8 104.3L1476.3 104.8L1476.8 104.9L1477.3 105.3L1477.8 106.1L1478.3 106.8L1478.9 107.8L1479.5 108.1L1480.2 108.4L1481 108.6L1481.7 109L1482.5 108.9L1483.3 108.9L1484.1 109.1L1484.9 109.3L1485.7 109.1L1486.5 109.2L1487.3 109L1488.1 109.4L1488.9 109.3L1489.7 109.5L1490.5 109.4L1491.3 109.5L1492.1 109.3L1492.9 109L1493.7 108.8L1494.5 108.9L1495.3 109.3L1496.1 108.9L1496.9 108.5L1497.7 108.4L1498.5 108.6L1499.3 108.6L1500.1 108.9L1500.8 109.7L1501.6 109.7L1502.4 109.8L1503.1 110.1L1503.8 110.7L1504.6 110.9L1505.3 111L1506 111.1L1506.7 111.3L1507.4 111.8L1508.1 112.4L1508.8 113.1L1509.5 113.4L1510.2 113.3L1510.9 113.2L1511.6 113.7" fill="none" stroke="#4DBEEE" stroke-width="2.3" stroke-linejoin="round"/>
<path d="M1076 99.2L1076.4 99.9L1076.7 100.3L1077.1 101.2L1077.4 101.9L1077.8 102.8L1078.2 103.3L1078.5 103.8L1078.9 104.6L1079.3 105L1079.6 105.5L1080 106.1L1080.4 107.4L1080.8 108.4L1081.2 109L1081.6 109.6L1082 110.6L1082.3 111.5L1082.8 112.1L1083.2 112L1083.6 112.5L1084.2 113.3L1084.9 114.1L1085.6 114L1086 112.9L1086.3 112.2L1086.5 111.1L1086.7 110.2L1086.9 109.3L1087 108.8L1087.1 108L1087.3 107.2L1087.4 106.4L1087.5 106L1087.6 105.7L1087.7 105.3L1087.8 104.1L1087.9 103.3L1088 102.5L1088.2 101.9L1088.3 101.5L1088.4 100.5L1088.5 99.3L1088.7 98L1088.8 96.5L1088.9 95.1L1089 94.5L1089.1 94.7L1089.2 94.1L1089.3 93.5L1089.4 93L1089.5 92.2L1089.6 91.4L1089.7 90.8L1089.9 90.3L1090 88.8L1090.1 87.9L1090.3 87.1L1090.5 86.4L1091 86.1L1091.3 86.8L1091.5 87.8L1091.6 88.9L1091.8 90L1091.9 90.8L1092 91.1L1092.1 91.5L1092.2 92.4L1092.3 93.4L1092.5 94.8L1092.6 95.6L1092.7 96.1L1092.8 96.5L1092.9 97.6L1093 98.5L1093.2 98.9L1093.3 99.6L1093.4 100.6L1093.6 101.7L1093.7 102.3L1093.8 102.9L1093.9 103.8L1094 104.8L1094.2 104.8L1094.3 105L1094.4 105.6L1094.5 107L1094.7 108.1L1094.8 109.3L1095 110.3L1095.2 111L1095.3 111.5L1095.5 112.6L1095.8 113.3L1096 114L1096.3 114.8L1096.5 115.8L1096.8 116L1097 116.3L1097.3 117.1L1097.6 118.2L1097.9 119.1L1098.2 120.1L1098.5 120.8L1098.8 121.4L1099.2 122.2L1099.5 123L1099.8 123.6L1100.2 124.3L1100.6 124.8L1101.1 125.3L1101.8 125.6L1102.6 125.5L1103.2 124.8L1103.8 124.5L1104.3 124.3L1104.9 123.8L1105.5 123L1106.2 122.8L1107 123.2L1107.5 123.8L1108 124.2L1108.5 125L1108.9 125.7L1109.3 126.6L1109.7 126.8L1110.1 127.2L1110.5 128L1110.9 129.2L1111.2 129.9L1111.6 130.5L1111.9 131.1L1112.2 131.9L1112.5 132.1L1112.9 132.8L1113.2 133.5L1113.6 134.8L1114 135.9L1114.5 136.5L1115 137.2L1115.5 137.7L1116.1 137.8L1116.7 137.3L1117.3 138.3L1118 139.5L1118.7 140.2L1119.4 140L1120.1 140.1L1120.9 140.8L1121.6 141.3L1122.4 142L1123.2 142L1124 141.5L1124.8 141.2L1125.5 141.6L1126.3 142.2L1127.1 142.6L1127.8 143L1128.6 143.4L1129.4 143.4L1130.1 143.5L1130.9 143.6L1131.6 143.9L1132.3 144.5L1133.1 145.1L1133.8 145.6L1134.5 145.7L1135.2 146L1135.9 146.4L1136.6 146.8L1137.3 147.1L1137.9 147.7L1138.6 147.8L1139.2 148.2L1139.9 148.7L1140.5 149.2L1141.2 149.5L1141.9 149.7L1142.6 150.5L1143.3 150.9L1143.9 151.4L1144.6 152.1L1145.3 152.8L1146 152.7L1146.7 152.7L1147.4 153.3L1148.1 154.1L1148.7 154.7L1149.4 155.1L1150.1 155.6L1150.8 155.7L1151.5 155.8L1152.2 156L1152.9 156.5L1153.5 157.2L1154.2 157.8L1154.9 158.2L1155.6 158.4L1156.2 158.9L1156.9 159.1L1157.6 159.2L1158.3 159.4L1158.9 160.1L1159.6 160.7L1160.3 161.2L1161 161.5L1161.7 162L1162.4 162.6L1163.1 162.8L1163.9 162.8L1164.6 162.9L1165.4 163.9L1166.1 164.2L1166.9 164.5L1167.6 164.4L1168.4 164.7L1169.2 165L1169.9 165.5L1170.7 166L1171.5 166.2L1172.3 166.4L1173 166.3L1173.8 166.6L1174.6 166.9L1175.4 167.4L1176.2 167L1176.9 167.1L1177.7 167.3L1178.5 167.5L1179.3 167.9L1180.1 168.3L1180.9 168.4L1181.6 168L1182.4 168.2L1183.2 168.7L1184 168.9L1184.8 169.1L1185.6 169.3L1186.4 169L1187.2 168.5L1188 168.1L1188.8 168.4L1189.6 169L1190.4 169.5L1191.2 169.3L1192 168.8L1192.8 169L1193.6 169.2L1194.4 169.2L1195.2 169L1196 168.8L1196.8 168.8L1197.6 169L1198.4 169.4L1199.2 169L1200 168.5L1200.8 168.2L1201.6 168.4L1202.4 168.6L1203.1 168.7L1203.9 169L1204.7 169.3L1205.5 169.1L1206.3 168.3L1207.1 168.5L1207.9 168.8L1208.7 169.1L1209.5 169.3L1210.3 169.3L1211.1 168.9L1211.9 168.6L1212.7 168.7L1213.5 168.6L1214.3 168.5L1215.1 169.1L1215.9 169.4L1216.7 169.4L1217.5 169.2L1218.3 169.1L1219.1 169.5L1219.9 169.3L1220.7 169.3L1221.5 169.3L1222.3 169.6L1223.1 169.8L1223.9 170.2L1224.7 170.5L1225.4 170.3L1226.2 169.9L1227 170.2L1227.8 170.4L1228.6 170.8L1229.4 171.2L1230.2 171.5L1231 171.8L1231.8 171.9L1232.6 171.6L1233.3 171.4L1234.1 171.6L1234.9 171.8L1235.7 172L1236.5 172.3L1237.2 172.8L1238 172.5L1238.8 172.5L1239.6 172.8L1240.4 173.1L1241.2 173.2L1241.9 172.8L1242.7 173.2L1243.5 173.3L1244.3 173.3L1245.1 172.8L1245.9 173.2L1246.7 173.9L1247.4 174.2L1248.2 174.5L1249 174.4L1249.8 175.1L1250.6 175.5L1251.4 176.2L1252.2 175.7L1253 175.7L1253.8 175.3L1254.5 175.6L1255.3 175.9L1256.1 175.8L1256.9 175.4L1257.7 175.1L1258.5 175.2L1259.3 175.4L1260.1 175.6L1260.9 175.7L1261.7 176L1262.5 176.5L1263.3 176.7L1264.1 176.5L1264.8 176.5L1265.6 176.9L1266.4 177L1267.2 177.2L1268 177.6L1268.8 178L1269.6 177.8L1270.4 178L1271.2 178.4L1272 178.4L1272.8 177.7L1273.6 177.6L1274.4 177.5L1275.2 177.4L1276 177.2L1276.8 177.1L1277.6 176.8L1278.4 176.4L1279.2 176.3L1280 175.9L1280.8 176.5L1281.6 177.2L1282.4 177.8L1283.2 177.3L1284 177.1L1284.8 177.2L1285.6 177.4L1286.4 177.4L1287.2 176.9L1288 176.8L1288.8 176.7L1289.5 176.7L1290.3 176.5L1291.1 176.9L1291.9 177.6L1292.7 177.8L1293.5 178L1294.3 178.5L1295.1 178.8L1295.8 178.3L1296.6 178L1297.4 178.5L1298.2 178.7L1299 178.5L1299.8 178.4L1300.6 178.2L1301.4 178.4L1302.2 178.9L1303 179.6L1303.8 179.8L1304.6 179.7L1305.4 179.9L1306.2 179.9L1306.9 179.6L1307.7 179.4L1308.5 179.5L1309.3 180.1L1310.1 180.7L1310.9 180.9L1311.7 180.4L1312.5 179.9L1313.3 179.9L1314.1 180.5L1314.9 180.9L1315.7 180.9L1316.5 180.5L1317.3 180.6L1318.1 180.9L1318.9 181L1319.7 180.9L1320.5 181.2L1321.3 181.3L1322.1 181.6L1322.9 181.6L1323.7 181.6L1324.5 181.3L1325.3 181L1326.1 180.7L1326.9 180.4L1327.7 180.2L1328.5 180.4L1329.3 180.5L1330.1 180.7L1330.9 180.8L1331.7 180.1L1332.5 179.7L1333.3 179.3L1334.1 179.8L1334.9 179.6L1335.7 179.9L1336.5 180.2L1337.3 180L1338.1 179.7L1338.9 179.5L1339.6 179.3L1340.4 179.2L1341.2 179.4L1342 179.6L1342.8 179.2L1343.6 179.8L1344.4 180.1L1345.2 179.6L1346 178.5L1346.8 178.6L1347.6 178.9L1348.4 179.1L1349.2 179L1350 179.1L1350.8 179.1L1351.6 179L1352.4 178.7L1353.2 178.7L1354 179.3L1354.8 179.7L1355.6 179.7L1356.4 179.5L1357.2 179.5L1358 180.1L1358.8 180.1L1359.6 180L1360.4 179.9L1361.2 179.9L1362 179.7L1362.8 179.7L1363.6 179.9L1364.4 179.9L1365.2 180.3L1366 180.7L1366.8 180.6L1367.6 180.3L1368.4 180.7L1369.2 180.7L1370 180.5L1370.8 180.3L1371.6 180.6L1372.4 180.7L1373.2 180.6L1374 180.7L1374.8 180.9L1375.6 180.9L1376.4 180.7L1377.2 180.4L1378 180.4L1378.8 180.3L1379.6 180.1L1380.4 180.3L1381.2 180.8L1382 181.5L1382.8 181.6L1383.6 181L1384.4 180.7L1385.2 180.5L1386 180.5L1386.8 180.6L1387.6 180.7L1388.4 180.6L1389.2 180.4L1390 180.6L1390.8 180.1L1391.6 180.1L1392.4 180.1L1393.2 180.5L1394 180.8L1394.8 180.6L1395.6 180.1L1396.4 179.9L1397.2 179.9L1398 179.8L1398.8 180L1399.6 180.4L1400.4 180.3L1401.2 180.2L1402 180.6L1402.8 180.9L1403.5 180.8L1404.3 181.2L1405.1 182.1L1405.9 182.1L1406.7 181.3L1407.5 181.2L1408.3 181.6L1409.1 181.7L1409.9 181.7L1410.7 182L1411.5 181.6L1412.3 180.9L1413.1 180.4L1413.9 181.2L1414.7 181.7L1415.5 181.4L1416.2 181.1L1417 181.3L1417.8 181.5L1418.6 181.2L1419.4 181L1420.2 181.4L1421 181.5L1421.8 181.4L1422.6 181.2L1423.4 181.1L1424.2 180.8L1425 180.9L1425.8 181.2L1426.6 181.5L1427.4 181.8L1428.1 182.2L1428.9 182.6L1429.7 182.3L1430.5 182.3L1431.2 182.4L1432 182.6L1432.8 182.5L1433.6 183.1L1434.4 183.7L1435.1 183.9L1435.9 183.3L1436.7 183.2L1437.5 183.4L1438.3 184.1L1439.1 184L1439.9 183.5L1440.7 183.1L1441.5 183.6L1442.3 184.2L1443.1 184.4L1443.9 185L1444.7 185L1445.5 184.6L1446.3 183.8L1447.1 183.9L1447.9 184.4L1448.7 184.8L1449.5 185L1450.3 185L1451.1 185.3L1451.9 185.3L1452.7 185L1453.5 184.5L1454.3 184.2L1455.1 184L1455.9 184.3L1456.7 185L1457.5 186L1458.3 186L1459.1 185.7L1459.9 185.1L1460.7 185.3L1461.5 185.6L1462.3 185.8L1463.1 185.7L1463.9 185.9L1464.7 185.6L1465.5 185.5L1466.3 185.7L1467.1 186L1467.9 185.8L1468.7 186.2L1469.4 186.8L1470.2 187.4L1471 186.8L1471.8 186.1L1472.6 185.9L1473.4 186.1L1474.2 185.9L1475 185.4L1475.8 186L1476.6 186.7L1477.4 187.2L1478.2 186.8L1479 186.4L1479.8 186.2L1480.6 186.3L1481.4 186.3L1482.2 186.6L1483 186.5L1483.8 186.3L1484.6 186.3L1485.4 186.6L1486.2 186.8L1487 186.4L1487.8 185.9L1488.6 185.7L1489.4 185.7L1490.2 186.4L1491 186.1L1491.8 185.8L1492.6 185.6L1493.4 186.2L1494.2 186.6L1495 186.3L1495.8 186.3L1496.6 186.1L1497.4 186.1L1498.2 185.8L1499 186L1499.8 186.3L1500.6 186.4L1501.4 186.5L1502.2 186.6L1503 186.4L1503.8 185.8L1504.6 185.6L1505.4 185.9L1506.2 186.2L1507 185.9L1507.8 186.1L1508.6 186.4L1509.4 186.8L1510.2 186.2L1511 185.9L1511.6 186.1" fill="none" stroke="#FF0000" stroke-width="2.3" stroke-linejoin="round"/>
<path d="M1076 147.1L1076.2 147.9L1076.4 148.9L1076.6 149.5L1076.9 150.5L1077.1 150.8L1077.3 151.1L1077.5 151.8L1077.7 152.8L1077.9 153.9L1078.2 154.4L1078.4 155.4L1078.6 155.9L1078.8 156.8L1079.1 157.6L1079.3 158.6L1079.5 159.3L1079.8 160.5L1080 161.5L1080.3 162L1080.5 162.4L1080.8 163.5L1081 164.7L1081.3 165.7L1081.5 166.1L1081.8 166.6L1082 167.4L1082.3 168.3L1082.6 168.8L1082.8 168.7L1083.1 169L1083.4 170.3L1083.7 171.5L1083.9 172L1084.2 172.5L1084.5 173.9L1084.8 175.1L1085.1 175.5L1085.4 175.9L1085.7 176.6L1085.9 177.5L1086.2 178L1086.5 179.1L1086.8 180.6L1087.2 181.4L1087.5 181.1L1087.8 181.2L1088.1 182.1L1088.5 183.4L1088.8 184.1L1089.2 185.4L1089.5 186.4L1089.9 186.7L1090.3 186.7L1090.6 187.4L1091 188.2L1091.4 188.9L1091.9 189.8L1092.3 190.7L1092.8 191L1093.2 191.4L1093.7 192.1L1094.3 192.9L1094.8 193.7L1095.4 194.4L1096 194.8L1096.7 194.9L1097.4 195.7L1098.1 196.7L1098.9 196.8L1099.7 196.7L1100.4 196.5L1101.2 195.8L1101.6 195L1101.9 194.6L1102.2 194.3L1102.4 193.4L1102.5 192.6L1102.6 191.6L1102.8 190.9L1102.9 190.3L1103 189.6L1103 188.8L1103.1 187.5L1103.2 186.3L1103.3 185.8L1103.3 185.9L1103.4 185.4L1103.5 184.1L1103.5 182.6L1103.6 181.8L1103.7 181.3L1103.7 180.5L1103.8 179.5L1103.9 178.8L1103.9 178.5L1104 177.3L1104 176.4L1104.1 175.3L1104.2 174.9L1104.2 174.2L1104.3 173.4L1104.4 172.5L1104.4 172.1L1104.5 171.4L1104.6 170.7L1104.7 169.6L1104.7 168.8L1104.8 167.9L1104.9 166.8L1104.9 165.9L1105 165.1L1105.1 164.7L1105.1 163.5L1105.2 162.7L1105.3 161.8L1105.3 160.9L1105.4 159.9L1105.4 159.1L1105.5 158.8L1105.6 158.1L1105.6 157.1L1105.7 156L1105.8 155.5L1105.8 155.1L1105.9 154.6L1105.9 153.7L1106 152.6L1106.1 151.6L1106.1 151.1L1106.2 150.6L1106.3 149.7L1106.3 148.1L1106.4 147.5L1106.5 147.4L1106.5 147L1106.6 145.8L1106.7 144.6L1106.8 143.5L1106.9 142.5L1107 141.8L1107.1 141.1L1107.2 140.1L1107.3 139.2L1107.5 138.8L1107.9 138.6L1108.1 139.3L1108.3 139.6L1108.4 140.3L1108.5 141.2L1108.6 142.1L1108.6 142.5L1108.7 143.4L1108.8 144.4L1108.9 145.7L1108.9 146.4L1109 147.4L1109.1 148.1L1109.1 148.6L1109.2 149.1L1109.3 150L1109.3 151.3L1109.4 152.1L1109.4 152.8L1109.5 153.6L1109.6 154.9L1109.6 156L1109.7 156.8L1109.7 157.4L1109.8 158.2L1109.9 159L1109.9 159.8L1110 160.4L1110.1 161L1110.1 162.2L1110.2 163.2L1110.3 163.7L1110.4 163.9L1110.5 164.7L1110.6 165.6L1110.7 166.2L1110.8 166.5L1110.9 167.2L1111 168.1L1111.1 169.2L1111.2 170.1L1111.3 171.5L1111.4 172.7L1111.6 173.6L1111.7 173.9L1111.9 174L1112 174.4L1112.3 175.4L1112.5 176L1112.8 176.8L1113.1 177.7L1113.6 178.9L1114.1 179.5L1114.7 180L1115.4 180.1L1116 180.4L1116.8 180.4L1117.4 180.9L1118.1 182L1118.7 183L1119.4 183.4L1120 183.4L1120.7 184L1121.3 184.4L1122 185.1L1122.6 185.4L1123.3 185.7L1123.9 186.2L1124.6 186.8L1125.2 187.4L1125.9 187.8L1126.6 188.2L1127.2 188.5L1127.8 189L1128.3 189.6L1128.8 190.3L1129.3 190.7L1129.8 191L1130.2 191.5L1130.6 192.3L1131.1 193.3L1131.5 194.4L1131.9 194.9L1132.3 195.4L1132.8 195.4L1133.2 196.1L1133.6 196.7L1134.1 197.4L1134.5 197.8L1135 198.6L1135.5 199.9L1135.9 200.9L1136.4 201.3L1136.9 202.4L1137.4 203.3L1137.9 203.7L1138.4 204.2L1138.9 205.1L1139.4 205.8L1140 206.2L1140.5 206.7L1141.1 207.4L1141.7 207.8L1142.3 208L1142.9 208.5L1143.6 209.2L1144.2 209.6L1144.8 209.6L1145.5 210.3L1146.1 211L1146.7 211.6L1147.4 212L1148.1 212.6L1148.7 212.7L1149.4 213L1150.1 213.8L1150.8 214.7L1151.4 215.3L1152.1 215.7L1152.8 215.9L1153.6 216.3L1154.3 216.6L1155 217L1155.8 217.5L1156.5 218L1157.3 218.2L1158 218.4L1158.8 218.2L1159.5 218.1L1160.3 218.4L1161.1 218.8L1161.8 218.8L1162.6 219.2L1163.4 219.6L1164.2 219.5L1164.9 219.4L1165.7 219.7L1166.5 219.8L1167.3 219.6L1168.1 219.5L1168.9 219.7L1169.7 219.9L1170.5 220.4L1171.3 221.1L1172.1 221.4L1172.9 221.4L1173.7 221.3L1174.5 221.4L1175.3 221.1L1176.1 220.9L1176.9 220.8L1177.7 220.8L1178.5 220.5L1179.3 220.3L1180.1 220.2L1180.9 220.1L1181.7 220.2L1182.5 220.4L1183.3 220.6L1184.1 220.6L1184.9 220.8L1185.7 220.7L1186.5 220.5L1187.3 220L1188.1 219.6L1188.9 219.2L1189.7 219.9L1190.5 220.3L1191.3 220.7L1192.1 220.9L1192.9 221.3L1193.7 221.5L1194.5 221.8L1195.2 222.2L1196 222.3L1196.8 222.2L1197.6 221.8L1198.4 221.3L1199.2 221.2L1200 221.1L1200.8 220.7L1201.6 221.4L1202.4 221.9L1203.2 222.1L1204 221.5L1204.8 221.7L1205.6 221.9L1206.4 222L1207.2 221.8L1208 221.7L1208.7 221.7L1209.5 222.3L1210.3 223.3L1211.1 224.1L1211.9 224.5L1212.6 224.4L1213.4 224.3L1214.2 223.8L1215 223.8L1215.7 223.6L1216.5 223.8L1217.3 224.5L1218.1 225.4L1218.8 225.8L1219.6 225.6L1220.4 225.2L1221.2 225L1222 225.2L1222.8 225.9L1223.6 226.8L1224.3 226.9L1225.1 226.5L1225.9 226.2L1226.7 226.5L1227.5 226.4L1228.3 226.5L1229 227L1229.8 227.5L1230.6 227.4L1231.4 227.3L1232.2 227.1L1233 227.6L1233.7 227.8L1234.5 228.1L1235.3 228L1236.1 228.3L1236.9 228.3L1237.7 228.1L1238.4 228.7L1239.2 229.4L1240 229.9L1240.8 230.1L1241.6 230.3L1242.4 230.3L1243.2 230L1244 230.3L1244.8 230.5L1245.6 230.6L1246.4 230.4L1247.2 230.4L1247.9 230.7L1248.7 230.5L1249.5 230.2L1250.3 230.1L1251.1 230.6L1251.9 230.3L1252.7 230.6L1253.5 230.8L1254.3 231.2L1255.1 231.1L1255.9 231L1256.7 230.9L1257.5 230.8L1258.3 231L1259 231.1L1259.8 231.7L1260.6 232L1261.4 232L1262.2 232.5L1263 232.8L1263.8 232.4L1264.6 231.6L1265.4 231.4L1266.2 231.6L1267 231.6L1267.8 231.4L1268.6 231.7L1269.4 232L1270.2 231.9L1271 231.3L1271.8 231.1L1272.6 231.4L1273.4 231.5L1274.2 231.6L1274.9 230.4L1275.7 229.9L1276.5 230L1277.3 231L1278.1 230.8L1278.8 229.8L1279.6 229.2L1280.4 229L1281.2 228.7L1281.9 228.2L1282.7 228.5L1283.5 229.1L1284.3 229.3L1285.1 228.6L1285.9 228.7L1286.7 228.4L1287.5 228.3L1288.3 227.5L1289 228.1L1289.8 228.7L1290.5 229.5L1291.2 229.7L1291.9 230L1292.6 230.1L1293.4 229.9L1294.2 230.2L1294.9 230.7L1295.7 231.2L1296.5 231L1297.3 231.1L1298.1 231.7L1298.9 232L1299.7 232L1300.5 231.6L1301.3 231.2L1302 231.1L1302.8 231.4L1303.6 231.8L1304.4 232L1305.2 232.2L1306 232.5L1306.8 232.6L1307.6 232.6L1308.4 232.7L1309.2 232.6L1310 232.6L1310.8 232.3L1311.6 232.5L1312.4 232.4L1313.2 232.8L1314 232.7L1314.8 233.2L1315.6 233.2L1316.4 232.9L1317.2 232.9L1318 233.1L1318.8 233.2L1319.6 233L1320.4 233.2L1321.2 233.4L1322 233.4L1322.8 232.7L1323.6 232.3L1324.4 232.3L1325.2 233L1326 233.2L1326.8 232.9L1327.6 232.7L1328.4 232.6L1329.2 232.4L1330 232.1L1330.8 231.8L1331.6 231.8L1332.4 232.1L1333.2 232.3L1334 231.7L1334.8 231.6L1335.6 232L1336.4 232.2L1337.2 231.7L1338 231.5L1338.8 231.3L1339.6 230.9L1340.4 230.6L1341.2 231L1342 231.4L1342.8 231.3L1343.6 231.5L1344.4 231.6L1345.2 231.5L1346 231.3L1346.8 231.5L1347.6 231.9L1348.4 232.2L1349.2 232.2L1350 231.2L1350.8 230.4L1351.6 230.3L1352.4 231.1L1353.2 231L1353.9 231.2L1354.7 231.4L1355.5 231.5L1356.3 231L1357.1 230.9L1357.9 230.7L1358.7 230.7L1359.5 230.7L1360.3 230.3L1361.1 229.9L1361.9 229.9L1362.7 230L1363.5 230.2L1364.3 230.1L1365.1 230.5L1365.9 230.5L1366.7 230.4L1367.5 229.9L1368.3 230L1369.1 230.2L1369.9 229.8L1370.7 229.4L1371.5 230L1372.3 230.1L1373.1 230L1373.9 229.7L1374.7 230.1L1375.5 229.9L1376.3 229.9L1377.1 230.2L1377.9 230.6L1378.6 230.5L1379.4 230.6L1380.2 230.5L1381 230.8L1381.8 230.7L1382.6 231.4L1383.4 231.5L1384.2 231.7L1385 231.6L1385.8 231.8L1386.6 231.9L1387.4 232.4L1388.1 232.3L1388.9 232.4L1389.7 232.3L1390.5 232.6L1391.3 232.3L1392.1 232.4L1392.9 232.2L1393.7 232L1394.5 232.2L1395.2 232.5L1396 233.1L1396.8 233.2L1397.6 233.6L1398.4 233.4L1399.2 233.7L1400 233.7L1400.8 233.7L1401.6 233.7L1402.4 234.1L1403.2 234.7L1403.9 235.1L1404.7 235.1L1405.5 234.9L1406.3 234.3L1407.1 234.4L1407.9 234.9L1408.7 235.3L1409.5 235.4L1410.3 235.7L1411.1 236L1411.9 236L1412.6 236L1413.4 235.7L1414.2 235.3L1415 235.3L1415.8 235.9L1416.6 236L1417.4 236L1418.2 235.8L1419 236L1419.8 236.3L1420.6 236.8L1421.4 237.1L1422.2 237.2L1423 237.1L1423.8 237L1424.6 237L1425.4 237.4L1426.2 237L1427 236.7L1427.8 236.6L1428.6 237.6L1429.4 237.5L1430.2 237.4L1431 237.5L1431.7 237.7L1432.5 237.1L1433.3 236.8L1434.1 236.8L1434.9 237.4L1435.7 237.4L1436.5 238L1437.3 238.2L1438.1 238.1L1438.9 237.6L1439.7 237.4L1440.5 237.6L1441.3 238.2L1442.1 238.6L1442.9 238.6L1443.7 238.2L1444.5 238.2L1445.3 238.6L1446.1 238.7L1446.9 238.6L1447.7 238.4L1448.5 238.2L1449.3 237.2L1450.1 236.6L1450.9 237.1L1451.6 237.2L1452.4 237L1453.1 236.7L1453.9 236.6L1454.6 236.4L1455.4 235.9L1456.2 235.9L1456.9 235.5L1457.7 235.7L1458.5 235.5L1459.3 235.4L1460.1 235.3L1460.8 235.9L1461.5 236L1462.2 236.1L1462.9 236.3L1463.6 236.8L1464.4 237.2L1465.2 237.6L1466 237.9L1466.8 237.8L1467.5 238.5L1468.3 238.6L1469.1 238.4L1469.9 237.6L1470.7 237.5L1471.5 237.8L1472.3 238.2L1473.1 238.6L1473.9 238.7L1474.7 238.7L1475.5 238.5L1476.3 238.5L1477.1 238.5L1477.9 238.7L1478.7 238.9L1479.5 238.7L1480.3 238.1L1481.1 237.6L1481.9 237.9L1482.7 237.9L1483.5 237.8L1484.3 238L1485.1 238.5L1485.9 238.3L1486.7 238.6L1487.5 239.3L1488.3 239.5L1489.1 239.3L1489.9 239.4L1490.7 239.2L1491.5 239.4L1492.3 239.2L1493.1 239.1L1493.9 238.3L1494.7 238.5L1495.5 238.4L1496.3 238.6L1497.1 238.9L1497.9 239.4L1498.7 239.3L1499.5 239.4L1500.3 239.3L1501.1 239.4L1501.9 239.2L1502.7 239.3L1503.5 239.2L1504.3 239.3L1505.1 239.3L1505.9 239.1L1506.7 238.9L1507.5 239.1L1508.3 239.3L1509.1 239.2L1509.9 238.9L1510.7 238.8L1511.5 239.1L1511.6 239.3" fill="none" stroke="#FF0000" stroke-width="2.3" stroke-linejoin="round"/>
<path d="M1076 266.1L1076.6 266.5L1077.1 267.1L1077.7 267.5L1078.2 267.7L1078.8 268.1L1079.4 268.8L1080.1 269.4L1080.7 269.8L1081.4 270.5L1082 271L1082.7 271.6L1083.4 271.9L1084 272.3L1084.7 272.4L1085.4 273L1086.1 273.7L1086.8 274.4L1087.5 275L1088.2 275.5L1088.9 275.7L1089.6 275.8L1090.3 276.2L1091 276.5L1091.7 276.7L1092.4 277.3L1093.1 277.6L1093.8 277.9L1094.6 278.1L1095.3 278.8L1096 278.9L1096.8 279.1L1097.5 279.3L1098.2 279.6L1099 279.9L1099.7 280.3L1100.5 280.6L1101.2 281L1101.9 281.3L1102.7 281.6L1103.4 281.8L1104.2 282.3L1104.9 282.6L1105.7 283L1106.4 283.1L1107.1 283.2L1107.9 283.3L1108.6 283.8L1109.4 284.3L1110.2 284.8L1110.9 285L1111.7 285.1L1112.4 285L1113.2 285L1114 285L1114.7 285.4L1115.5 285.8L1116.3 285.8L1117 286.2L1117.8 286.6L1118.6 286.7L1119.4 287.1L1120.2 287.6L1120.9 287.8L1121.7 287.7L1122.5 287.8L1123.3 288.2L1124.1 288.1L1124.9 288.1L1125.6 288L1126.4 288.3L1127.2 288.8L1128 288.8L1128.8 288.8L1129.6 288.8L1130.4 289.2L1131.2 289.6L1132 289.8L1132.8 290.1L1133.5 290.1L1134.3 290L1135.1 290L1135.9 290.1L1136.7 290.1L1137.5 290.1L1138.3 290.1L1139.1 290.1L1139.9 290.2L1140.7 290.2L1141.5 290.4L1142.3 290.5L1143.1 291L1143.9 291.4L1144.7 291.8L1145.5 291.5L1146.3 291.2L1147 291.3L1147.8 291.5L1148.6 291.7L1149.4 291.5L1150.2 291.6L1151 291.5L1151.8 291.6L1152.6 291.3L1153.4 291.2L1154.2 291.3L1155 291.6L1155.8 291.5L1156.6 291.6L1157.4 291.6L1158.2 291.8L1159 291.3L1159.8 291.2L1160.6 291.1L1161.4 291.1L1162.2 290.6L1163 290.5L1163.7 290.4L1164.5 290.1L1165.2 289.7L1165.9 289.5L1166.5 289.1L1167.2 288.5L1167.8 288L1168.3 287.5L1168.9 287.1L1169.4 286.1L1169.8 285.3L1170.2 284.7L1170.6 284.2L1171 283.5L1171.3 282.6L1171.6 282.1L1171.8 281.2L1172.1 280.8L1172.3 279.9L1172.5 278.9L1172.7 277.9L1172.9 277.2L1173.1 276.7L1173.2 276.1L1173.4 275.2L1173.5 274.3L1173.7 273.5L1173.8 272.8L1173.9 271.8L1174 270.7L1174.1 270.1L1174.2 269.6L1174.3 268.8L1174.4 267.7L1174.5 266.9L1174.6 266.1L1174.7 265.4L1174.8 264.4L1174.9 263.6L1175 262.7L1175.1 262.1L1175.2 261.7L1175.3 261.3L1175.4 260.5L1175.5 259.6L1175.6 258.7L1175.7 257.8L1175.8 256.7L1175.9 256L1176 255.3L1176.1 254.5L1176.2 253.5L1176.3 252.7L1176.4 251.9L1176.4 251.2L1176.5 250.6L1176.6 249.9L1176.7 248.7L1176.8 247.7L1176.8 246.9L1176.9 246.1L1177 245.5L1177 245.3L1177.1 244.7L1177.2 243.5L1177.2 242.4L1177.3 241.3L1177.3 240.5L1177.4 239.8L1177.4 239.5L1177.5 238.6L1177.5 237.3L1177.6 236.5L1177.6 236L1177.7 235.3L1177.7 234.4L1177.8 233.6L1177.8 232.6L1177.9 231.8L1177.9 231.1L1177.9 230.3L1178 229.2L1178 228.5L1178.1 227.8L1178.1 227.3L1178.1 226.4L1178.2 225.9L1178.2 225L1178.3 224.1L1178.3 222.8L1178.3 221.9L1178.4 221.3L1178.4 221.3L1178.4 220.6L1178.5 219.3L1178.5 218.2L1178.5 217.7L1178.6 216.9L1178.6 216L1178.7 215L1178.7 214.2L1178.7 213.5L1178.8 213.2L1178.8 212.5L1178.8 211.4L1178.9 210.5L1178.9 209.9L1178.9 209.2L1179 208.2L1179 207.3L1179.1 206.6L1179.1 205.8L1179.1 204.7L1179.2 203.8L1179.2 203.3L1179.3 202.8L1179.3 201.9L1179.3 201L1179.4 199.9L1179.4 199L1179.5 198.1L1179.5 197.3L1179.6 196.6L1179.6 196.1L1179.6 195.3L1179.7 194.4L1179.7 193.5L1179.8 193L1179.8 192.3L1179.8 191.5L1179.9 190.6L1179.9 189.8L1179.9 189L1180 188.3L1180 187.6L1180.1 187.1L1180.1 186.3L1180.1 185.5L1180.2 184.4L1180.2 183.3L1180.3 182.5L1180.3 181.7L1180.3 181.1L1180.4 180.3L1180.4 179.3L1180.5 178.3L1180.5 177.6L1180.6 177.1L1180.6 176.4L1180.7 175.5L1180.7 174.8L1180.8 173.9L1180.8 172.9L1180.9 171.8L1181 171.3L1181.1 170.7L1181.4 170.3L1181.6 170.6L1181.7 171.3L1181.7 172.4L1181.8 173.4L1181.9 174.1L1181.9 174.9L1182 175.6L1182 176.4L1182.1 177.2L1182.1 178.1L1182.2 178.7L1182.2 179.5L1182.3 180.4L1182.3 181.3L1182.4 182L1182.4 182.9L1182.4 183.6L1182.5 184.2L1182.5 185.1L1182.6 186.2L1182.6 187.3L1182.6 187.9L1182.7 188.6L1182.7 189.5L1182.8 190.3L1182.8 191L1182.8 191.9L1182.9 192.9L1182.9 193.6L1183 194.2L1183 194.8L1183.1 195.7L1183.1 196.6L1183.1 197.5L1183.2 198.2L1183.2 198.7L1183.3 199.5L1183.3 200.3L1183.4 201.1L1183.4 202L1183.5 203L1183.5 203.7L1183.6 204.8L1183.6 205.6L1183.6 206.2L1183.7 207L1183.7 207.8L1183.8 208.5L1183.8 208.9L1183.8 209.9L1183.9 210.9L1183.9 211.9L1184 212.6L1184 213.3L1184 213.9L1184.1 214.6L1184.1 215.4L1184.2 216.4L1184.2 217.5L1184.2 218.2L1184.3 218.8L1184.3 219.3L1184.4 220.4L1184.4 221.2L1184.4 222.1L1184.5 223L1184.5 224L1184.6 224.7L1184.6 225L1184.7 225.7L1184.7 226.2L1184.7 227.3L1184.8 228.2L1184.8 229.1L1184.9 230L1184.9 230.9L1185 231.7L1185 232.3L1185.1 232.9L1185.1 233.7L1185.2 234.9L1185.2 235.9L1185.3 236.6L1185.4 237.1L1185.4 238.1L1185.5 238.9L1185.6 239.7L1185.6 240.2L1185.7 240.8L1185.8 241.8L1185.9 242.9L1186 243.8L1186.2 244.4L1186.4 244.9L1186.6 245.6L1186.8 246.5L1187.3 247.4L1187.8 247.9L1188.2 248.5L1188.6 249.3L1189.1 249.9L1189.7 250.4L1190.4 250.6L1191 250.9L1191.6 251.5L1192.1 252.3L1192.6 253L1193.1 253.7L1193.6 254.5L1194 255.3L1194.4 256.1L1194.8 256.5L1195.2 256.9L1195.5 257.7L1195.8 258.7L1196.2 259.4L1196.5 259.9L1196.8 260.8L1197.1 261.7L1197.4 262.5L1197.7 263.1L1198.1 263.7L1198.4 264.3L1198.7 265.2L1199.1 265.7L1199.4 266.3L1199.8 266.9L1200.2 268L1200.6 269.1L1201 270.1L1201.5 270.7L1202 271L1202.5 271.5L1203.1 271.9L1203.8 272.4L1204.6 272.5L1205.3 272.1L1205.9 271.6L1206.4 271.4L1206.9 270.9L1207.3 270.4L1207.8 269.9L1208.2 269.1L1208.6 267.9L1208.9 266.7L1209.2 266.1L1209.6 265.4L1210 264.8L1210.5 264.3L1211.1 264.2L1211.8 264.5L1212.4 265L1212.8 265.5L1213.2 266.2L1213.6 267L1214 267.7L1214.3 268.4L1214.7 268.9L1215.1 269.7L1215.4 270.6L1215.7 271.6L1216 272L1216.3 272.6L1216.6 273.4L1216.9 273.9L1217.3 274.3L1217.6 275.2L1218 276.4L1218.3 277.3L1218.8 278L1219.2 278.6L1219.7 278.8L1220.2 279.1L1220.8 279.7L1221.4 280.6L1222 281.1L1222.7 281.4L1223.4 281.8L1224.1 282.2L1224.8 282.3L1225.5 282.5L1226.2 283.2L1226.9 283.8L1227.7 283.8L1228.4 284L1229.1 284.3L1229.9 285L1230.6 285.4L1231.4 285.8L1232.1 286.1L1232.9 286.4L1233.6 286.6L1234.4 287L1235.1 287.4L1235.9 287.6L1236.7 287.5L1237.5 287.7L1238.3 287.7L1239.1 287.7L1239.9 287.6L1240.7 287.5L1241.5 287.5L1242.3 287.4L1243.1 287.6L1243.9 287.5L1244.6 287.3L1245.4 286.8L1246.2 286.7L1247 286.7L1247.8 286.8L1248.5 286.7L1249.3 286.3L1250.1 285.8L1250.9 285.5L1251.7 285.3L1252.4 285L1253.2 284.9L1254 284.8L1254.7 284.9L1255.5 284.5L1256.3 284.3L1257 283.8L1257.8 283.7L1258.6 283.3L1259.3 283.2L1260.1 283L1260.9 282.9L1261.7 282.8L1262.4 282.8L1263.2 282.6L1264 282.4L1264.8 282.1L1265.5 281.9L1266.3 281.8L1267.1 281.4L1267.9 281L1268.6 280.3L1269.4 280.3L1270.2 280.3L1271 280.8L1271.8 280.9L1272.5 280.9L1273.3 280.5L1274.1 280.3L1274.9 279.9L1275.7 279.9L1276.5 280L1277.3 279.8L1278.1 279.6L1278.9 279.4L1279.7 279.2L1280.5 279.2L1281.3 279.5L1282.1 279.5L1282.9 279.4L1283.7 279.4L1284.5 279.5L1285.3 279.6L1286.1 279.7L1286.9 279.8L1287.7 279.5L1288.5 279.3L1289.3 279.3L1290.1 279.3L1290.9 279.4L1291.7 279.3L1292.5 279.3L1293.3 279.3L1294.1 279.3L1294.9 279.2L1295.7 278.9L1296.5 279L1297.3 279.4L1298.1 279.3L1298.9 279L1299.7 278.6L1300.5 278.9L1301.3 278.9L1302.1 278.5L1302.9 278.4L1303.7 278.4L1304.5 278.5L1305.3 278.2L1306.1 278.1L1306.9 278L1307.7 278.3L1308.5 278.6L1309.3 278.6L1310.1 278.5L1310.9 278.3L1311.7 278.4L1312.5 278.4L1313.3 278.6L1314 278.6L1314.8 278.6L1315.6 278.6L1316.4 278.8L1317.2 278.8L1318 279.1L1318.8 279.2L1319.6 279.4L1320.4 279.3L1321.2 279.6L1322 279.4L1322.8 279.5L1323.6 279.6L1324.4 279.7L1325.2 279.5L1326 280L1326.8 280.4L1327.6 280.2L1328.4 279.9L1329.2 280.1L1330 280.2L1330.8 280.2L1331.6 280.2L1332.3 280.7L1333.1 280.9L1333.9 281.1L1334.7 280.9L1335.5 280.8L1336.3 280.8L1337.1 281.2L1337.9 281.1L1338.7 281.1L1339.5 281.3L1340.3 281.5L1341.1 281.5L1341.9 281.6L1342.7 281.7L1343.5 281.7L1344.3 281.6L1345.1 281.7L1345.9 281.8L1346.6 281.9L1347.4 281.9L1348.2 282.1L1349 282.3L1349.8 282.5L1350.6 282.6L1351.4 283.1L1352.2 283.6L1353 283.4L1353.8 283.3L1354.6 283.4L1355.4 283.6L1356.1 283.5L1356.9 283.6L1357.7 283.9L1358.5 284.3L1359.3 284.3L1360.1 284.1L1360.9 284.1L1361.7 284.4L1362.5 284.9L1363.2 285L1364 285L1364.8 284.8L1365.6 285L1366.4 285.2L1367.2 285.5L1368 285.6L1368.8 285.4L1369.5 285.7L1370.3 286.1L1371.1 286.5L1371.9 286.4L1372.7 286.4L1373.5 286.5L1374.3 286.7L1375.1 286.7L1375.9 286.7L1376.6 287.1L1377.4 287.3L1378.2 287.5L1379 287.6L1379.8 287.8L1380.6 287.7L1381.4 287.7L1382.2 288.1L1383 288.3L1383.8 288.3L1384.5 288L1385.3 288.2L1386.1 288.6L1386.9 288.9L1387.7 288.9L1388.5 289.2L1389.3 289.2L1390.1 289.3L1390.9 289.2L1391.7 289.5L1392.5 289.7L1393.3 289.7L1394 289.7L1394.8 289.7L1395.6 289.9L1396.4 290L1397.2 290L1398 289.9L1398.8 290.1L1399.6 290.6L1400.4 290.7L1401.2 290.5L1402 290.7L1402.8 291.2L1403.6 291.5L1404.4 291.1L1405.2 290.9L1405.9 291L1406.7 291.2L1407.5 291.5L1408.3 291.7L1409.1 291.9L1409.9 291.6L1410.7 291.5L1411.5 291.4L1412.3 291.7L1413.1 291.9L1413.9 292L1414.7 292.1L1415.5 292.3L1416.3 292.6L1417.1 292.6L1417.9 292.5L1418.7 292.3L1419.5 292.6L1420.3 292.8L1421.1 292.8L1421.9 292.6L1422.7 292.8L1423.5 292.9L1424.3 292.9L1425.1 292.8L1425.9 293L1426.7 293.4L1427.5 293.6L1428.3 293.6L1429.1 293.5L1429.9 293.3L1430.7 293.4L1431.5 293.4L1432.3 293.4L1433.1 293.1L1433.9 293.2L1434.6 293.2L1435.4 293.3L1436.2 293.4L1437 293.6L1437.8 293.7L1438.6 293.6L1439.4 293.6L1440.2 293.9L1441 294L1441.8 294.1L1442.6 293.8L1443.4 293.8L1444.2 293.8L1445 294L1445.8 294L1446.6 294.1L1447.4 294.4L1448.2 294.5L1449 294.4L1449.8 294.2L1450.6 294.6L1451.4 295L1452.2 295.1L1453 294.8L1453.8 294.5L1454.6 294.4L1455.4 294.4L1456.2 294.5L1457 294.4L1457.8 294.3L1458.6 294.4L1459.4 294.6L1460.2 294.4L1461 294.3L1461.8 294.5L1462.6 294.8L1463.4 294.8L1464.2 294.4L1465 294.6L1465.8 294.5L1466.6 294.5L1467.4 294.3L1468.2 294.9L1469 295.1L1469.8 294.9L1470.6 294.6L1471.4 294.8L1472.2 295.2L1473 295.1L1473.8 294.7L1474.6 294.4L1475.4 294.7L1476.2 295.1L1477 295.3L1477.8 295.1L1478.6 294.8L1479.4 294.7L1480.2 295.1L1481 295.3L1481.8 295.3L1482.6 295L1483.4 295L1484.2 295.3L1485 295.8L1485.8 295.8L1486.6 295.8L1487.4 295.3L1488.2 295.2L1489 294.9L1489.8 295L1490.6 295L1491.4 295L1492.2 295.1L1493 295.2L1493.8 295.4L1494.6 295.5L1495.4 295.5L1496.2 295.6L1497 295.8L1497.8 295.7L1498.6 295.6L1499.4 295.5L1500.2 295.6L1501 295.6L1501.8 295.7L1502.6 295.9L1503.4 296.2L1504.2 296L1505 295.5L1505.8 295.3L1506.6 295.4L1507.4 295.8L1508.2 295.9L1509 295.8L1509.8 295.9L1510.6 295.9L1511.4 296L1511.6 295.9" fill="none" stroke="#FF0000" stroke-width="2.3" stroke-linejoin="round"/>
<path d="M1076 313.8L1076.6 314.3L1077.1 314.7L1077.7 315.3L1078.2 315.5L1078.8 315.9L1079.4 316.6L1080.1 317.4L1080.7 318.1L1081.4 318.3L1082.1 318.6L1082.8 319L1083.5 319.3L1084.2 319.4L1085 319.8L1085.7 320.5L1086.4 321L1087.1 321.2L1087.8 321.7L1088.6 322.4L1089.3 322.7L1090 322.9L1090.8 323.4L1091.5 323.9L1092.2 324.3L1092.9 324L1093.7 324.3L1094.4 324.6L1095.1 324.9L1095.9 325L1096.6 325.6L1097.4 326.4L1098.1 326.8L1098.9 326.9L1099.6 326.8L1100.3 326.9L1101.1 327.2L1101.8 327.6L1102.6 327.9L1103.3 328.2L1104.1 328.5L1104.9 329L1105.6 329.5L1106.4 330.1L1107.1 330.1L1107.9 329.8L1108.6 329.5L1109.4 329.7L1110.2 330.2L1110.9 330.5L1111.7 330.7L1112.5 330.8L1113.2 331.3L1114 331.7L1114.8 331.9L1115.5 332.1L1116.3 332.5L1117.1 332.9L1117.8 333.1L1118.6 333.1L1119.4 333.2L1120.1 333.2L1120.9 333.7L1121.7 334.1L1122.5 334.2L1123.3 334.3L1124 334.3L1124.8 334.6L1125.6 334.7L1126.4 334.9L1127.2 334.6L1128 334.6L1128.8 334.9L1129.6 335.1L1130.4 335.3L1131.1 335.2L1131.9 335.3L1132.7 335.4L1133.5 335.4L1134.3 335.5L1135.1 335.5L1135.9 335.4L1136.7 335.3L1137.5 335.6L1138.3 336.3L1139.1 336.4L1139.9 336.7L1140.7 336.9L1141.5 337.3L1142.3 337.3L1143.1 337.2L1143.9 337L1144.7 336.9L1145.5 337.1L1146.3 337.3L1147.1 337.2L1147.9 336.9L1148.7 337L1149.5 337.3L1150.2 337.4L1151 337.3L1151.8 337.5L1152.6 337.7L1153.4 337.8L1154.2 337.9L1155 337.7L1155.8 337.4L1156.6 337.4L1157.4 337.7L1158.2 337.9L1159 337.5L1159.8 337.1L1160.6 337L1161.4 337.4L1162.2 337.5L1163 337L1163.7 336.4L1164.4 335.7L1165.1 335.5L1165.7 334.9L1166.4 334.7L1167 334.3L1167.5 333.9L1168 332.8L1168.5 331.8L1168.9 331.2L1169.3 330.7L1169.7 330L1170 329.2L1170.3 328.8L1170.5 328.1L1170.8 327.4L1171 326.4L1171.2 325.6L1171.4 324.8L1171.6 324.2L1171.7 323.4L1171.9 322.7L1172 321.6L1172.2 320.9L1172.3 320.1L1172.4 319.7L1172.5 318.8L1172.7 318.1L1172.8 317.4L1172.9 316.5L1173 315.5L1173.1 314.5L1173.2 313.8L1173.2 312.8L1173.3 311.9L1173.4 311.1L1173.5 310.4L1173.6 309.6L1173.7 308.6L1173.8 308.1L1173.9 307.5L1173.9 307.2L1174 306.2L1174.1 305L1174.2 303.9L1174.3 303.1L1174.3 302.4L1174.4 301.6L1174.5 300.9L1174.6 300.1L1174.6 299.5L1174.7 299L1174.8 298.3L1174.8 297.3L1174.9 296.3L1175 295.3L1175 294.6L1175.1 293.5L1175.1 292.7L1175.2 292.1L1175.3 291.5L1175.3 290.7L1175.4 289.6L1175.4 288.8L1175.5 288.4L1175.6 287.6L1175.6 286.5L1175.7 285.6L1175.7 284.8L1175.8 284L1175.8 283.4L1175.9 282.9L1176 282L1176 280.9L1176.1 280L1176.1 279.2L1176.2 278.5L1176.2 278.1L1176.3 277.5L1176.4 276.6L1176.4 275.5L1176.5 274.6L1176.5 273.7L1176.6 272.8L1176.6 271.9L1176.7 271.2L1176.7 270.3L1176.8 269.6L1176.9 268.8L1176.9 267.9L1177 267L1177 266.5L1177.1 265.7L1177.1 265.1L1177.2 264.3L1177.2 263.6L1177.3 262.6L1177.3 261.7L1177.4 260.8L1177.4 260.2L1177.5 259.7L1177.5 259L1177.6 258.1L1177.6 257.2L1177.7 256.5L1177.7 255.6L1177.8 254.7L1177.8 253.9L1177.9 253L1177.9 252.3L1178 251.4L1178.1 250.8L1178.1 250.1L1178.2 249.6L1178.2 248.6L1178.3 247.5L1178.3 246.6L1178.4 245.7L1178.4 244.7L1178.5 244L1178.5 243.5L1178.6 242.6L1178.6 241.7L1178.7 241L1178.8 240.5L1178.8 239.5L1178.9 238.8L1179 237.9L1179 237.2L1179.1 236.6L1179.1 235.7L1179.2 234.7L1179.3 233.8L1179.3 233.3L1179.4 232.4L1179.4 231.5L1179.5 230.4L1179.6 229.7L1179.6 229.1L1179.7 228.5L1179.8 227.4L1179.9 226.5L1179.9 225.8L1180 225.2L1180.1 224.4L1180.3 223.7L1180.4 222.7L1180.8 222.5L1181 223.3L1181.1 224.6L1181.2 225.6L1181.3 226.1L1181.3 226.8L1181.4 228L1181.5 229L1181.6 229.9L1181.6 230.6L1181.7 231.3L1181.8 232L1181.8 232.7L1181.9 233.6L1181.9 234.5L1182 235.5L1182.1 236.1L1182.1 236.9L1182.2 237.4L1182.3 238.2L1182.3 238.6L1182.4 239.2L1182.5 240.1L1182.5 241.3L1182.6 242.3L1182.7 242.7L1182.7 243.7L1182.8 244.8L1182.8 245.7L1182.9 246.3L1183 247.1L1183 248.1L1183.1 249L1183.1 249.4L1183.2 249.9L1183.3 250.9L1183.3 252.1L1183.4 252.8L1183.4 253.5L1183.5 254.3L1183.5 255.2L1183.6 255.7L1183.7 256.2L1183.7 257.1L1183.8 258.1L1183.8 259.1L1183.9 260.1L1184 261L1184 261.6L1184.1 262.1L1184.1 262.8L1184.2 263.5L1184.3 264.2L1184.3 264.7L1184.4 265.7L1184.5 266.9L1184.5 268.1L1184.6 268.8L1184.7 269.5L1184.7 270.3L1184.8 271.2L1184.9 271.8L1184.9 272.6L1185 273.2L1185.1 274.1L1185.1 275.2L1185.2 276.3L1185.3 277.1L1185.3 277.6L1185.4 278.4L1185.5 279L1185.6 279.9L1185.7 280.5L1185.8 281L1185.8 281.8L1185.9 282.6L1186 283.3L1186.1 284.2L1186.2 285.2L1186.3 285.9L1186.4 286.4L1186.6 287.3L1186.7 288.2L1186.8 289.2L1186.9 290L1187 291.1L1187.2 291.9L1187.3 292.3L1187.5 292.7L1187.7 293.7L1188 294.7L1188.3 295.2L1188.7 296L1189.2 296.7L1189.8 297.4L1190.5 297.4L1191.2 297.8L1191.8 298.4L1192.3 299.4L1192.7 300.1L1193.1 300.5L1193.5 301L1193.8 301.7L1194.1 302.6L1194.4 303.3L1194.7 304L1195 304.7L1195.4 305.6L1195.7 306.3L1196 306.9L1196.3 307.7L1196.6 308.4L1196.9 309.3L1197.3 310L1197.6 310.5L1198 311L1198.4 312.1L1198.8 313.2L1199.1 314L1199.5 314.5L1199.9 315.1L1200.3 315.5L1200.8 316.2L1201.2 317.2L1201.7 318.1L1202.2 318.6L1202.8 319L1203.5 319.3L1204.3 319.2L1204.9 318.6L1205.5 318.1L1205.9 317.3L1206.4 316.4L1206.8 315.8L1207.2 315.3L1207.7 314.4L1208.2 313.6L1208.6 312.7L1209 312.5L1209.4 312.1L1209.8 311.8L1210.4 310.8L1211.1 310.3L1211.7 310.6L1212.2 311.4L1212.6 312.2L1212.9 312.9L1213.3 313.8L1213.6 314.7L1214 315.2L1214.3 315.5L1214.7 316L1215 316.9L1215.3 318L1215.6 319L1215.9 320.2L1216.2 320.9L1216.5 321.5L1216.9 322.3L1217.2 323L1217.5 323.5L1217.9 324.1L1218.3 324.8L1218.7 325.4L1219.1 325.8L1219.6 326.4L1220.1 327L1220.7 327.8L1221.3 328.3L1221.9 329.1L1222.6 329.7L1223.3 329.9L1224 330.2L1224.7 330.4L1225.4 331.1L1226.1 331.4L1226.8 331.8L1227.6 332L1228.3 332.2L1229 332.5L1229.8 332.8L1230.5 333.1L1231.3 333.4L1232 333.5L1232.8 333.8L1233.5 333.9L1234.3 334.3L1235.1 334.6L1235.8 335L1236.6 335.1L1237.4 335.5L1238.2 335.7L1239 335.8L1239.8 335.3L1240.6 335.5L1241.4 335.5L1242.2 335.7L1243 335.4L1243.8 335.3L1244.6 335.1L1245.4 335.2L1246.2 335.1L1247 334.8L1247.7 334.6L1248.5 334.4L1249.3 334.2L1250.1 334.1L1250.9 334L1251.7 333.9L1252.5 333.7L1253.3 333.7L1254 333.4L1254.8 333.4L1255.6 333.3L1256.4 333L1257.2 332.9L1257.9 332.9L1258.7 332.8L1259.5 332.4L1260.3 332L1261.1 331.8L1261.9 331.9L1262.7 332L1263.5 332.1L1264.3 332.1L1265.1 331.9L1265.8 331.6L1266.6 331.3L1267.4 331.5L1268.2 331.3L1269 331.1L1269.8 330.9L1270.6 331.1L1271.4 331.3L1272.2 331.5L1273 331.4L1273.8 330.9L1274.6 330.6L1275.4 330.5L1276.2 330.5L1277 330.4L1277.8 330.4L1278.6 330.3L1279.4 330.5L1280.2 330.8L1281 330.6L1281.8 330L1282.6 329.9L1283.4 330.1L1284.2 330.3L1285 330L1285.8 329.9L1286.6 329.8L1287.4 329.9L1288.2 329.7L1289 329.5L1289.8 329.4L1290.6 329.4L1291.4 329.4L1292.2 329.5L1293 329.5L1293.8 329.5L1294.6 329.4L1295.4 329.6L1296.2 329.5L1297 329.5L1297.8 329.3L1298.6 329L1299.4 328.9L1300.2 328.9L1301 329.3L1301.8 329.7L1302.6 329.5L1303.4 329.3L1304.2 329.3L1305 329.4L1305.8 329.3L1306.6 329.4L1307.4 329.4L1308.2 329.3L1309 329.2L1309.8 329.2L1310.6 329.2L1311.4 329.3L1312.2 329.4L1313 329.3L1313.8 329.4L1314.5 329.8L1315.3 330L1316.1 329.9L1316.9 329.9L1317.7 330.1L1318.5 330.3L1319.3 330.5L1320.1 330.4L1320.9 330.3L1321.7 330.1L1322.5 330.2L1323.3 330.5L1324.1 331L1324.9 330.8L1325.7 330.6L1326.5 330.5L1327.3 331L1328.1 331.1L1328.9 331.1L1329.7 331L1330.5 331.2L1331.3 331.3L1332.1 331.3L1332.9 331.3L1333.7 331.4L1334.5 331.4L1335.3 331.4L1336.1 331.4L1336.9 331.6L1337.7 331.7L1338.5 331.7L1339.3 331.7L1340.1 331.6L1340.8 331.9L1341.6 332L1342.4 332.1L1343.2 332.2L1344 332.1L1344.8 332.2L1345.6 332.2L1346.4 332.4L1347.2 332.4L1348 332.7L1348.8 332.9L1349.6 333.3L1350.4 333.3L1351.2 333.1L1352 332.8L1352.8 333L1353.6 333.4L1354.4 333.6L1355.2 333.5L1356 333.3L1356.8 333.4L1357.6 333.6L1358.4 333.5L1359.2 333.2L1360 333.1L1360.8 333.5L1361.6 334L1362.4 333.8L1363.2 333.6L1364 333.5L1364.7 334.1L1365.5 334.4L1366.3 334.5L1367.1 334.3L1367.9 334.4L1368.7 334.6L1369.5 334.6L1370.3 334.6L1371.1 334.7L1371.9 334.7L1372.7 335L1373.5 335.1L1374.3 335.2L1375.1 334.8L1375.9 335L1376.7 335.6L1377.5 335.8L1378.3 335.8L1379.1 335.8L1379.9 336L1380.7 335.8L1381.5 335.8L1382.3 336.1L1383.1 336.3L1383.8 336.1L1384.6 336.2L1385.4 336.6L1386.2 336.8L1387 336.4L1387.8 336.3L1388.6 336.5L1389.4 336.8L1390.2 337.1L1391 337.1L1391.8 337L1392.6 337.1L1393.4 337.4L1394.2 337.9L1395 337.9L1395.8 337.9L1396.5 337.8L1397.3 337.9L1398.1 338L1398.9 338.2L1399.7 338.3L1400.5 338.1L1401.3 338.3L1402.1 338.5L1402.9 338.7L1403.7 338.9L1404.5 339.1L1405.3 339.1L1406.1 339.4L1406.9 339.7L1407.7 339.5L1408.5 339.6L1409.3 339.9L1410 339.8L1410.8 339.5L1411.6 339.4L1412.4 339.5L1413.2 339.4L1414 339.6L1414.8 339.9L1415.6 340.1L1416.4 340.3L1417.2 340.3L1418 340.3L1418.8 340.2L1419.6 340.3L1420.4 340.3L1421.2 340.5L1422 340.7L1422.8 340.9L1423.6 340.8L1424.4 340.8L1425.2 340.5L1426 340.6L1426.8 340.6L1427.6 341L1428.4 341.3L1429.2 341.5L1430 341.6L1430.8 341.8L1431.6 341.9L1432.4 341.6L1433.2 341.2L1434 341.1L1434.8 341.2L1435.6 341.4L1436.4 341.4L1437.2 341.3L1437.9 341.6L1438.7 341.7L1439.5 341.7L1440.3 341.7L1441.1 341.7L1441.9 341.9L1442.7 342.1L1443.5 342.3L1444.3 342L1445.1 341.9L1445.9 341.7L1446.7 342L1447.5 342.3L1448.3 342.5L1449.1 342.1L1449.9 342.2L1450.7 342.7L1451.5 342.7L1452.3 342.4L1453.1 342.1L1453.9 342.3L1454.7 342.6L1455.5 343.1L1456.3 343.2L1457.1 343L1457.9 342.6L1458.7 342.8L1459.5 342.7L1460.3 342.8L1461.1 342.9L1461.9 343.1L1462.7 342.8L1463.5 343L1464.3 343.4L1465.1 343.6L1465.9 343.4L1466.7 343.5L1467.5 343.6L1468.3 343.4L1469.1 343L1469.9 343.1L1470.7 343.2L1471.5 343.3L1472.3 343.3L1473.1 343.1L1473.9 343L1474.7 343L1475.5 343.4L1476.3 343.6L1477.1 343.6L1477.9 343.6L1478.7 343.9L1479.5 344L1480.3 343.8L1481.1 343.8L1481.9 344.1L1482.7 344.1L1483.5 344L1484.3 344.1L1485.1 344.4L1485.9 344.3L1486.7 344.4L1487.5 344.4L1488.3 344.4L1489.1 344.4L1489.9 344.6L1490.7 344.6L1491.5 344.7L1492.3 344.6L1493.1 344.6L1493.9 344.3L1494.7 344.6L1495.5 345L1496.3 345L1497.1 345.1L1497.9 345.2L1498.7 345.4L1499.5 345.7L1500.3 345.8L1501.1 345.2L1501.9 344.6L1502.7 344.6L1503.5 345L1504.3 345.2L1505.1 345.2L1505.8 345L1506.6 345L1507.4 345.2L1508.2 345.1L1509 345.2L1509.8 345.4L1510.6 345.8L1511.4 345.7L1511.6 345.8" fill="none" stroke="#008C00" stroke-width="2.3" stroke-linejoin="round"/>
<path d="M1118.8 334.6L1119.4 335.3L1119.9 336L1120.5 336.6L1121.1 337L1121.6 337.5L1122.2 338.1L1122.8 338.7L1123.3 339.3L1123.9 339.7L1124.5 340.1L1125 340.6L1125.6 341.4L1126.2 342L1126.7 342.7L1127.3 343.1L1127.8 343.9L1128.4 344.6L1128.9 345.1L1129.5 345.5L1130 345.9L1130.6 346.5L1131.1 347.1L1131.7 347.9L1132.3 348.7L1132.8 349.2L1133.4 349.6L1134 350L1134.6 350.6L1135.2 351.1L1135.8 351.4L1136.4 352L1137.1 352.7L1137.7 353.3L1138.3 353.7L1139 354.3L1139.6 354.6L1140.3 355.1L1140.9 355.5L1141.6 356.1L1142.3 356.5L1142.9 356.9L1143.6 357.2L1144.3 357.6L1145 357.9L1145.7 358.5L1146.4 359L1147.1 359.3L1147.8 359.6L1148.5 360L1149.2 360.4L1149.9 360.5L1150.7 360.8L1151.4 361.2L1152.1 361.7L1152.9 361.8L1153.6 361.9L1154.4 362.3L1155.1 362.7L1155.9 363.1L1156.6 363.3L1157.4 363.5L1158.2 363.8L1158.9 364L1159.7 364.2L1160.4 364.5L1161.2 364.7L1162 365L1162.8 365.2L1163.6 365.2L1164.4 365.2L1165.1 365L1165.9 364.7L1166.6 364.3L1167.2 363.9L1167.7 363.2L1168.2 362.5L1168.7 361.9L1169.1 361.4L1169.6 360.6L1170 359.7L1170.4 359L1170.7 358.4L1171 357.7L1171.3 357L1171.5 356.3L1171.7 355.5L1171.9 354.6L1172.1 353.7L1172.2 352.9L1172.4 352.2L1172.5 351.5L1172.7 350.8L1172.8 350L1172.9 349.1L1173.1 348.1L1173.2 347.2L1173.3 346.6L1173.4 345.9L1173.5 345.1L1173.7 344.3L1173.8 343.7L1173.9 343L1174 342L1174.1 341.1L1174.2 340.4L1174.3 339.7L1174.4 339L1174.5 338.1L1174.6 337.4L1174.7 336.5L1174.8 335.7L1174.9 334.9L1175 334.2L1175.1 333.4L1175.2 332.5L1175.3 331.7L1175.4 330.8L1175.5 330.1L1175.6 329.3L1175.7 328.5L1175.8 327.6L1175.8 326.8L1175.9 326L1176 325.3L1176.1 324.5L1176.2 323.7L1176.2 322.9L1176.3 322L1176.4 321.2L1176.5 320.5L1176.5 319.7L1176.6 318.8L1176.7 318.1L1176.8 317.3L1176.8 316.6L1176.9 315.8L1177 315.2L1177.1 314.4L1177.1 313.6L1177.2 312.6L1177.3 311.8L1177.4 311.1L1177.5 310.4L1177.5 309.6L1177.6 308.7L1177.7 307.8L1177.8 307L1177.8 306.3L1177.9 305.5L1178 304.7L1178.1 303.8L1178.1 303.1L1178.2 302.3L1178.3 301.6L1178.4 300.8L1178.4 300L1178.5 299.1L1178.6 298.2L1178.7 297.4L1178.7 296.6L1178.8 295.8L1178.9 295L1179 294.2L1179.1 293.6L1179.2 292.8L1179.3 292L1179.4 291.2L1179.6 290.4L1179.7 289.5L1179.9 288.7L1180 287.9L1180.2 287.3L1180.5 286.5L1180.9 285.8L1181.5 286L1181.8 286.8L1182.1 287.6L1182.3 288.3L1182.5 289.1L1182.6 289.8L1182.8 290.6L1182.9 291.3L1183 292.1L1183.1 293L1183.2 293.8L1183.3 294.6L1183.4 295.4L1183.5 296.1L1183.6 296.8L1183.7 297.7L1183.7 298.6L1183.8 299.2L1183.9 299.9L1184 300.7L1184 301.7L1184.1 302.6L1184.2 303.4L1184.3 304L1184.4 304.8L1184.4 305.6L1184.5 306.4L1184.6 307.1L1184.7 307.9L1184.8 308.8L1184.9 309.6L1185 310.4L1185 311.1L1185.1 311.9L1185.2 312.7L1185.3 313.5L1185.4 314.4L1185.5 315.1L1185.6 316L1185.7 316.8L1185.7 317.6L1185.8 318.2L1185.9 319L1186 320L1186.1 320.8L1186.2 321.5L1186.3 322.2L1186.4 323.1L1186.4 324L1186.5 324.8L1186.6 325.6L1186.7 326.4L1186.8 327.3L1186.9 328.1L1187.1 328.8L1187.2 329.4L1187.3 330.2L1187.4 331L1187.6 331.7L1187.7 332.5L1187.9 333.1L1188.1 333.9L1188.3 334.8L1188.5 335.8L1188.8 336.6L1189.1 337.2L1189.5 337.9L1190 338.6L1190.5 339.2L1191.1 339.7L1191.8 340.3L1192.3 340.8L1192.9 341.4L1193.4 341.8L1193.8 342.5L1194.2 343.2L1194.6 344.1L1195 344.8L1195.3 345.6L1195.7 346.2L1196.1 347.1L1196.5 347.7L1196.8 348.3L1197.2 349L1197.6 349.8L1197.9 350.4L1198.3 351L1198.7 351.7L1199.1 352.3L1199.5 353L1199.9 353.7L1200.4 354.5L1200.9 355.1L1201.4 355.8L1201.9 356.6L1202.5 357.1L1203.2 357.4L1203.9 357.6L1204.7 357.5L1205.5 357.1L1206.2 356.7L1206.8 356.3L1207.4 355.9L1208.1 355.4L1208.7 354.8L1209.4 354.3L1210.1 354L1210.8 353.8L1211.6 353.9L1212.3 354.3L1212.8 354.9L1213.3 355.5L1213.8 356.2L1214.2 356.9L1214.6 357.6L1215.1 358.2L1215.5 358.8L1216 359.5L1216.4 360.3L1216.8 361L1217.2 361.6L1217.6 362.4L1218 363.2L1218.4 363.9L1218.8 364.6L1219.2 365.2L1219.7 365.8L1220.1 366.4L1220.6 367.2L1221.2 367.9L1221.7 368.5L1222.3 368.9L1222.9 369.3L1223.6 369.9L1224.2 370.5L1224.9 370.9L1225.5 371.3L1226.2 371.8L1226.9 372.2L1227.6 372.5L1228.3 372.9L1229 373.1L1229.7 373.6L1230.4 374L1231.2 374.3L1231.9 374.6L1232.6 374.9L1233.4 375.1L1234.1 375.3L1234.9 375.5L1235.7 375.7L1236.5 375.9L1237.2 376.1L1238 376.2L1238.8 376.3L1239.6 376.4L1240.4 376.6L1241.2 376.7L1242 376.9L1242.8 377L1243.6 377L1244.4 377.1L1245.2 377.1L1246 377.2L1246.8 377.3L1247.6 377.4L1248.4 377.4L1249.2 377.4L1250 377.6L1250.7 377.7L1251.5 377.8L1252.3 377.7L1253.1 377.8L1253.9 377.9L1254.7 377.7L1255.5 377.6L1256.3 377.7L1257.1 377.8L1257.9 377.8L1258.7 377.6L1259.5 377.6L1260.3 377.5L1261.1 377.5L1261.9 377.4L1262.7 377.4L1263.5 377.4L1264.3 377.3L1265.1 377.2L1265.9 377L1266.7 377L1267.5 377L1268.3 377L1269.1 377L1269.9 377.1L1270.7 377.1L1271.5 377L1272.3 377L1273.1 376.9L1273.9 376.9L1274.7 376.8L1275.5 376.8L1276.3 376.7L1277.1 376.6L1277.9 376.6L1278.7 376.6L1279.5 376.6L1280.3 376.6L1281.1 376.8L1281.9 376.7L1282.7 376.6L1283.5 376.4L1284.3 376.3L1285.1 376.3L1285.9 376.4L1286.7 376.4L1287.5 376.3L1288.3 376.3L1289.1 376.2L1289.9 376.3L1290.7 376.3L1291.5 376.4L1292.3 376.4L1293.1 376.5L1293.9 376.3L1294.7 376.2L1295.5 376.2L1296.3 376.2L1297.1 376.3L1297.9 376.4L1298.7 376.5L1299.5 376.4L1300.3 376.5L1301.1 376.5L1301.9 376.5L1302.7 376.5L1303.5 376.7L1304.3 376.8L1305.1 376.8L1305.9 376.9L1306.7 376.9L1307.5 376.8L1308.3 376.9L1309.1 376.9L1309.9 377L1310.7 377.2L1311.5 377.4L1312.3 377.5L1313.1 377.6L1313.9 377.7L1314.6 377.9L1315.4 378.1L1316.2 378.2L1317 378.3L1317.8 378.4L1318.6 378.4L1319.4 378.5L1320.2 378.6L1321 378.8L1321.8 378.8L1322.6 378.9L1323.4 379L1324.1 379.2L1324.9 379.3L1325.7 379.3L1326.5 379.5L1327.3 379.7L1328.1 380L1328.9 380.1L1329.7 380.1L1330.5 380.1L1331.3 380.3L1332.1 380.5L1332.8 380.5L1333.6 380.5L1334.4 380.5L1335.2 380.7L1336 380.9L1336.8 381.1L1337.6 381.2L1338.4 381.3L1339.2 381.4L1340 381.4L1340.8 381.6L1341.6 381.7L1342.4 381.8L1343.2 381.8L1343.9 381.9L1344.7 382L1345.5 382.1L1346.3 382.1L1347.1 382.2L1347.9 382.4L1348.7 382.6L1349.5 382.8L1350.3 383L1351.1 383.1L1351.9 383.1L1352.7 383.1L1353.5 383.2L1354.3 383.5L1355.1 383.5L1355.9 383.4L1356.6 383.4L1357.4 383.6L1358.2 383.7L1359 383.7L1359.8 383.8L1360.6 383.8L1361.4 383.8L1362.2 384L1363 384.2L1363.8 384.4L1364.6 384.5L1365.4 384.5L1366.2 384.5L1367 384.4L1367.8 384.4L1368.6 384.6L1369.4 384.8L1370.2 385L1371 385L1371.8 384.9L1372.6 384.9L1373.4 385L1374.2 385.1L1375 385L1375.8 385L1376.6 385.1L1377.4 385.2L1378.2 385.2L1379 385.2L1379.8 385.2L1380.6 385.1L1381.4 385.2L1382.2 385.3L1383 385.4L1383.8 385.3L1384.6 385.4L1385.4 385.5L1386.2 385.6L1387 385.5L1387.8 385.6L1388.6 385.6L1389.4 385.6L1390.2 385.7L1391 385.8L1391.8 385.8L1392.6 385.8L1393.4 385.8L1394.2 386L1395 386.1L1395.8 386.1L1396.6 386L1397.4 386.1L1398.2 386.2L1399 386.3L1399.8 386.4L1400.5 386.4L1401.3 386.4L1402.1 386.4L1402.9 386.4L1403.7 386.4L1404.5 386.5L1405.3 386.6L1406.1 386.7L1406.9 386.9L1407.7 386.9L1408.5 387L1409.3 386.9L1410.1 386.9L1410.9 387L1411.7 387.2L1412.5 387.1L1413.3 387.2L1414.1 387.3L1414.9 387.6L1415.7 387.6L1416.5 387.6L1417.3 387.6L1418.1 387.8L1418.9 387.9L1419.7 387.9L1420.5 387.9L1421.3 387.9L1422.1 387.9L1422.9 387.9L1423.7 388L1424.5 388L1425.3 388L1426.1 388.1L1426.9 388.1L1427.7 388.2L1428.5 388.1L1429.3 388.2L1430.1 388.3L1430.9 388.5L1431.7 388.5L1432.5 388.5L1433.3 388.5L1434.1 388.7L1434.9 388.7L1435.7 388.8L1436.5 388.9L1437.3 388.9L1438.1 388.8L1438.9 388.7L1439.7 388.9L1440.5 388.9L1441.3 388.9L1442.1 388.9L1442.9 389.1L1443.7 389.1L1444.5 389.1L1445.3 389.1L1446.1 389.3L1446.9 389.4L1447.7 389.3L1448.5 389.1L1449.3 389L1450.1 389.1L1450.9 389.1L1451.7 389.2L1452.5 389.2L1453.3 389.1L1454.1 389L1454.9 389.1L1455.7 389.3L1456.5 389.3L1457.3 389.2L1458.1 389.1L1458.9 389.1L1459.7 389.1L1460.5 389.1L1461.3 389.1L1462.1 389.2L1462.9 389L1463.7 389L1464.5 389.1L1465.3 389.1L1466.1 389.1L1466.9 389.1L1467.7 389.2L1468.5 389L1469.3 389L1470.1 389.1L1470.9 389.2L1471.7 389.1L1472.5 389.1L1472.6 389" fill="none" stroke="#000000" stroke-width="2.3" stroke-linejoin="round"/>
<rect x="1076" y="46.6" width="435.6" height="344.9" fill="none" stroke="#262626" stroke-width="1.6"/>
<path d="M1115.6 391.5v-6M1115.6 46.6v6M1155.2 391.5v-12.2M1155.2 46.6v12.2M1194.8 391.5v-6M1194.8 46.6v6M1234.4 391.5v-12.2M1234.4 46.6v12.2M1274 391.5v-6M1274 46.6v6M1313.6 391.5v-12.2M1313.6 46.6v12.2M1353.2 391.5v-6M1353.2 46.6v6M1392.8 391.5v-12.2M1392.8 46.6v12.2M1432.4 391.5v-6M1432.4 46.6v6M1472 391.5v-12.2M1472 46.6v12.2" stroke="#262626" stroke-width="1.5" fill="none"/>
<text x="1063.5" y="417.9" text-anchor="middle" font-size="23.6" fill="#262626">400</text>
<text x="1155.2" y="417.9" text-anchor="middle" font-size="23.6" fill="#262626">500</text>
<text x="1234.4" y="417.9" text-anchor="middle" font-size="23.6" fill="#262626">600</text>
<text x="1313.6" y="417.9" text-anchor="middle" font-size="23.6" fill="#262626">700</text>
<text x="1392.8" y="417.9" text-anchor="middle" font-size="23.6" fill="#262626">800</text>
<text x="1472" y="417.9" text-anchor="middle" font-size="23.6" fill="#262626">900</text>
<text x="1293.8" y="452.2" text-anchor="middle" font-size="27.6" fill="#262626">Wavelength (nm)</text>
<text x="1064.6" y="32.5" font-size="42" font-weight="bold" fill="#000">(e)</text>
<text x="1486.3" y="148.8" text-anchor="end" font-size="26.3" fill="#4DBEEE">cBN</text>
<text x="1486.3" y="272.2" text-anchor="end" font-size="26.3" fill="#FF0000">hBN (2DS)</text>
<text x="1494.2" y="324.2" text-anchor="end" font-size="26.3" fill="#008C00">hBN (HQG)</text>
<text x="1485.4" y="369.1" text-anchor="end" font-size="26.3" fill="#262626">powder hBN (2DS)</text>
<path d="M1697.4 210.2A36.6 36.6 0 0 1 1770.6 210.2M1660.8 210.2A73.2 73.2 0 0 1 1807.2 210.2M1624.3 210.2A109.7 109.7 0 0 1 1843.7 210.2M1587.7 210.2A146.3 146.3 0 0 1 1880.3 210.2M1734 210.2L1866.5 133.7M1734 210.2L1810.5 77.7M1734 210.2L1734 57.2M1734 210.2L1657.5 77.7M1734 210.2L1601.5 133.7M1581 210.2H1887.5" stroke="#9a9a9a" stroke-width="1.4" fill="none"/>
<path d="M1734 210.2L1735.2 210.1L1736.4 210L1737.6 209.9L1738.8 209.9L1740 209.8L1741.2 209.7L1742.4 209.6L1743.6 209.5L1744.8 209.4L1746 209.3L1747.2 209.3L1748.4 209.2L1749.6 209.1L1750.8 209L1752 208.9L1753.1 208.8L1754.3 208.7L1755.5 208.6L1756.7 208.4L1757.9 208.3L1759.1 208.2L1760.3 208.1L1761.5 207.9L1762.7 207.7L1763.9 207.6L1765.1 207.4L1766.3 207.2L1767.4 207L1768.6 206.8L1769.8 206.7L1771 206.6L1772.2 206.3L1773.4 206.1L1774.5 205.9L1775.7 205.7L1776.9 205.3L1778 204.8L1779.2 204.5L1780.4 204.4L1781.5 204.1L1782.7 203.8L1783.8 203.4L1784.9 202.9L1786 202.3L1787.1 201.9L1788.2 201.4L1789.4 201L1790.5 200.6L1791.6 200.3L1792.7 199.8L1793.8 199.2L1795 198.9L1796.1 198.4L1797.1 197.7L1798.2 197.3L1799.3 196.8L1800.3 196.2L1801.3 195.6L1802.4 195L1803.4 194.3L1804.3 193.6L1805.3 192.8L1806.3 192.1L1807.2 191.4L1808.1 190.5L1808.8 189.6L1809.6 188.7L1810.4 187.8L1811.2 186.9L1812 186L1812.7 185L1813.3 184L1813.9 183L1814.6 181.9L1815.2 180.9L1815.7 179.8L1816 178.6L1816.4 177.5L1816.8 176.4L1817.2 175.3L1817.6 174.1L1817.9 173L1818.1 171.8L1818.5 170.6L1819.2 169.6L1819.6 168.5L1819.8 167.3L1820.1 166.1L1820.4 164.9L1820.6 163.8L1820.7 162.6L1820.9 161.4L1821 160.2L1821 159L1821.2 157.8L1821.3 156.6L1821.3 155.4L1821.5 154.2L1821.7 153L1821.7 151.8L1821.7 150.6L1821.6 149.4L1821.5 148.2L1821.5 147L1821.7 145.8L1821.9 144.6L1821.9 143.4L1821.5 142.2L1821.4 141L1821.4 139.8L1821.3 138.6L1821.1 137.4L1821.1 136.2L1821.2 135L1821.1 133.8L1820.6 132.7L1820.3 131.5L1820.3 130.3L1820.4 129.1L1820.2 127.9L1819.9 126.7L1819.6 125.6L1819.5 124.4L1819.3 123.2L1818.9 122L1818.6 120.9L1818.3 119.7L1817.9 118.6L1817.4 117.5L1817 116.3L1816.7 115.2L1816.4 114L1815.9 112.9L1815.3 111.9L1814.9 110.8L1814.3 109.7L1813.5 108.8L1813 107.7L1812.4 106.6L1811.6 105.8L1810.8 104.9L1810 103.9L1809.2 103.1L1808.3 102.3L1807.5 101.4L1806.8 100.4L1806.1 99.4L1805.3 98.5L1804.5 97.7L1803.6 96.8L1802.8 95.9L1801.8 95.2L1800.9 94.5L1800.1 93.5L1799.5 92.4L1798.6 91.6L1797.5 91L1796.5 90.4L1795.5 89.7L1794.4 89L1793.5 88.4L1792.3 87.9L1791.3 87.3L1790.3 86.7L1789.1 86.4L1788 85.9L1786.9 85.5L1785.8 85L1784.7 84.4L1783.6 84L1782.4 83.6L1781.3 83.3L1780.1 83.1L1778.9 82.9L1777.8 82.9L1776.6 82.9L1775.4 83L1774.2 83.2L1773 83.4L1771.9 83.7L1770.7 83.9L1769.5 83.9L1768.3 84.4L1767.2 84.8L1766 85L1764.7 84.7L1763.7 83.9L1762.9 83L1762.1 82.1L1761.4 81.1L1760.7 80.1L1760 79.2L1759.1 78.3L1758.3 77.4L1757.5 76.6L1756.6 75.8L1755.6 75L1754.6 74.4L1753.4 74.5L1752.3 74.8L1751.1 75.2L1750 75.6L1748.9 76.1L1747.8 76.6L1746.8 77.2L1745.9 78L1745.3 79L1744.9 80.2L1744.7 81.3L1744.5 82.5L1744.4 83.7L1744.2 84.9L1744.1 86.1L1743.9 87.3L1743.8 88.5L1743.7 89.7L1743.5 90.9L1743.4 92.1L1743.3 93.3L1743.2 94.5L1743 95.7L1742.9 96.8L1742.8 98L1742.6 99.2L1742.5 100.4L1742.4 101.6L1742.2 102.8L1742.1 104L1741.9 105.2L1741.7 106.4L1741.5 107.6L1741.3 108.7L1741.1 109.9L1740.9 111.1L1740.7 112.3L1740.5 113.5L1740.3 114.6L1740.1 115.8L1740 117L1739.8 118.2L1739.7 119.4L1739.6 120.6L1739.4 121.8L1739.3 123L1739.2 124.2L1739.1 125.4L1739 126.6L1738.9 127.8L1738.8 129L1738.8 130.2L1738.7 131.4L1738.6 132.6L1738.5 133.8L1738.4 135L1738.3 136.2L1738.2 137.3L1738.2 138.5L1738.1 139.7L1738 140.9L1737.9 142.1L1737.8 143.3L1737.8 144.5L1737.7 145.7L1737.6 146.9L1737.5 148.1L1737.4 149.3L1737.4 150.5L1737.3 151.7L1737.2 152.9L1737.1 154.1L1737 155.3L1737 156.5L1736.9 157.7L1736.8 158.9L1736.7 160.1L1736.6 161.3L1736.6 162.5L1736.5 163.7L1736.4 164.9L1736.3 166.1L1736.3 167.3L1736.2 168.5L1736.1 169.7L1736 170.9L1736 172.1L1735.9 173.3L1735.8 174.5L1735.8 175.7L1735.7 176.9L1735.6 178.1L1735.5 179.3L1735.5 180.5L1735.4 181.7L1735.3 182.9L1735.3 184.1L1735.2 185.3L1735.2 186.5L1735.1 187.6L1735 188.8L1735 190L1734.9 191.2L1734.9 192.4L1734.8 193.6L1734.7 194.8L1734.7 196L1734.6 197.2L1734.6 198.4L1734.5 199.6L1734.4 200.8L1734.4 202L1734.3 203.2L1734.3 204.4L1734.2 205.6L1734.2 206.8L1734.1 208L1734 209.2L1734 210.2" fill="none" stroke="#0072BD" stroke-width="2.7" stroke-dasharray="7.6 8.4" stroke-linecap="round" stroke-linejoin="round"/>
<path d="M1734 210.2L1733.9 209L1733.9 207.8L1733.8 206.6L1733.7 205.4L1733.7 204.2L1733.6 203L1733.5 201.8L1733.5 200.6L1733.4 199.4L1733.3 198.2L1733.3 197L1733.2 195.8L1733.1 194.6L1733.1 193.4L1733 192.2L1732.9 191L1732.9 189.8L1732.8 188.6L1732.7 187.4L1732.7 186.2L1732.6 185L1732.5 183.8L1732.5 182.6L1732.4 181.4L1732.3 180.2L1732.2 179L1732.2 177.9L1732.1 176.7L1732 175.5L1732 174.3L1731.9 173.1L1731.8 171.9L1731.7 170.7L1731.7 169.5L1731.6 168.3L1731.5 167.1L1731.4 165.9L1731.4 164.7L1731.3 163.5L1731.2 162.3L1731.1 161.1L1731.1 159.9L1731 158.7L1730.9 157.5L1730.8 156.3L1730.7 155.1L1730.7 153.9L1730.6 152.7L1730.5 151.5L1730.4 150.3L1730.3 149.1L1730.3 147.9L1730.2 146.7L1730.1 145.5L1730 144.3L1729.9 143.1L1729.8 141.9L1729.8 140.7L1729.7 139.5L1729.6 138.3L1729.5 137.1L1729.4 135.9L1729.3 134.7L1729.3 133.5L1729.2 132.4L1729.1 131.2L1729 130L1728.9 128.8L1728.8 127.6L1728.7 126.4L1728.6 125.2L1728.6 124L1728.5 122.8L1728.4 121.6L1728.3 120.4L1728.2 119.2L1728.1 118L1728 116.8L1727.9 115.6L1727.8 114.4L1727.7 113.2L1727.6 112L1727.5 110.8L1727.4 109.6L1727.2 108.4L1727.1 107.2L1726.9 106L1726.8 104.9L1726.6 103.7L1726.4 102.5L1726.2 101.3L1725.9 100.1L1725.6 99L1725.4 97.8L1725.2 96.6L1725 95.4L1724.8 94.2L1724.6 93.1L1724.5 91.9L1724.3 90.7L1724.2 89.5L1724 88.3L1723.9 87.1L1723.7 85.9L1723.5 84.7L1723.4 83.5L1723.2 82.4L1723 81.2L1722.7 80L1722.5 78.8L1722.2 77.7L1721.8 76.5L1721.5 75.4L1721 74.2L1720.6 73.1L1720.1 72L1719.6 71L1719 69.9L1718.3 68.9L1717.6 67.9L1716.8 67L1716 66.2L1715 65.6L1714 66.1L1713.6 67.2L1713.4 68.4L1713.2 69.6L1713 70.8L1712.8 71.9L1712.5 73.1L1712.1 74.2L1711.7 75.4L1711.4 76.5L1710.8 77.6L1710.1 78.6L1709.1 79.2L1707.9 79.2L1706.7 79L1705.5 78.8L1704.3 78.6L1703.2 78.3L1702 78.1L1700.8 78.2L1699.6 78.2L1698.4 78.5L1697.4 79.1L1696.4 79.8L1695.4 80.5L1694.2 80.7L1693 80.2L1691.8 79.9L1690.7 80L1689.5 80.3L1688.4 80.8L1687.3 81.3L1686.2 81.9L1685.2 82.5L1684.2 83.1L1683.3 84L1682.7 85.1L1682.1 86.2L1681.6 87.2L1680.8 88.2L1679.9 89L1679.3 90L1678.4 90.8L1677.6 91.6L1676.8 92.6L1675.9 93.4L1674.9 94L1673.9 94.8L1673 95.5L1671.9 96.1L1670.9 96.7L1670 97.5L1669.2 98.5L1668.5 99.4L1667.7 100.3L1666.7 101.1L1665.9 101.9L1665.1 102.9L1664.3 103.7L1663.4 104.5L1662.6 105.4L1661.7 106.3L1660.8 107.1L1659.8 107.8L1658.8 108.4L1657.8 109.1L1656.9 109.9L1656.1 110.7L1655.1 111.4L1654.1 112.1L1653.3 113L1652.3 113.7L1651.4 114.5L1650.5 115.3L1649.6 116.1L1648.7 116.9L1647.9 117.7L1647.1 118.6L1646.3 119.5L1645.7 120.5L1645 121.5L1644.8 122.7L1644.9 123.9L1644.6 125.1L1644.1 126.2L1643.9 127.4L1643.8 128.6L1643.6 129.8L1643.5 131L1643.3 132.2L1643.3 133.4L1643.4 134.6L1643.6 135.8L1643.8 137L1643.9 138.2L1643.9 139.4L1643.7 140.6L1643.6 141.8L1644 143L1644.4 144.1L1644.4 145.3L1644.4 146.6L1644.4 147.8L1644.4 149L1644.7 150.1L1645 151.3L1645 152.5L1645.1 153.7L1645.2 154.9L1645.3 156.1L1645.6 157.3L1646 158.4L1646.2 159.6L1646.2 160.8L1646.2 162.1L1646.4 163.2L1646.8 164.4L1647.1 165.6L1647.2 166.7L1647.5 167.9L1647.8 169.1L1648.1 170.2L1648.6 171.4L1649 172.5L1649.4 173.6L1649.8 174.7L1650.3 175.9L1650.6 177L1651 178.1L1651.4 179.3L1651.9 180.4L1652.4 181.4L1652.9 182.5L1653.3 183.7L1653.8 184.8L1654.5 185.8L1655.3 186.7L1655.8 187.8L1656.4 188.8L1657.1 189.8L1657.9 190.7L1658.6 191.7L1659.3 192.6L1660.1 193.6L1661 194.4L1662 195L1663 195.7L1663.9 196.4L1664.7 197.4L1665.5 198.3L1666.6 198.9L1667.7 199.4L1668.8 200L1669.9 200.4L1671.1 200.7L1672.2 201.1L1673.3 201.6L1674.4 202.2L1675.4 202.8L1676.5 203.3L1677.7 203.5L1678.8 203.9L1680 204.2L1681.2 204.5L1682.3 204.7L1683.5 205.1L1684.6 205.5L1685.7 205.9L1686.9 206.2L1688.1 206.5L1689.2 206.8L1690.4 207L1691.6 207.1L1692.8 207.3L1694 207.4L1695.2 207.6L1696.4 207.8L1697.6 207.8L1698.8 207.9L1699.9 208.1L1701.1 208.2L1702.3 208.3L1703.5 208.5L1704.7 208.5L1705.9 208.6L1707.1 208.7L1708.3 208.8L1709.5 208.8L1710.7 208.9L1711.9 209L1713.1 209L1714.3 209.1L1715.5 209.2L1716.7 209.3L1717.9 209.3L1719.1 209.4L1720.3 209.5L1721.5 209.5L1722.7 209.6L1723.9 209.6L1725.1 209.7L1726.3 209.8L1727.5 209.8L1728.7 209.9L1729.9 210L1731.1 210L1732.3 210.1L1733.5 210.2L1734 210.2" fill="none" stroke="#0072BD" stroke-width="2.7" stroke-dasharray="7.6 8.4" stroke-linecap="round" stroke-linejoin="round"/>
<path d="M1734 210.2L1735.2 210L1736.4 209.9L1737.6 209.7L1738.8 209.6L1739.9 209.4L1741.1 209.3L1742.3 209.1L1743.5 209L1744.7 208.8L1745.9 208.6L1747.1 208.5L1748.3 208.3L1749.5 208.1L1750.6 207.9L1751.8 207.7L1753 207.5L1754.2 207.3L1755.4 207.1L1756.6 206.9L1757.7 206.6L1758.9 206.4L1760.1 206.2L1761.3 205.9L1762.4 205.7L1763.6 205.4L1764.8 205.1L1765.9 204.8L1767.1 204.4L1768.2 204.1L1769.4 203.7L1770.5 203.3L1771.6 202.9L1772.7 202.5L1773.9 202.1L1775 201.6L1776.1 201.1L1777.2 200.7L1778.3 200.2L1779.4 199.7L1780.4 199.2L1781.5 198.6L1782.6 198.1L1783.6 197.5L1784.7 196.9L1785.7 196.3L1786.7 195.7L1787.7 195L1788.7 194.3L1789.7 193.6L1790.7 192.9L1791.6 192.1L1792.5 191.4L1793.4 190.6L1794.3 189.7L1795.1 188.9L1796 188L1796.8 187.2L1797.6 186.3L1798.3 185.3L1799.1 184.4L1799.8 183.4L1800.5 182.4L1801.1 181.4L1801.7 180.4L1802.3 179.3L1802.9 178.3L1803.4 177.2L1803.9 176.1L1804.4 175L1804.8 173.9L1805.2 172.8L1805.6 171.6L1806 170.5L1806.4 169.4L1806.8 168.2L1807.2 167.1L1807.5 165.9L1807.8 164.8L1808.1 163.6L1808.4 162.5L1808.7 161.3L1808.9 160.1L1809.1 158.9L1809.3 157.7L1809.5 156.6L1809.7 155.4L1809.9 154.2L1810.1 153L1810.3 151.8L1810.4 150.6L1810.6 149.4L1810.7 148.2L1810.9 147.1L1811 145.9L1811.1 144.7L1811.2 143.5L1811.3 142.3L1811.4 141.1L1811.4 139.9L1811.5 138.7L1811.5 137.5L1811.5 136.3L1811.4 135.1L1811.4 133.9L1811.3 132.7L1811.2 131.5L1811.1 130.3L1811 129.1L1810.8 127.9L1810.6 126.7L1810.5 125.5L1810.3 124.4L1810 123.2L1809.8 122L1809.6 120.8L1809.3 119.6L1809 118.5L1808.8 117.3L1808.4 116.2L1808.1 115L1807.8 113.8L1807.4 112.7L1807 111.6L1806.6 110.4L1806.2 109.3L1805.8 108.2L1805.3 107.1L1804.8 106L1804.2 104.9L1803.7 103.9L1803.1 102.8L1802.5 101.8L1801.9 100.8L1801.3 99.7L1800.6 98.7L1799.9 97.7L1799.2 96.8L1798.5 95.8L1797.8 94.9L1797 93.9L1796.2 93L1795.4 92.1L1794.6 91.3L1793.8 90.4L1792.9 89.6L1792 88.7L1791.1 87.9L1790.2 87.1L1789.3 86.3L1788.4 85.6L1787.5 84.8L1786.5 84.1L1785.6 83.3L1784.6 82.6L1783.7 81.9L1782.7 81.2L1781.7 80.6L1780.7 79.9L1779.6 79.3L1778.6 78.7L1777.6 78.1L1776.5 77.5L1775.4 77L1774.4 76.4L1773.3 75.9L1772.2 75.4L1771.1 74.8L1770.1 74.3L1769 73.8L1767.9 73.3L1766.8 72.9L1765.7 72.4L1764.5 72L1763.4 71.5L1762.3 71.1L1761.2 70.6L1760.1 70.2L1759 69.7L1757.9 69.3L1756.7 68.9L1755.6 68.5L1754.5 68.1L1753.3 67.8L1752.1 67.6L1750.9 67.6L1749.8 67.9L1748.7 68.4L1747.7 69.1L1746.8 69.9L1746 70.8L1745.2 71.7L1744.5 72.7L1743.9 73.7L1743.2 74.7L1742.5 75.6L1741.9 76.7L1741.4 77.8L1741 78.9L1740.7 80.1L1740.5 81.3L1740.2 82.4L1740.1 83.6L1739.9 84.8L1739.8 86L1739.6 87.2L1739.5 88.4L1739.4 89.6L1739.2 90.8L1739.1 92L1739 93.2L1738.9 94.4L1738.8 95.6L1738.7 96.7L1738.6 97.9L1738.5 99.1L1738.3 100.3L1738.2 101.5L1738.1 102.7L1738 103.9L1737.9 105.1L1737.7 106.3L1737.6 107.5L1737.4 108.7L1737.3 109.9L1737.1 111.1L1737 112.3L1736.9 113.5L1736.8 114.6L1736.7 115.8L1736.6 117L1736.5 118.2L1736.4 119.4L1736.4 120.6L1736.3 121.8L1736.3 123L1736.2 124.2L1736.2 125.4L1736.1 126.6L1736.1 127.8L1736.1 129L1736 130.2L1736 131.4L1736 132.6L1736 133.8L1735.9 135L1735.9 136.2L1735.9 137.4L1735.9 138.6L1735.8 139.8L1735.8 141L1735.8 142.2L1735.8 143.4L1735.7 144.6L1735.7 145.8L1735.7 147L1735.6 148.2L1735.6 149.4L1735.6 150.6L1735.6 151.8L1735.5 153L1735.5 154.2L1735.5 155.4L1735.4 156.6L1735.4 157.8L1735.4 159L1735.3 160.2L1735.3 161.4L1735.3 162.6L1735.2 163.8L1735.2 165L1735.2 166.2L1735.1 167.4L1735.1 168.6L1735.1 169.8L1735 171L1735 172.2L1735 173.4L1734.9 174.6L1734.9 175.8L1734.9 177L1734.8 178.2L1734.8 179.4L1734.8 180.6L1734.8 181.8L1734.7 183L1734.7 184.2L1734.7 185.4L1734.6 186.6L1734.6 187.8L1734.6 189L1734.5 190.2L1734.5 191.4L1734.5 192.6L1734.4 193.8L1734.4 195L1734.4 196.2L1734.3 197.4L1734.3 198.6L1734.3 199.8L1734.2 201L1734.2 202.2L1734.2 203.4L1734.1 204.6L1734.1 205.8L1734.1 207L1734.1 208.2L1734 209.4L1734 210.2" fill="none" stroke="#77AC30" stroke-width="2.7" stroke-linejoin="round"/>
<path d="M1734 210.2L1734 209L1733.9 207.8L1733.9 206.6L1733.8 205.4L1733.8 204.2L1733.8 203L1733.7 201.8L1733.7 200.6L1733.6 199.4L1733.6 198.2L1733.6 197L1733.5 195.8L1733.5 194.6L1733.4 193.4L1733.4 192.2L1733.4 191L1733.3 189.8L1733.3 188.6L1733.2 187.4L1733.2 186.2L1733.2 185L1733.1 183.8L1733.1 182.6L1733 181.4L1733 180.2L1733 179L1732.9 177.8L1732.9 176.6L1732.9 175.4L1732.8 174.2L1732.8 173L1732.8 171.8L1732.7 170.6L1732.7 169.4L1732.7 168.2L1732.6 167L1732.6 165.8L1732.6 164.6L1732.5 163.4L1732.5 162.2L1732.5 161L1732.4 159.8L1732.4 158.6L1732.4 157.4L1732.4 156.2L1732.3 155L1732.3 153.8L1732.3 152.6L1732.2 151.4L1732.2 150.2L1732.2 149L1732.2 147.8L1732.1 146.6L1732.1 145.4L1732.1 144.2L1732.1 143L1732.1 141.8L1732.1 140.6L1732.1 139.4L1732 138.2L1732 137L1732 135.8L1732 134.6L1732 133.4L1732 132.2L1731.9 131L1731.9 129.8L1731.9 128.6L1731.9 127.4L1731.8 126.2L1731.8 125L1731.7 123.8L1731.7 122.6L1731.6 121.4L1731.5 120.2L1731.4 119L1731.3 117.8L1731.2 116.7L1731.1 115.5L1731 114.3L1730.8 113.1L1730.7 111.9L1730.6 110.7L1730.4 109.5L1730.2 108.3L1730.1 107.1L1729.9 105.9L1729.7 104.7L1729.5 103.6L1729.3 102.4L1729.1 101.2L1728.9 100L1728.7 98.8L1728.5 97.6L1728.3 96.5L1728.1 95.3L1727.9 94.1L1727.7 92.9L1727.5 91.7L1727.2 90.6L1727 89.4L1726.7 88.2L1726.5 87L1726.2 85.9L1726 84.7L1725.7 83.5L1725.4 82.4L1725.1 81.2L1724.9 80L1724.6 78.9L1724.3 77.7L1724 76.5L1723.6 75.4L1723.3 74.2L1723 73.1L1722.6 71.9L1722.1 70.8L1721.6 69.8L1721 68.7L1720.2 67.8L1719.5 66.9L1718.6 66.1L1717.5 65.5L1716.4 65.1L1715.2 64.9L1714 65.2L1712.9 65.5L1711.7 65.9L1710.6 66.2L1709.5 66.6L1708.4 67.1L1707.3 67.6L1706.2 68.1L1705.1 68.5L1704 69L1702.9 69.5L1701.8 70L1700.7 70.5L1699.6 71L1698.5 71.5L1697.4 72L1696.3 72.5L1695.2 73L1694.1 73.5L1693 74L1692 74.5L1690.9 75L1689.8 75.5L1688.7 76L1687.6 76.5L1686.5 77L1685.4 77.5L1684.4 78.1L1683.3 78.7L1682.3 79.3L1681.3 79.9L1680.3 80.6L1679.3 81.3L1678.3 82L1677.4 82.7L1676.4 83.4L1675.5 84.2L1674.6 85L1673.7 85.8L1672.8 86.6L1671.9 87.4L1671.1 88.3L1670.2 89.1L1669.4 90L1668.6 90.9L1667.8 91.8L1667 92.7L1666.3 93.6L1665.5 94.6L1664.8 95.5L1664.1 96.5L1663.4 97.5L1662.8 98.5L1662.1 99.5L1661.5 100.5L1660.9 101.6L1660.4 102.6L1659.8 103.7L1659.3 104.8L1658.8 105.9L1658.4 107L1657.9 108.1L1657.5 109.2L1657.1 110.4L1656.7 111.5L1656.4 112.7L1656.1 113.8L1655.7 115L1655.4 116.1L1655.2 117.3L1654.9 118.5L1654.7 119.7L1654.4 120.8L1654.2 122L1654 123.2L1653.9 124.4L1653.7 125.6L1653.6 126.8L1653.5 128L1653.4 129.2L1653.3 130.4L1653.3 131.6L1653.2 132.8L1653.2 134L1653.2 135.2L1653.2 136.4L1653.2 137.6L1653.2 138.8L1653.2 140L1653.3 141.2L1653.4 142.4L1653.5 143.5L1653.6 144.7L1653.7 145.9L1653.9 147.1L1654 148.3L1654.2 149.5L1654.4 150.7L1654.6 151.9L1654.9 153L1655.1 154.2L1655.4 155.4L1655.7 156.5L1656 157.7L1656.3 158.9L1656.6 160L1657 161.2L1657.3 162.3L1657.7 163.4L1658.1 164.6L1658.6 165.7L1659 166.8L1659.5 167.9L1660 169L1660.5 170.1L1661 171.2L1661.5 172.3L1662.1 173.3L1662.7 174.4L1663.3 175.4L1663.9 176.4L1664.5 177.5L1665.2 178.5L1665.8 179.5L1666.5 180.5L1667.2 181.4L1667.9 182.4L1668.7 183.3L1669.4 184.3L1670.2 185.2L1670.9 186.1L1671.7 187L1672.5 187.9L1673.4 188.8L1674.2 189.7L1675 190.5L1675.9 191.3L1676.8 192.2L1677.7 192.9L1678.6 193.7L1679.5 194.5L1680.5 195.2L1681.5 195.9L1682.4 196.6L1683.4 197.2L1684.5 197.9L1685.5 198.5L1686.5 199.1L1687.6 199.6L1688.7 200.2L1689.8 200.7L1690.9 201.2L1692 201.7L1693.1 202.1L1694.2 202.5L1695.3 203L1696.5 203.3L1697.6 203.7L1698.7 204L1699.9 204.4L1701.1 204.7L1702.2 205L1703.4 205.3L1704.6 205.5L1705.7 205.8L1706.9 206L1708.1 206.3L1709.3 206.5L1710.4 206.7L1711.6 206.9L1712.8 207.1L1714 207.3L1715.2 207.5L1716.4 207.7L1717.5 207.9L1718.7 208.1L1719.9 208.2L1721.1 208.4L1722.3 208.6L1723.5 208.7L1724.7 208.9L1725.9 209.1L1727.1 209.2L1728.2 209.4L1729.4 209.6L1730.6 209.7L1731.8 209.9L1733 210.1L1734 210.2" fill="none" stroke="#77AC30" stroke-width="2.7" stroke-linejoin="round"/>
<path d="M1696.9 391.2A36.6 36.6 0 0 1 1770.1 391.2M1660.3 391.2A73.2 73.2 0 0 1 1806.7 391.2M1623.8 391.2A109.7 109.7 0 0 1 1843.2 391.2M1587.2 391.2A146.3 146.3 0 0 1 1879.8 391.2M1733.5 391.2L1866 314.7M1733.5 391.2L1810 258.7M1733.5 391.2L1733.5 238.2M1733.5 391.2L1657 258.7M1733.5 391.2L1601 314.7M1580.5 391.2H1887" stroke="#9a9a9a" stroke-width="1.4" fill="none"/>
<path d="M1733.5 391.2L1734.7 390.9L1735.8 390.7L1737 390.4L1738.2 390.2L1739.4 389.9L1740.5 389.7L1741.7 389.4L1742.9 389.2L1744.1 388.9L1745.2 388.6L1746.4 388.4L1747.6 388.1L1748.7 387.8L1749.9 387.5L1751.1 387.3L1752.2 387L1753.4 386.7L1754.5 386.3L1755.7 386L1756.8 385.7L1758 385.3L1759.1 384.9L1760.3 384.5L1761.4 384.1L1762.5 383.7L1763.6 383.3L1764.7 382.8L1765.8 382.3L1766.9 381.8L1768 381.4L1769.1 380.8L1770.2 380.3L1771.3 379.8L1772.4 379.3L1773.4 378.7L1774.5 378.2L1775.6 377.7L1776.7 377.1L1777.7 376.5L1778.7 375.9L1779.7 375.2L1780.7 374.6L1781.8 374.1L1782.9 373.6L1783.9 372.9L1784.9 372.1L1785.9 371.5L1786.8 370.8L1787.8 370L1788.8 369.4L1789.6 368.5L1790.6 367.8L1791.6 367.2L1792.5 366.4L1793.5 365.6L1794.4 364.9L1795.3 364.1L1796.3 363.4L1797.1 362.5L1797.9 361.6L1798.9 360.9L1799.8 360.1L1800.6 359.3L1801.5 358.5L1802.4 357.7L1803.2 356.8L1804 355.8L1804.8 354.9L1805.7 354.1L1806.7 353.4L1807.6 352.7L1808.3 351.7L1809.1 350.8L1809.9 349.9L1810.6 348.9L1811.5 348.1L1812.3 347.2L1813.1 346.3L1814 345.5L1814.9 344.7L1815.7 343.8L1816.4 342.8L1817.1 341.9L1817.9 341L1818.6 339.9L1819.2 339L1820.1 338.1L1820.7 337L1821 335.9L1821.4 334.8L1822 333.7L1822.6 332.6L1822.9 331.5L1823.1 330.3L1823.3 329.1L1823.5 327.9L1823.7 326.7L1823.8 325.5L1823.9 324.3L1823.9 323.1L1823.8 321.9L1823.7 320.7L1823.7 319.5L1823.7 318.3L1823.6 317.1L1823.4 316L1823.3 314.8L1823.2 313.6L1822.9 312.4L1822.7 311.2L1822.7 310L1822.5 308.8L1822.2 307.6L1821.9 306.5L1821.6 305.3L1821.4 304.1L1821.3 302.9L1821 301.8L1820.6 300.6L1820.1 299.5L1819.7 298.4L1819.5 297.2L1819.3 296L1819 294.8L1818.7 293.7L1818.2 292.6L1817.6 291.5L1817.1 290.4L1816.8 289.2L1816.4 288.1L1816 287L1815.4 285.9L1814.9 284.8L1814.4 283.7L1813.8 282.7L1813.3 281.6L1812.8 280.5L1812.1 279.5L1811.5 278.5L1811 277.4L1810.5 276.3L1809.9 275.2L1809.2 274.2L1808.5 273.3L1807.8 272.3L1807.1 271.3L1806.3 270.5L1805.4 269.7L1804.5 268.8L1803.9 267.8L1803 266.9L1802 266.3L1801.1 265.4L1800.2 264.6L1799.2 264L1798.2 263.4L1797.2 262.7L1796.2 262.1L1795.2 261.3L1794.1 260.8L1793 260.3L1792 259.8L1790.8 259.4L1789.7 258.9L1788.7 258.2L1787.7 257.6L1786.6 257.2L1785.5 256.5L1784.5 256L1783.4 255.5L1782.3 255L1781.1 254.7L1780 254L1779.3 253.1L1778.3 252.4L1777.3 251.7L1776.2 251.1L1775 250.9L1773.8 250.9L1772.6 250.6L1771.5 250.1L1770.3 250L1769.1 250.1L1767.9 250L1766.7 249.9L1765.5 250L1764.3 250L1763.1 250.1L1761.9 250.2L1760.7 250.4L1759.6 250.8L1758.5 251.3L1757.5 251.9L1756.5 252.6L1755.5 253.3L1754.6 254.1L1753.7 254.9L1752.9 255.8L1752.1 256.7L1751.3 257.6L1750.5 258.5L1749.8 259.4L1749 260.4L1748.3 261.3L1747.6 262.3L1747 263.3L1746.4 264.4L1745.9 265.5L1745.4 266.5L1744.9 267.6L1744.5 268.8L1744.1 269.9L1743.7 271L1743.4 272.2L1743.1 273.4L1742.8 274.5L1742.6 275.7L1742.4 276.9L1742.2 278.1L1742.1 279.3L1742 280.5L1741.9 281.7L1741.8 282.9L1741.7 284.1L1741.6 285.2L1741.5 286.4L1741.3 287.6L1741.2 288.8L1741 290L1740.9 291.2L1740.7 292.4L1740.6 293.6L1740.6 294.8L1740.5 296L1740.4 297.2L1740.3 298.4L1740.2 299.6L1740.1 300.8L1740 302L1739.9 303.2L1739.9 304.4L1739.8 305.6L1739.7 306.8L1739.6 308L1739.5 309.2L1739.4 310.3L1739.3 311.5L1739.3 312.7L1739.2 313.9L1739.1 315.1L1739 316.3L1738.9 317.5L1738.8 318.7L1738.7 319.9L1738.7 321.1L1738.6 322.3L1738.5 323.5L1738.4 324.7L1738.3 325.9L1738.2 327.1L1738.1 328.3L1738 329.5L1737.9 330.7L1737.9 331.9L1737.8 333.1L1737.7 334.3L1737.6 335.5L1737.5 336.7L1737.4 337.9L1737.3 339.1L1737.2 340.3L1737 341.5L1736.9 342.7L1736.8 343.8L1736.7 345L1736.6 346.2L1736.5 347.4L1736.4 348.6L1736.3 349.8L1736.2 351L1736.1 352.2L1736 353.4L1735.9 354.6L1735.8 355.8L1735.7 357L1735.6 358.2L1735.5 359.4L1735.5 360.6L1735.4 361.8L1735.3 363L1735.2 364.2L1735.1 365.4L1735 366.6L1735 367.8L1734.9 369L1734.8 370.2L1734.7 371.4L1734.7 372.6L1734.6 373.8L1734.5 375L1734.4 376.2L1734.4 377.4L1734.3 378.6L1734.2 379.7L1734.1 380.9L1734.1 382.1L1734 383.3L1733.9 384.5L1733.8 385.7L1733.8 386.9L1733.7 388.1L1733.6 389.3L1733.5 390.5L1733.5 391.2" fill="none" stroke="#0072BD" stroke-width="2.7" stroke-dasharray="7.6 8.4" stroke-linecap="round" stroke-linejoin="round"/>
<path d="M1733.5 391.2L1733.4 390L1733.3 388.8L1733.2 387.6L1733.1 386.4L1733 385.2L1732.9 384L1732.8 382.8L1732.7 381.6L1732.6 380.4L1732.5 379.2L1732.4 378L1732.3 376.9L1732.2 375.7L1732.1 374.5L1732 373.3L1731.9 372.1L1731.8 370.9L1731.7 369.7L1731.6 368.5L1731.5 367.3L1731.4 366.1L1731.3 364.9L1731.3 363.7L1731.2 362.5L1731.1 361.3L1731 360.1L1730.9 358.9L1730.9 357.7L1730.8 356.5L1730.7 355.3L1730.6 354.1L1730.6 352.9L1730.5 351.7L1730.4 350.5L1730.4 349.3L1730.3 348.1L1730.3 346.9L1730.2 345.7L1730.2 344.5L1730.1 343.3L1730 342.1L1730 340.9L1729.9 339.7L1729.9 338.5L1729.8 337.3L1729.8 336.1L1729.7 334.9L1729.7 333.7L1729.6 332.5L1729.6 331.3L1729.5 330.1L1729.5 328.9L1729.4 327.7L1729.4 326.5L1729.3 325.3L1729.3 324.1L1729.2 322.9L1729.2 321.7L1729.1 320.5L1729.1 319.3L1729 318.1L1729 316.9L1729 315.7L1728.9 314.5L1728.9 313.4L1728.8 312.2L1728.8 311L1728.7 309.8L1728.7 308.6L1728.7 307.4L1728.6 306.2L1728.6 305L1728.5 303.8L1728.5 302.6L1728.4 301.4L1728.3 300.2L1728.3 299L1728.2 297.8L1728.2 296.6L1728.1 295.4L1728 294.2L1727.9 293L1727.8 291.8L1727.7 290.6L1727.6 289.4L1727.4 288.2L1727.3 287L1727.1 285.8L1726.9 284.6L1726.7 283.5L1726.5 282.3L1726.3 281.1L1726 279.9L1725.8 278.7L1725.6 277.6L1725.3 276.4L1725.1 275.2L1724.8 274.1L1724.4 272.9L1724.1 271.7L1723.8 270.6L1723.5 269.4L1723.2 268.3L1722.8 267.1L1722.5 266L1722.2 264.8L1721.9 263.7L1721.5 262.5L1721 261.4L1720.5 260.3L1720 259.3L1719.3 258.3L1718.4 257.5L1717.3 256.9L1716.2 256.4L1715.1 256.1L1713.9 255.9L1712.7 255.8L1711.5 255.6L1710.3 255.5L1709.1 255.5L1707.9 255.5L1706.7 255.5L1705.5 255.6L1704.3 255.7L1703.1 255.8L1701.9 256.1L1700.8 256.3L1699.6 256.5L1698.4 256.8L1697.3 257.3L1696.2 257.7L1695 257.9L1693.9 258.1L1692.7 258.1L1691.5 257.8L1690.4 257.5L1689.3 257L1688.1 256.8L1686.9 256.9L1685.8 257.3L1684.9 258.1L1683.9 258.8L1682.8 259.5L1681.9 260.3L1681.2 261.2L1680.5 262.2L1679.6 263.1L1678.7 263.8L1677.7 264.6L1676.8 265.3L1676 266.3L1675.3 267.2L1674.5 268.1L1673.7 269L1672.9 269.9L1672.1 270.8L1671.2 271.6L1670.4 272.4L1669.5 273.3L1668.7 274.2L1667.8 275L1666.8 275.6L1665.8 276.3L1664.9 277.2L1664 277.9L1662.9 278.5L1661.9 279.2L1661.1 280L1660.1 280.8L1659.3 281.6L1658.5 282.5L1657.6 283.4L1656.8 284.2L1655.8 285L1655 285.8L1654.3 286.8L1653.4 287.7L1652.4 288.4L1651.6 289.2L1651 290.3L1650.3 291.3L1649.5 292.2L1648.7 293.1L1648 294.1L1647.5 295.2L1646.9 296.2L1646.2 297.2L1645.4 298.1L1644.8 299.2L1644.4 300.4L1643.9 301.4L1643.4 302.5L1643.2 303.7L1642.8 304.9L1642.3 306L1641.9 307.1L1641.6 308.3L1641.3 309.4L1641.2 310.6L1641.1 311.9L1640.8 313L1640.5 314.2L1640.3 315.4L1640.4 316.6L1640.5 317.8L1640.5 319L1640.7 320.2L1641 321.4L1641.1 322.6L1641.1 323.8L1641 325L1641.3 326.2L1641.9 327.3L1642.4 328.4L1642.7 329.6L1643 330.7L1643.3 331.9L1643.6 333.1L1644 334.2L1644.7 335.2L1645.3 336.2L1645.7 337.4L1645.9 338.6L1646.5 339.7L1647.4 340.5L1648.1 341.4L1648.6 342.6L1649.1 343.7L1649.9 344.6L1650.6 345.5L1651.4 346.5L1652.1 347.4L1652.8 348.5L1653.3 349.5L1654.1 350.5L1654.9 351.4L1655.6 352.3L1656.2 353.4L1656.7 354.5L1657.3 355.5L1658 356.5L1658.5 357.6L1659 358.7L1659.9 359.5L1660.9 360.3L1661.6 361.3L1662.3 362.2L1663.2 363.1L1663.9 364L1664.7 365L1665.4 365.9L1666.3 366.7L1667.1 367.6L1667.8 368.6L1668.7 369.5L1669.7 370.1L1670.6 370.9L1671.5 371.7L1672.4 372.5L1673.3 373.3L1674.3 374L1675.5 374.4L1676.4 375.2L1677.3 376L1678.3 376.6L1679.4 377.1L1680.5 377.7L1681.6 378.2L1682.7 378.7L1683.8 379.2L1684.8 379.7L1685.9 380.2L1687 380.7L1688.1 381.1L1689.2 381.6L1690.4 382.1L1691.5 382.5L1692.6 382.9L1693.7 383.3L1694.9 383.6L1696.1 384L1697.2 384.3L1698.4 384.6L1699.5 384.9L1700.7 385.2L1701.8 385.6L1703 385.9L1704.2 386.1L1705.3 386.4L1706.5 386.7L1707.7 387L1708.9 387.2L1710 387.4L1711.2 387.7L1712.4 387.9L1713.6 388.1L1714.8 388.3L1715.9 388.5L1717.1 388.7L1718.3 388.9L1719.5 389.1L1720.7 389.3L1721.9 389.4L1723 389.6L1724.2 389.8L1725.4 390L1726.6 390.2L1727.8 390.3L1729 390.5L1730.2 390.7L1731.4 390.9L1732.5 391L1733.5 391.2" fill="none" stroke="#0072BD" stroke-width="2.7" stroke-dasharray="7.6 8.4" stroke-linecap="round" stroke-linejoin="round"/>
<path d="M1733.5 391.2L1734.7 391L1735.9 390.8L1737.1 390.6L1738.2 390.4L1739.4 390.3L1740.6 390.1L1741.8 389.9L1743 389.7L1744.2 389.5L1745.3 389.2L1746.5 389L1747.7 388.8L1748.9 388.5L1750 388.3L1751.2 388L1752.4 387.7L1753.5 387.4L1754.7 387L1755.8 386.7L1757 386.4L1758.1 386L1759.3 385.8L1760.4 385.4L1761.6 384.9L1762.7 384.6L1763.9 384.2L1765 383.9L1766.1 383.5L1767.2 383L1768.4 382.6L1769.5 382.2L1770.5 381.6L1771.6 381.1L1772.8 380.7L1773.8 380L1774.8 379.4L1775.9 378.9L1777 378.4L1778.1 377.9L1779.3 377.5L1780.3 377L1781.3 376.2L1782.2 375.5L1783.3 374.9L1784.2 374.1L1785.2 373.4L1786.3 372.9L1787.4 372.4L1788.2 371.5L1789 370.6L1790.3 370.2L1791.5 369.7L1792 368.5L1792.5 367.3L1793.5 366.6L1794.5 365.9L1795.3 365L1796.1 364.1L1797 363.3L1797.7 362.3L1798.4 361.4L1799.2 360.4L1800.1 359.7L1801 358.9L1801.8 357.9L1802.5 356.9L1803.1 355.9L1803.9 355L1804.9 354.3L1805.8 353.4L1806.4 352.4L1807 351.3L1807.3 350.1L1808 349.1L1808.9 348.2L1809.1 347L1809 345.7L1809.3 344.5L1809.9 343.5L1810.1 342.3L1810.4 341.1L1810.6 339.9L1811.1 338.8L1811.9 337.7L1812.1 336.5L1811.6 335.2L1811.3 334L1811.6 332.8L1811.8 331.6L1812 330.4L1812.1 329.2L1811.8 328L1811.9 326.8L1812.1 325.6L1812.1 324.4L1812.3 323.2L1811.9 322L1811.8 320.8L1811.6 319.6L1811 318.5L1810.8 317.3L1811.2 316.1L1811.6 314.8L1811.7 313.6L1811.4 312.4L1810.7 311.3L1810.1 310.2L1810.1 309L1810.3 307.7L1810.4 306.5L1810.5 305.2L1810.2 304L1809.6 302.9L1808.8 301.9L1808.1 300.9L1807.6 299.8L1807.3 298.6L1807.1 297.4L1806.6 296.3L1806.1 295.2L1805.8 294L1805.6 292.8L1805.5 291.6L1805.2 290.5L1804.8 289.3L1804.6 288.1L1804.6 286.9L1804.3 285.7L1804.4 284.5L1804 283.3L1802.8 282.4L1802.4 281.3L1802.5 280L1802.3 278.8L1801.7 277.8L1800.9 276.8L1800.3 275.8L1799.6 274.8L1798.8 273.9L1797.9 273.2L1796.6 272.7L1796 271.7L1795.7 270.2L1794.7 269.5L1793.5 269.1L1792.3 268.4L1791.2 268.3L1790.1 268.4L1788.9 268.2L1787.9 267.6L1786.7 267.2L1785.5 266.9L1784.6 266.2L1783.6 265.4L1782.6 264.7L1781.5 264.2L1780.3 264.1L1779.3 263.4L1778.7 262.3L1778 261.2L1777.2 260.4L1776.4 259.5L1775.7 258.5L1774.8 257.6L1773.9 256.8L1772.6 256.5L1771.3 256.5L1770.2 256.2L1769.2 255.5L1768 255.3L1766.8 255.1L1765.6 254.8L1764.4 254.3L1763.4 253.7L1762.4 253L1761.5 252.1L1760.9 251.1L1760.2 250L1759.3 249.2L1758.4 248.5L1757.6 247.6L1756.8 246.7L1755.8 246L1754.6 246.2L1753.7 247L1752.9 247.9L1752.3 248.9L1751.7 250L1751.1 251L1750.6 252.1L1750.2 253.2L1749.7 254.4L1749.3 255.5L1749 256.6L1748.6 257.8L1748.3 258.9L1748 260.1L1747.7 261.3L1747.4 262.4L1747.1 263.6L1746.9 264.8L1746.6 265.9L1746.3 267.1L1746.1 268.3L1745.8 269.4L1745.5 270.6L1745.3 271.8L1745 272.9L1744.8 274.1L1744.5 275.3L1744.3 276.5L1744 277.6L1743.8 278.8L1743.6 280L1743.4 281.2L1743.2 282.4L1742.9 283.5L1742.7 284.7L1742.5 285.9L1742.3 287.1L1742.1 288.3L1741.9 289.5L1741.7 290.6L1741.6 291.8L1741.4 293L1741.2 294.2L1741.1 295.4L1741 296.6L1740.8 297.8L1740.7 299L1740.6 300.2L1740.5 301.4L1740.4 302.6L1740.3 303.8L1740.2 305L1740.1 306.2L1740 307.4L1739.9 308.5L1739.9 309.7L1739.8 310.9L1739.7 312.1L1739.6 313.3L1739.5 314.5L1739.5 315.7L1739.4 316.9L1739.3 318.1L1739.2 319.3L1739.2 320.5L1739.1 321.7L1739 322.9L1738.9 324.1L1738.8 325.3L1738.8 326.5L1738.7 327.7L1738.6 328.9L1738.5 330.1L1738.4 331.3L1738.3 332.5L1738.2 333.7L1738.1 334.9L1738 336.1L1737.9 337.3L1737.8 338.5L1737.7 339.7L1737.6 340.9L1737.5 342.1L1737.4 343.3L1737.3 344.5L1737.2 345.6L1737.1 346.8L1737 348L1736.9 349.2L1736.8 350.4L1736.7 351.6L1736.6 352.8L1736.5 354L1736.4 355.2L1736.3 356.4L1736.2 357.6L1736.1 358.8L1736 360L1735.9 361.2L1735.8 362.4L1735.7 363.6L1735.6 364.8L1735.5 366L1735.4 367.2L1735.3 368.4L1735.2 369.6L1735.1 370.8L1735 372L1734.9 373.2L1734.8 374.4L1734.7 375.5L1734.7 376.7L1734.6 377.9L1734.5 379.1L1734.4 380.3L1734.3 381.5L1734.2 382.7L1734.1 383.9L1734 385.1L1733.9 386.3L1733.8 387.5L1733.7 388.7L1733.6 389.9L1733.5 391.1L1733.5 391.2" fill="none" stroke="#77AC30" stroke-width="2.7" stroke-linejoin="round"/>
<path d="M1733.5 391.2L1733.4 390L1733.3 388.8L1733.2 387.6L1733 386.4L1732.9 385.2L1732.8 384L1732.7 382.8L1732.6 381.6L1732.4 380.5L1732.3 379.3L1732.2 378.1L1732.1 376.9L1732 375.7L1731.9 374.5L1731.7 373.3L1731.6 372.1L1731.5 370.9L1731.4 369.7L1731.3 368.5L1731.2 367.3L1731.1 366.1L1731 364.9L1730.8 363.7L1730.7 362.5L1730.6 361.3L1730.5 360.1L1730.4 358.9L1730.3 357.8L1730.2 356.6L1730.1 355.4L1730 354.2L1729.9 353L1729.8 351.8L1729.7 350.6L1729.5 349.4L1729.4 348.2L1729.3 347L1729.2 345.8L1729.1 344.6L1729 343.4L1728.9 342.2L1728.8 341L1728.7 339.8L1728.6 338.6L1728.5 337.4L1728.4 336.2L1728.4 335L1728.3 333.8L1728.2 332.6L1728.1 331.4L1728 330.2L1727.9 329.1L1727.9 327.9L1727.8 326.7L1727.7 325.5L1727.7 324.3L1727.6 323.1L1727.5 321.9L1727.5 320.7L1727.4 319.5L1727.4 318.3L1727.3 317.1L1727.3 315.9L1727.2 314.7L1727.2 313.5L1727.1 312.3L1727.1 311.1L1727 309.9L1727 308.7L1726.9 307.5L1726.9 306.3L1726.8 305.1L1726.7 303.9L1726.7 302.7L1726.6 301.5L1726.5 300.3L1726.4 299.1L1726.3 297.9L1726.2 296.7L1726 295.5L1725.7 294.3L1725.4 293.2L1725.2 292L1725 290.8L1724.8 289.6L1724.7 288.4L1724.5 287.3L1724.3 286.1L1724.1 284.9L1724 283.7L1723.8 282.5L1723.6 281.3L1723.4 280.1L1723.3 279L1723.1 277.8L1722.9 276.6L1722.7 275.4L1722.5 274.2L1722.3 273L1722.1 271.9L1721.8 270.7L1721.6 269.5L1721.4 268.3L1721.1 267.1L1720.9 266L1720.6 264.8L1720.4 263.6L1720.1 262.5L1719.8 261.3L1719.4 260.2L1719.1 259L1718.6 257.9L1718.2 256.8L1717.7 255.7L1717.1 254.6L1716.4 253.7L1715.5 252.9L1714.5 252.3L1713.3 251.9L1712.1 251.7L1711 251.7L1709.8 252L1708.8 252.7L1707.7 253.4L1707.1 254.4L1706.8 255.7L1706.3 256.8L1705.2 257.5L1704.1 257L1703.1 256.2L1702 255.8L1700.7 255.7L1699.6 255.4L1698.6 255.2L1698 255.5L1697.5 256.1L1696.8 257L1695.8 257.9L1694.9 258.7L1694.3 259.7L1693.8 260.8L1693.1 261.8L1692.1 262.5L1691 263.1L1690.1 263.8L1688.9 264.2L1687.7 264.5L1686.5 264.5L1685.4 264.6L1684.2 264.8L1683 265.1L1682 265.7L1681.1 266.4L1679.9 266.9L1678.7 267.1L1677.7 267.7L1676.9 268.8L1676 269.7L1675 270.3L1673.9 270.7L1672.5 270.9L1671.5 271.4L1670.7 272.4L1669.7 273.1L1668.7 273.8L1667.6 274.3L1666.4 274.6L1665.3 275.1L1664.3 275.7L1663.3 276.4L1662.3 277.1L1661.3 277.7L1660.5 278.7L1660.3 280L1660 281.1L1659.7 282.2L1659.4 283.3L1658.8 284.4L1657.8 285.4L1657.1 286.5L1657.3 287.8L1657.7 289.1L1657.6 290.3L1657.3 291.5L1656.6 292.5L1656 293.6L1655.8 294.8L1655.7 296L1655.9 297.3L1656.3 298.6L1656.1 299.8L1655.2 300.8L1654.5 301.9L1654.2 303.1L1654.3 304.3L1654.2 305.5L1653.8 306.7L1653.6 307.9L1653.8 309.1L1653.9 310.3L1653.4 311.5L1653.2 312.7L1653.5 313.9L1653.7 315.1L1653.8 316.3L1654.1 317.5L1654.1 318.7L1653.7 319.9L1653.3 321.1L1653 322.3L1652.8 323.5L1652.9 324.7L1652.9 325.9L1653.2 327.1L1653.5 328.3L1653.7 329.5L1653.7 330.7L1653.7 331.9L1653.7 333.1L1653.9 334.3L1654.3 335.4L1654.4 336.6L1654.4 337.8L1654.4 339L1654.4 340.2L1654.8 341.4L1655.2 342.5L1655.5 343.7L1655.5 344.9L1655.7 346.1L1656.1 347.2L1656.4 348.4L1656.5 349.6L1656.8 350.8L1657.1 351.9L1657.4 353.1L1657.8 354.2L1658.1 355.4L1658.5 356.5L1658.7 357.7L1659 358.9L1659.3 360.1L1659.7 361.2L1660.1 362.3L1660.8 363.4L1661.3 364.5L1662.2 365.4L1663.1 366.1L1663.7 367.2L1664.3 368.3L1665 369.3L1666.1 369.9L1667 370.7L1668.1 371.3L1669.1 371.9L1670 372.8L1670.8 373.7L1671.5 374.8L1672.4 375.6L1673.8 375.7L1675 375.9L1675.9 376.8L1676.8 377.6L1677.9 378.2L1679.1 378.4L1680.3 378.7L1681.3 379.2L1682.4 379.9L1683.4 380.5L1684.6 380.7L1685.8 380.9L1686.9 381.3L1688.1 381.6L1689.2 382L1690.4 382.5L1691.5 382.8L1692.6 383.2L1693.7 383.7L1694.9 383.9L1696.2 384L1697.3 384.3L1698.4 384.7L1699.6 384.9L1700.8 385.2L1702 385.5L1703.1 385.7L1704.3 385.9L1705.5 386.1L1706.7 386.3L1707.9 386.5L1709.1 386.7L1710.2 386.9L1711.4 387.1L1712.6 387.2L1713.8 387.4L1715 387.6L1716.2 387.8L1717.4 388L1718.6 388.1L1719.7 388.3L1720.9 388.6L1722.1 388.8L1723.3 389L1724.5 389.2L1725.6 389.5L1726.8 389.7L1728 390L1729.1 390.2L1730.3 390.5L1731.5 390.8L1732.7 391L1733.5 391.2" fill="none" stroke="#77AC30" stroke-width="2.7" stroke-linejoin="round"/>
<text x="1572.6" y="67.2" font-size="42" font-weight="bold" fill="#000">(f)</text>
<text x="1972.4" y="64.8" text-anchor="end" font-size="26" font-weight="bold" fill="#000">hBN (HQG)</text>
<text x="1572.6" y="262.2" font-size="42" font-weight="bold" fill="#000">(g)</text>
<text x="1999" y="247.6" text-anchor="end" font-size="26" font-weight="bold" fill="#000">defect at 533 nm</text>
<text x="1998" y="280" text-anchor="end" font-size="26" font-weight="bold" fill="#000">in hBN (2DS)</text>
<path d="M1629 409.8h9.8M1645 409.8h5.5" stroke="#0072BD" stroke-width="2.6" fill="none"/>
<text x="1655" y="417.3" font-size="20.6" fill="#000">1 keV</text>
<path d="M1759.2 409.8H1778.3" stroke="#77AC30" stroke-width="2.6" fill="none"/>
<text x="1787.5" y="417.3" font-size="20.6" fill="#000">30 keV</text>
</svg>
</body></html>
